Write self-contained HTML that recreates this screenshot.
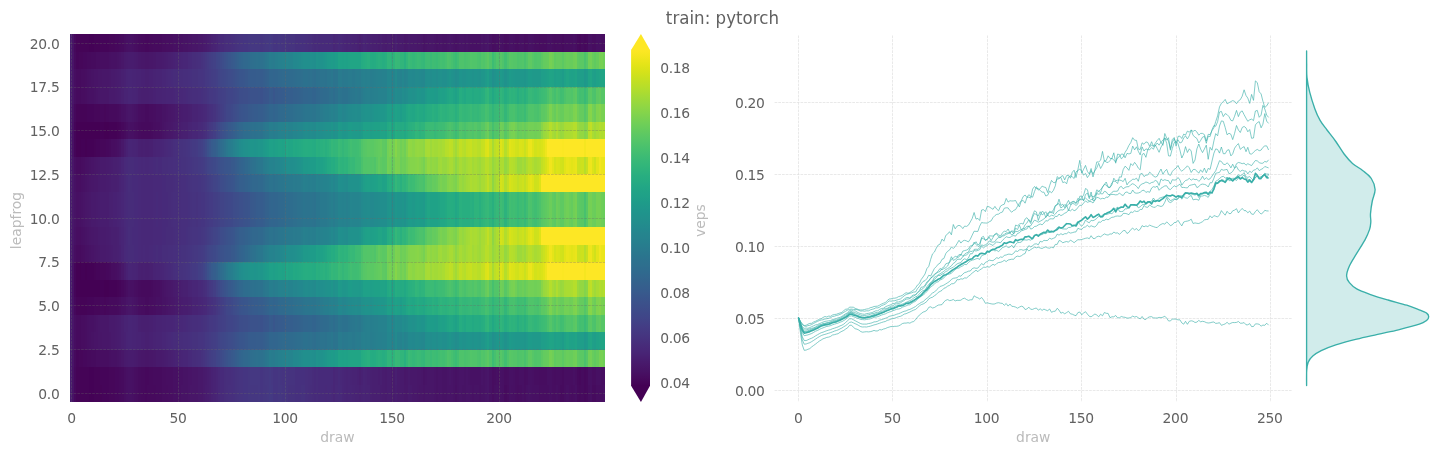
<!DOCTYPE html>
<html lang="en"><head><meta charset="utf-8"><title>train: pytorch</title>
<style>html,body{margin:0;padding:0;background:#fff;overflow:hidden}svg{display:block}</style>
</head><body>
<svg width="1444" height="455" viewBox="0 0 1444 455" font-family="'DejaVu Sans', 'Liberation Sans', sans-serif">
<rect width="1444" height="455" fill="#ffffff"/>
<g shape-rendering="crispEdges">
<g transform="translate(0,384.38)">
<rect x="70.00" width="2.44" height="17.82" fill="#481c6e"/><rect x="72.14" width="2.44" height="17.82" fill="#471365"/><rect x="74.28" width="2.44" height="17.82" fill="#46085c"/><rect x="76.42" width="13.14" height="17.82" fill="#450457"/><rect x="89.26" width="4.58" height="17.82" fill="#440256"/><rect x="93.54" width="8.86" height="17.82" fill="#450457"/><rect x="102.10" width="6.72" height="17.82" fill="#450559"/><rect x="108.52" width="6.72" height="17.82" fill="#46075a"/><rect x="114.94" width="4.58" height="17.82" fill="#46085c"/><rect x="119.22" width="2.44" height="17.82" fill="#460a5d"/><rect x="121.36" width="2.44" height="17.82" fill="#460b5e"/><rect x="123.50" width="2.44" height="17.82" fill="#470e61"/><rect x="125.64" width="2.44" height="17.82" fill="#471063"/><rect x="127.78" width="4.58" height="17.82" fill="#471164"/><rect x="132.06" width="2.44" height="17.82" fill="#471063"/><rect x="134.20" width="2.44" height="17.82" fill="#470e61"/><rect x="136.34" width="2.44" height="17.82" fill="#470d60"/><rect x="138.48" width="2.44" height="17.82" fill="#460b5e"/><rect x="140.62" width="4.58" height="17.82" fill="#460a5d"/><rect x="144.90" width="2.44" height="17.82" fill="#46085c"/><rect x="147.04" width="8.86" height="17.82" fill="#460a5d"/><rect x="155.60" width="6.72" height="17.82" fill="#460b5e"/><rect x="162.02" width="6.72" height="17.82" fill="#470d60"/><rect x="168.44" width="4.58" height="17.82" fill="#470e61"/><rect x="172.72" width="6.72" height="17.82" fill="#471063"/><rect x="179.14" width="2.44" height="17.82" fill="#471164"/><rect x="181.28" width="6.72" height="17.82" fill="#471365"/><rect x="187.70" width="2.44" height="17.82" fill="#481467"/><rect x="189.84" width="8.86" height="17.82" fill="#481668"/><rect x="198.40" width="4.58" height="17.82" fill="#48186a"/><rect x="202.68" width="2.44" height="17.82" fill="#481a6c"/><rect x="204.82" width="2.44" height="17.82" fill="#481c6e"/><rect x="206.96" width="2.44" height="17.82" fill="#481d6f"/><rect x="209.10" width="2.44" height="17.82" fill="#481f70"/><rect x="211.24" width="2.44" height="17.82" fill="#482173"/><rect x="213.38" width="2.44" height="17.82" fill="#482374"/><rect x="215.52" width="2.44" height="17.82" fill="#482576"/><rect x="217.66" width="2.44" height="17.82" fill="#482878"/><rect x="219.80" width="4.58" height="17.82" fill="#472a7a"/><rect x="224.08" width="2.44" height="17.82" fill="#472d7b"/><rect x="226.22" width="2.44" height="17.82" fill="#472e7c"/><rect x="228.36" width="4.58" height="17.82" fill="#472f7d"/><rect x="232.64" width="2.44" height="17.82" fill="#46307e"/><rect x="234.78" width="2.44" height="17.82" fill="#46327e"/><rect x="236.92" width="2.44" height="17.82" fill="#46337f"/><rect x="239.06" width="4.58" height="17.82" fill="#463480"/><rect x="243.34" width="4.58" height="17.82" fill="#453581"/><rect x="247.62" width="11.00" height="17.82" fill="#453781"/><rect x="258.32" width="2.44" height="17.82" fill="#453882"/><rect x="260.46" width="2.44" height="17.82" fill="#453581"/><rect x="262.60" width="4.58" height="17.82" fill="#453781"/><rect x="266.88" width="2.44" height="17.82" fill="#453882"/><rect x="269.02" width="2.44" height="17.82" fill="#443a83"/><rect x="271.16" width="2.44" height="17.82" fill="#443983"/><rect x="273.30" width="4.58" height="17.82" fill="#453581"/><rect x="277.58" width="4.58" height="17.82" fill="#453781"/><rect x="281.86" width="4.58" height="17.82" fill="#453581"/><rect x="286.14" width="2.44" height="17.82" fill="#463480"/><rect x="288.28" width="6.72" height="17.82" fill="#46327e"/><rect x="294.70" width="6.72" height="17.82" fill="#46307e"/><rect x="301.12" width="4.58" height="17.82" fill="#46327e"/><rect x="305.40" width="2.44" height="17.82" fill="#472f7d"/><rect x="307.54" width="2.44" height="17.82" fill="#472e7c"/><rect x="309.68" width="2.44" height="17.82" fill="#472d7b"/><rect x="311.82" width="2.44" height="17.82" fill="#472c7a"/><rect x="313.96" width="2.44" height="17.82" fill="#472a7a"/><rect x="316.10" width="2.44" height="17.82" fill="#472c7a"/><rect x="318.24" width="6.72" height="17.82" fill="#472a7a"/><rect x="324.66" width="2.44" height="17.82" fill="#482979"/><rect x="326.80" width="4.58" height="17.82" fill="#472a7a"/><rect x="331.08" width="2.44" height="17.82" fill="#482979"/><rect x="333.22" width="2.44" height="17.82" fill="#482677"/><rect x="335.36" width="2.44" height="17.82" fill="#482979"/><rect x="337.50" width="2.44" height="17.82" fill="#472a7a"/><rect x="339.64" width="2.44" height="17.82" fill="#482979"/><rect x="341.78" width="2.44" height="17.82" fill="#482677"/><rect x="343.92" width="2.44" height="17.82" fill="#482576"/><rect x="346.06" width="2.44" height="17.82" fill="#482475"/><rect x="348.20" width="4.58" height="17.82" fill="#482576"/><rect x="352.48" width="2.44" height="17.82" fill="#482475"/><rect x="354.62" width="4.58" height="17.82" fill="#482374"/><rect x="358.90" width="2.44" height="17.82" fill="#482173"/><rect x="361.04" width="2.44" height="17.82" fill="#482374"/><rect x="363.18" width="2.44" height="17.82" fill="#482475"/><rect x="365.32" width="4.58" height="17.82" fill="#482374"/><rect x="369.60" width="2.44" height="17.82" fill="#482071"/><rect x="371.74" width="8.86" height="17.82" fill="#481f70"/><rect x="380.30" width="2.44" height="17.82" fill="#481d6f"/><rect x="382.44" width="2.44" height="17.82" fill="#481c6e"/><rect x="384.58" width="2.44" height="17.82" fill="#481b6d"/><rect x="386.72" width="4.58" height="17.82" fill="#481d6f"/><rect x="391.00" width="4.58" height="17.82" fill="#481b6d"/><rect x="395.28" width="2.44" height="17.82" fill="#481d6f"/><rect x="397.42" width="2.44" height="17.82" fill="#481b6d"/><rect x="399.56" width="4.58" height="17.82" fill="#481a6c"/><rect x="403.84" width="4.58" height="17.82" fill="#48186a"/><rect x="408.12" width="2.44" height="17.82" fill="#481b6d"/><rect x="410.26" width="2.44" height="17.82" fill="#481a6c"/><rect x="412.40" width="4.58" height="17.82" fill="#48186a"/><rect x="416.68" width="2.44" height="17.82" fill="#481769"/><rect x="418.82" width="4.58" height="17.82" fill="#481668"/><rect x="423.10" width="2.44" height="17.82" fill="#481467"/><rect x="425.24" width="8.86" height="17.82" fill="#481668"/><rect x="433.80" width="2.44" height="17.82" fill="#481467"/><rect x="435.94" width="2.44" height="17.82" fill="#471365"/><rect x="438.08" width="4.58" height="17.82" fill="#481467"/><rect x="442.36" width="4.58" height="17.82" fill="#471365"/><rect x="446.64" width="6.72" height="17.82" fill="#481467"/><rect x="453.06" width="2.44" height="17.82" fill="#471365"/><rect x="455.20" width="2.44" height="17.82" fill="#471063"/><rect x="457.34" width="2.44" height="17.82" fill="#471365"/><rect x="459.48" width="2.44" height="17.82" fill="#481467"/><rect x="461.62" width="4.58" height="17.82" fill="#471365"/><rect x="465.90" width="4.58" height="17.82" fill="#481467"/><rect x="470.18" width="2.44" height="17.82" fill="#471365"/><rect x="472.32" width="2.44" height="17.82" fill="#471164"/><rect x="474.46" width="4.58" height="17.82" fill="#471365"/><rect x="478.74" width="2.44" height="17.82" fill="#471164"/><rect x="480.88" width="4.58" height="17.82" fill="#471365"/><rect x="485.16" width="2.44" height="17.82" fill="#481467"/><rect x="487.30" width="2.44" height="17.82" fill="#481668"/><rect x="489.44" width="2.44" height="17.82" fill="#471164"/><rect x="491.58" width="2.44" height="17.82" fill="#470d60"/><rect x="493.72" width="2.44" height="17.82" fill="#471063"/><rect x="495.86" width="2.44" height="17.82" fill="#471164"/><rect x="498.00" width="2.44" height="17.82" fill="#471063"/><rect x="500.14" width="2.44" height="17.82" fill="#471164"/><rect x="502.28" width="2.44" height="17.82" fill="#471063"/><rect x="504.42" width="2.44" height="17.82" fill="#460b5e"/><rect x="506.56" width="2.44" height="17.82" fill="#470d60"/><rect x="508.70" width="2.44" height="17.82" fill="#471164"/><rect x="510.84" width="4.58" height="17.82" fill="#471063"/><rect x="515.12" width="2.44" height="17.82" fill="#470e61"/><rect x="517.26" width="2.44" height="17.82" fill="#470d60"/><rect x="519.40" width="2.44" height="17.82" fill="#470e61"/><rect x="521.54" width="2.44" height="17.82" fill="#471063"/><rect x="523.68" width="2.44" height="17.82" fill="#470e61"/><rect x="525.82" width="2.44" height="17.82" fill="#471164"/><rect x="527.96" width="2.44" height="17.82" fill="#471365"/><rect x="530.10" width="2.44" height="17.82" fill="#471164"/><rect x="532.24" width="6.72" height="17.82" fill="#471063"/><rect x="538.66" width="11.00" height="17.82" fill="#470e61"/><rect x="549.36" width="2.44" height="17.82" fill="#471063"/><rect x="551.50" width="4.58" height="17.82" fill="#470e61"/><rect x="555.78" width="2.44" height="17.82" fill="#471063"/><rect x="557.92" width="2.44" height="17.82" fill="#470e61"/><rect x="560.06" width="4.58" height="17.82" fill="#460b5e"/><rect x="564.34" width="2.44" height="17.82" fill="#470e61"/><rect x="566.48" width="2.44" height="17.82" fill="#471063"/><rect x="568.62" width="2.44" height="17.82" fill="#470e61"/><rect x="570.76" width="2.44" height="17.82" fill="#470d60"/><rect x="572.90" width="2.44" height="17.82" fill="#470e61"/><rect x="575.04" width="2.44" height="17.82" fill="#471063"/><rect x="577.18" width="2.44" height="17.82" fill="#460b5e"/><rect x="579.32" width="2.44" height="17.82" fill="#460a5d"/><rect x="581.46" width="2.44" height="17.82" fill="#460b5e"/><rect x="583.60" width="2.44" height="17.82" fill="#46085c"/><rect x="585.74" width="2.44" height="17.82" fill="#460a5d"/><rect x="587.88" width="2.44" height="17.82" fill="#470e61"/><rect x="590.02" width="2.44" height="17.82" fill="#471063"/><rect x="592.16" width="4.58" height="17.82" fill="#460b5e"/><rect x="596.44" width="6.72" height="17.82" fill="#470e61"/><rect x="602.86" width="2.44" height="17.82" fill="#471063"/>
</g>
<g transform="translate(0,366.87)">
<rect x="70.00" width="2.44" height="17.82" fill="#481c6e"/><rect x="72.14" width="2.44" height="17.82" fill="#471365"/><rect x="74.28" width="2.44" height="17.82" fill="#46085c"/><rect x="76.42" width="13.14" height="17.82" fill="#450457"/><rect x="89.26" width="4.58" height="17.82" fill="#440256"/><rect x="93.54" width="6.72" height="17.82" fill="#450457"/><rect x="99.96" width="8.86" height="17.82" fill="#450559"/><rect x="108.52" width="6.72" height="17.82" fill="#46075a"/><rect x="114.94" width="4.58" height="17.82" fill="#46085c"/><rect x="119.22" width="2.44" height="17.82" fill="#460a5d"/><rect x="121.36" width="2.44" height="17.82" fill="#460b5e"/><rect x="123.50" width="2.44" height="17.82" fill="#470e61"/><rect x="125.64" width="2.44" height="17.82" fill="#471063"/><rect x="127.78" width="4.58" height="17.82" fill="#471164"/><rect x="132.06" width="2.44" height="17.82" fill="#471063"/><rect x="134.20" width="2.44" height="17.82" fill="#470e61"/><rect x="136.34" width="2.44" height="17.82" fill="#470d60"/><rect x="138.48" width="2.44" height="17.82" fill="#460b5e"/><rect x="140.62" width="4.58" height="17.82" fill="#460a5d"/><rect x="144.90" width="4.58" height="17.82" fill="#46085c"/><rect x="149.18" width="4.58" height="17.82" fill="#460a5d"/><rect x="153.46" width="8.86" height="17.82" fill="#460b5e"/><rect x="162.02" width="4.58" height="17.82" fill="#470d60"/><rect x="166.30" width="6.72" height="17.82" fill="#470e61"/><rect x="172.72" width="6.72" height="17.82" fill="#471063"/><rect x="179.14" width="4.58" height="17.82" fill="#471164"/><rect x="183.42" width="4.58" height="17.82" fill="#471365"/><rect x="187.70" width="4.58" height="17.82" fill="#481467"/><rect x="191.98" width="6.72" height="17.82" fill="#481668"/><rect x="198.40" width="4.58" height="17.82" fill="#48186a"/><rect x="202.68" width="2.44" height="17.82" fill="#481a6c"/><rect x="204.82" width="2.44" height="17.82" fill="#481b6d"/><rect x="206.96" width="2.44" height="17.82" fill="#481d6f"/><rect x="209.10" width="2.44" height="17.82" fill="#481f70"/><rect x="211.24" width="2.44" height="17.82" fill="#482173"/><rect x="213.38" width="2.44" height="17.82" fill="#482374"/><rect x="215.52" width="2.44" height="17.82" fill="#482576"/><rect x="217.66" width="2.44" height="17.82" fill="#482878"/><rect x="219.80" width="4.58" height="17.82" fill="#472a7a"/><rect x="224.08" width="2.44" height="17.82" fill="#472d7b"/><rect x="226.22" width="4.58" height="17.82" fill="#472e7c"/><rect x="230.50" width="2.44" height="17.82" fill="#472f7d"/><rect x="232.64" width="2.44" height="17.82" fill="#46307e"/><rect x="234.78" width="2.44" height="17.82" fill="#46327e"/><rect x="236.92" width="2.44" height="17.82" fill="#46337f"/><rect x="239.06" width="4.58" height="17.82" fill="#463480"/><rect x="243.34" width="4.58" height="17.82" fill="#453581"/><rect x="247.62" width="2.44" height="17.82" fill="#453781"/><rect x="249.76" width="11.00" height="17.82" fill="#453882"/><rect x="260.46" width="2.44" height="17.82" fill="#453581"/><rect x="262.60" width="2.44" height="17.82" fill="#453781"/><rect x="264.74" width="4.58" height="17.82" fill="#453882"/><rect x="269.02" width="2.44" height="17.82" fill="#443a83"/><rect x="271.16" width="2.44" height="17.82" fill="#453882"/><rect x="273.30" width="4.58" height="17.82" fill="#453581"/><rect x="277.58" width="2.44" height="17.82" fill="#453781"/><rect x="279.72" width="2.44" height="17.82" fill="#453581"/><rect x="281.86" width="2.44" height="17.82" fill="#463480"/><rect x="284.00" width="2.44" height="17.82" fill="#453581"/><rect x="286.14" width="2.44" height="17.82" fill="#463480"/><rect x="288.28" width="6.72" height="17.82" fill="#46337f"/><rect x="294.70" width="11.00" height="17.82" fill="#46307e"/><rect x="305.40" width="2.44" height="17.82" fill="#472f7d"/><rect x="307.54" width="4.58" height="17.82" fill="#472e7c"/><rect x="311.82" width="2.44" height="17.82" fill="#472c7a"/><rect x="313.96" width="2.44" height="17.82" fill="#472a7a"/><rect x="316.10" width="2.44" height="17.82" fill="#472c7a"/><rect x="318.24" width="15.28" height="17.82" fill="#472a7a"/><rect x="333.22" width="2.44" height="17.82" fill="#482677"/><rect x="335.36" width="2.44" height="17.82" fill="#482878"/><rect x="337.50" width="2.44" height="17.82" fill="#472a7a"/><rect x="339.64" width="2.44" height="17.82" fill="#482878"/><rect x="341.78" width="2.44" height="17.82" fill="#482677"/><rect x="343.92" width="2.44" height="17.82" fill="#482576"/><rect x="346.06" width="2.44" height="17.82" fill="#482475"/><rect x="348.20" width="2.44" height="17.82" fill="#482576"/><rect x="350.34" width="2.44" height="17.82" fill="#482475"/><rect x="352.48" width="4.58" height="17.82" fill="#482374"/><rect x="356.76" width="2.44" height="17.82" fill="#482173"/><rect x="358.90" width="2.44" height="17.82" fill="#481f70"/><rect x="361.04" width="2.44" height="17.82" fill="#482173"/><rect x="363.18" width="2.44" height="17.82" fill="#482475"/><rect x="365.32" width="2.44" height="17.82" fill="#482374"/><rect x="367.46" width="2.44" height="17.82" fill="#482173"/><rect x="369.60" width="2.44" height="17.82" fill="#482071"/><rect x="371.74" width="6.72" height="17.82" fill="#481f70"/><rect x="378.16" width="2.44" height="17.82" fill="#481d6f"/><rect x="380.30" width="2.44" height="17.82" fill="#481f70"/><rect x="382.44" width="2.44" height="17.82" fill="#481c6e"/><rect x="384.58" width="2.44" height="17.82" fill="#481b6d"/><rect x="386.72" width="4.58" height="17.82" fill="#481d6f"/><rect x="391.00" width="2.44" height="17.82" fill="#481a6c"/><rect x="393.14" width="2.44" height="17.82" fill="#481b6d"/><rect x="395.28" width="2.44" height="17.82" fill="#481f70"/><rect x="397.42" width="2.44" height="17.82" fill="#481b6d"/><rect x="399.56" width="4.58" height="17.82" fill="#481a6c"/><rect x="403.84" width="2.44" height="17.82" fill="#481769"/><rect x="405.98" width="2.44" height="17.82" fill="#48186a"/><rect x="408.12" width="2.44" height="17.82" fill="#481a6c"/><rect x="410.26" width="6.72" height="17.82" fill="#48186a"/><rect x="416.68" width="4.58" height="17.82" fill="#481769"/><rect x="420.96" width="2.44" height="17.82" fill="#481668"/><rect x="423.10" width="2.44" height="17.82" fill="#471365"/><rect x="425.24" width="2.44" height="17.82" fill="#481467"/><rect x="427.38" width="6.72" height="17.82" fill="#481668"/><rect x="433.80" width="2.44" height="17.82" fill="#481467"/><rect x="435.94" width="2.44" height="17.82" fill="#471365"/><rect x="438.08" width="4.58" height="17.82" fill="#481467"/><rect x="442.36" width="4.58" height="17.82" fill="#471365"/><rect x="446.64" width="2.44" height="17.82" fill="#481467"/><rect x="448.78" width="2.44" height="17.82" fill="#481668"/><rect x="450.92" width="2.44" height="17.82" fill="#481467"/><rect x="453.06" width="2.44" height="17.82" fill="#471365"/><rect x="455.20" width="2.44" height="17.82" fill="#471164"/><rect x="457.34" width="2.44" height="17.82" fill="#471365"/><rect x="459.48" width="4.58" height="17.82" fill="#481467"/><rect x="463.76" width="2.44" height="17.82" fill="#471365"/><rect x="465.90" width="2.44" height="17.82" fill="#481467"/><rect x="468.04" width="2.44" height="17.82" fill="#471365"/><rect x="470.18" width="11.00" height="17.82" fill="#471164"/><rect x="480.88" width="2.44" height="17.82" fill="#481467"/><rect x="483.02" width="2.44" height="17.82" fill="#471365"/><rect x="485.16" width="2.44" height="17.82" fill="#481467"/><rect x="487.30" width="2.44" height="17.82" fill="#481668"/><rect x="489.44" width="2.44" height="17.82" fill="#471164"/><rect x="491.58" width="2.44" height="17.82" fill="#470d60"/><rect x="493.72" width="2.44" height="17.82" fill="#470e61"/><rect x="495.86" width="2.44" height="17.82" fill="#471063"/><rect x="498.00" width="2.44" height="17.82" fill="#470e61"/><rect x="500.14" width="2.44" height="17.82" fill="#471164"/><rect x="502.28" width="2.44" height="17.82" fill="#471063"/><rect x="504.42" width="2.44" height="17.82" fill="#470d60"/><rect x="506.56" width="2.44" height="17.82" fill="#470e61"/><rect x="508.70" width="4.58" height="17.82" fill="#471164"/><rect x="512.98" width="2.44" height="17.82" fill="#471063"/><rect x="515.12" width="4.58" height="17.82" fill="#470e61"/><rect x="519.40" width="4.58" height="17.82" fill="#471063"/><rect x="523.68" width="2.44" height="17.82" fill="#470d60"/><rect x="525.82" width="2.44" height="17.82" fill="#470e61"/><rect x="527.96" width="4.58" height="17.82" fill="#471164"/><rect x="532.24" width="2.44" height="17.82" fill="#471063"/><rect x="534.38" width="4.58" height="17.82" fill="#470e61"/><rect x="538.66" width="8.86" height="17.82" fill="#470d60"/><rect x="547.22" width="4.58" height="17.82" fill="#471063"/><rect x="551.50" width="2.44" height="17.82" fill="#470e61"/><rect x="553.64" width="2.44" height="17.82" fill="#470d60"/><rect x="555.78" width="4.58" height="17.82" fill="#470e61"/><rect x="560.06" width="2.44" height="17.82" fill="#470d60"/><rect x="562.20" width="2.44" height="17.82" fill="#460b5e"/><rect x="564.34" width="8.86" height="17.82" fill="#470e61"/><rect x="572.90" width="2.44" height="17.82" fill="#471063"/><rect x="575.04" width="2.44" height="17.82" fill="#470e61"/><rect x="577.18" width="2.44" height="17.82" fill="#460a5d"/><rect x="579.32" width="2.44" height="17.82" fill="#46085c"/><rect x="581.46" width="2.44" height="17.82" fill="#460b5e"/><rect x="583.60" width="2.44" height="17.82" fill="#46085c"/><rect x="585.74" width="2.44" height="17.82" fill="#460a5d"/><rect x="587.88" width="4.58" height="17.82" fill="#471063"/><rect x="592.16" width="4.58" height="17.82" fill="#470d60"/><rect x="596.44" width="4.58" height="17.82" fill="#471063"/><rect x="600.72" width="4.58" height="17.82" fill="#470e61"/>
</g>
<g transform="translate(0,349.35)">
<rect x="70.00" width="2.44" height="17.82" fill="#481c6e"/><rect x="72.14" width="2.44" height="17.82" fill="#481467"/><rect x="74.28" width="2.44" height="17.82" fill="#460a5d"/><rect x="76.42" width="2.44" height="17.82" fill="#450559"/><rect x="78.56" width="4.58" height="17.82" fill="#46075a"/><rect x="82.84" width="4.58" height="17.82" fill="#46085c"/><rect x="87.12" width="4.58" height="17.82" fill="#460a5d"/><rect x="91.40" width="4.58" height="17.82" fill="#460b5e"/><rect x="95.68" width="4.58" height="17.82" fill="#470d60"/><rect x="99.96" width="8.86" height="17.82" fill="#470e61"/><rect x="108.52" width="2.44" height="17.82" fill="#471063"/><rect x="110.66" width="6.72" height="17.82" fill="#471164"/><rect x="117.08" width="2.44" height="17.82" fill="#471365"/><rect x="119.22" width="2.44" height="17.82" fill="#481467"/><rect x="121.36" width="2.44" height="17.82" fill="#481769"/><rect x="123.50" width="2.44" height="17.82" fill="#481a6c"/><rect x="125.64" width="2.44" height="17.82" fill="#481b6d"/><rect x="127.78" width="6.72" height="17.82" fill="#481c6e"/><rect x="134.20" width="2.44" height="17.82" fill="#481b6d"/><rect x="136.34" width="2.44" height="17.82" fill="#481a6c"/><rect x="138.48" width="2.44" height="17.82" fill="#48186a"/><rect x="140.62" width="4.58" height="17.82" fill="#481769"/><rect x="144.90" width="4.58" height="17.82" fill="#481668"/><rect x="149.18" width="4.58" height="17.82" fill="#481769"/><rect x="153.46" width="2.44" height="17.82" fill="#48186a"/><rect x="155.60" width="6.72" height="17.82" fill="#481a6c"/><rect x="162.02" width="2.44" height="17.82" fill="#481b6d"/><rect x="164.16" width="2.44" height="17.82" fill="#481c6e"/><rect x="166.30" width="2.44" height="17.82" fill="#481d6f"/><rect x="168.44" width="2.44" height="17.82" fill="#481f70"/><rect x="170.58" width="2.44" height="17.82" fill="#482071"/><rect x="172.72" width="2.44" height="17.82" fill="#482173"/><rect x="174.86" width="4.58" height="17.82" fill="#482374"/><rect x="179.14" width="2.44" height="17.82" fill="#482475"/><rect x="181.28" width="2.44" height="17.82" fill="#482576"/><rect x="183.42" width="4.58" height="17.82" fill="#482677"/><rect x="187.70" width="2.44" height="17.82" fill="#482979"/><rect x="189.84" width="2.44" height="17.82" fill="#472a7a"/><rect x="191.98" width="4.58" height="17.82" fill="#472d7b"/><rect x="196.26" width="2.44" height="17.82" fill="#472e7c"/><rect x="198.40" width="2.44" height="17.82" fill="#472f7d"/><rect x="200.54" width="2.44" height="17.82" fill="#46327e"/><rect x="202.68" width="2.44" height="17.82" fill="#463480"/><rect x="204.82" width="2.44" height="17.82" fill="#453781"/><rect x="206.96" width="2.44" height="17.82" fill="#443a83"/><rect x="209.10" width="2.44" height="17.82" fill="#433d84"/><rect x="211.24" width="2.44" height="17.82" fill="#423f85"/><rect x="213.38" width="2.44" height="17.82" fill="#424186"/><rect x="215.52" width="2.44" height="17.82" fill="#404588"/><rect x="217.66" width="2.44" height="17.82" fill="#3f4788"/><rect x="219.80" width="2.44" height="17.82" fill="#3e4a89"/><rect x="221.94" width="2.44" height="17.82" fill="#3d4d8a"/><rect x="224.08" width="2.44" height="17.82" fill="#3c508b"/><rect x="226.22" width="2.44" height="17.82" fill="#3a538b"/><rect x="228.36" width="2.44" height="17.82" fill="#39568c"/><rect x="230.50" width="2.44" height="17.82" fill="#38598c"/><rect x="232.64" width="2.44" height="17.82" fill="#375b8d"/><rect x="234.78" width="2.44" height="17.82" fill="#355e8d"/><rect x="236.92" width="2.44" height="17.82" fill="#34618d"/><rect x="239.06" width="2.44" height="17.82" fill="#32648e"/><rect x="241.20" width="2.44" height="17.82" fill="#31668e"/><rect x="243.34" width="2.44" height="17.82" fill="#31688e"/><rect x="245.48" width="2.44" height="17.82" fill="#30698e"/><rect x="247.62" width="2.44" height="17.82" fill="#2f6b8e"/><rect x="249.76" width="2.44" height="17.82" fill="#2e6e8e"/><rect x="251.90" width="2.44" height="17.82" fill="#2e6f8e"/><rect x="254.04" width="2.44" height="17.82" fill="#2d708e"/><rect x="256.18" width="2.44" height="17.82" fill="#2d718e"/><rect x="258.32" width="2.44" height="17.82" fill="#2c718e"/><rect x="260.46" width="2.44" height="17.82" fill="#2d718e"/><rect x="262.60" width="2.44" height="17.82" fill="#2c738e"/><rect x="264.74" width="2.44" height="17.82" fill="#2a768e"/><rect x="266.88" width="2.44" height="17.82" fill="#2a788e"/><rect x="269.02" width="2.44" height="17.82" fill="#287d8e"/><rect x="271.16" width="2.44" height="17.82" fill="#287c8e"/><rect x="273.30" width="2.44" height="17.82" fill="#297b8e"/><rect x="275.44" width="2.44" height="17.82" fill="#277e8e"/><rect x="277.58" width="2.44" height="17.82" fill="#27808e"/><rect x="279.72" width="2.44" height="17.82" fill="#26818e"/><rect x="281.86" width="2.44" height="17.82" fill="#26828e"/><rect x="284.00" width="2.44" height="17.82" fill="#25838e"/><rect x="286.14" width="2.44" height="17.82" fill="#25858e"/><rect x="288.28" width="4.58" height="17.82" fill="#25848e"/><rect x="292.56" width="4.58" height="17.82" fill="#23888e"/><rect x="296.84" width="2.44" height="17.82" fill="#23898e"/><rect x="298.98" width="2.44" height="17.82" fill="#228b8d"/><rect x="301.12" width="2.44" height="17.82" fill="#228d8d"/><rect x="303.26" width="6.72" height="17.82" fill="#218f8d"/><rect x="309.68" width="2.44" height="17.82" fill="#21908d"/><rect x="311.82" width="2.44" height="17.82" fill="#218f8d"/><rect x="313.96" width="2.44" height="17.82" fill="#218e8d"/><rect x="316.10" width="2.44" height="17.82" fill="#20938c"/><rect x="318.24" width="4.58" height="17.82" fill="#20928c"/><rect x="322.52" width="2.44" height="17.82" fill="#1f948c"/><rect x="324.66" width="2.44" height="17.82" fill="#1f968b"/><rect x="326.80" width="2.44" height="17.82" fill="#1f998a"/><rect x="328.94" width="2.44" height="17.82" fill="#1f9a8a"/><rect x="331.08" width="2.44" height="17.82" fill="#1e9c89"/><rect x="333.22" width="2.44" height="17.82" fill="#1f9a8a"/><rect x="335.36" width="2.44" height="17.82" fill="#1e9d89"/><rect x="337.50" width="2.44" height="17.82" fill="#20a386"/><rect x="339.64" width="2.44" height="17.82" fill="#1fa287"/><rect x="341.78" width="2.44" height="17.82" fill="#1fa187"/><rect x="343.92" width="2.44" height="17.82" fill="#1fa287"/><rect x="346.06" width="2.44" height="17.82" fill="#1fa187"/><rect x="348.20" width="2.44" height="17.82" fill="#20a386"/><rect x="350.34" width="11.00" height="17.82" fill="#21a585"/><rect x="361.04" width="2.44" height="17.82" fill="#25ab82"/><rect x="363.18" width="2.44" height="17.82" fill="#26ad81"/><rect x="365.32" width="2.44" height="17.82" fill="#28ae80"/><rect x="367.46" width="2.44" height="17.82" fill="#2ab07f"/><rect x="369.60" width="2.44" height="17.82" fill="#25ac82"/><rect x="371.74" width="2.44" height="17.82" fill="#25ab82"/><rect x="373.88" width="2.44" height="17.82" fill="#25ac82"/><rect x="376.02" width="2.44" height="17.82" fill="#28ae80"/><rect x="378.16" width="2.44" height="17.82" fill="#2ab07f"/><rect x="380.30" width="2.44" height="17.82" fill="#29af7f"/><rect x="382.44" width="2.44" height="17.82" fill="#27ad81"/><rect x="384.58" width="2.44" height="17.82" fill="#29af7f"/><rect x="386.72" width="4.58" height="17.82" fill="#31b57b"/><rect x="391.00" width="2.44" height="17.82" fill="#2cb17e"/><rect x="393.14" width="2.44" height="17.82" fill="#2fb47c"/><rect x="395.28" width="2.44" height="17.82" fill="#38b977"/><rect x="397.42" width="2.44" height="17.82" fill="#37b878"/><rect x="399.56" width="4.58" height="17.82" fill="#31b57b"/><rect x="403.84" width="2.44" height="17.82" fill="#2ab07f"/><rect x="405.98" width="2.44" height="17.82" fill="#32b67a"/><rect x="408.12" width="2.44" height="17.82" fill="#3bbb75"/><rect x="410.26" width="2.44" height="17.82" fill="#38b977"/><rect x="412.40" width="2.44" height="17.82" fill="#35b779"/><rect x="414.54" width="2.44" height="17.82" fill="#38b977"/><rect x="416.68" width="2.44" height="17.82" fill="#3bbb75"/><rect x="418.82" width="2.44" height="17.82" fill="#3aba76"/><rect x="420.96" width="2.44" height="17.82" fill="#37b878"/><rect x="423.10" width="2.44" height="17.82" fill="#35b779"/><rect x="425.24" width="2.44" height="17.82" fill="#3dbc74"/><rect x="427.38" width="2.44" height="17.82" fill="#3fbc73"/><rect x="429.52" width="2.44" height="17.82" fill="#3aba76"/><rect x="431.66" width="2.44" height="17.82" fill="#3fbc73"/><rect x="433.80" width="2.44" height="17.82" fill="#3dbc74"/><rect x="435.94" width="2.44" height="17.82" fill="#3bbb75"/><rect x="438.08" width="2.44" height="17.82" fill="#40bd72"/><rect x="440.22" width="2.44" height="17.82" fill="#44bf70"/><rect x="442.36" width="2.44" height="17.82" fill="#42be71"/><rect x="444.50" width="2.44" height="17.82" fill="#46c06f"/><rect x="446.64" width="2.44" height="17.82" fill="#4ec36b"/><rect x="448.78" width="2.44" height="17.82" fill="#4cc26c"/><rect x="450.92" width="2.44" height="17.82" fill="#46c06f"/><rect x="453.06" width="2.44" height="17.82" fill="#40bd72"/><rect x="455.20" width="2.44" height="17.82" fill="#3bbb75"/><rect x="457.34" width="2.44" height="17.82" fill="#42be71"/><rect x="459.48" width="4.58" height="17.82" fill="#4ec36b"/><rect x="463.76" width="2.44" height="17.82" fill="#4ac16d"/><rect x="465.90" width="2.44" height="17.82" fill="#4cc26c"/><rect x="468.04" width="2.44" height="17.82" fill="#4ec36b"/><rect x="470.18" width="2.44" height="17.82" fill="#52c569"/><rect x="472.32" width="4.58" height="17.82" fill="#50c46a"/><rect x="476.60" width="2.44" height="17.82" fill="#4cc26c"/><rect x="478.74" width="2.44" height="17.82" fill="#4ac16d"/><rect x="480.88" width="2.44" height="17.82" fill="#52c569"/><rect x="483.02" width="2.44" height="17.82" fill="#50c46a"/><rect x="485.16" width="2.44" height="17.82" fill="#56c667"/><rect x="487.30" width="2.44" height="17.82" fill="#5cc863"/><rect x="489.44" width="2.44" height="17.82" fill="#50c46a"/><rect x="491.58" width="2.44" height="17.82" fill="#3dbc74"/><rect x="493.72" width="2.44" height="17.82" fill="#46c06f"/><rect x="495.86" width="2.44" height="17.82" fill="#50c46a"/><rect x="498.00" width="2.44" height="17.82" fill="#4ec36b"/><rect x="500.14" width="2.44" height="17.82" fill="#56c667"/><rect x="502.28" width="2.44" height="17.82" fill="#4ec36b"/><rect x="504.42" width="2.44" height="17.82" fill="#42be71"/><rect x="506.56" width="2.44" height="17.82" fill="#4ec36b"/><rect x="508.70" width="2.44" height="17.82" fill="#58c765"/><rect x="510.84" width="2.44" height="17.82" fill="#56c667"/><rect x="512.98" width="4.58" height="17.82" fill="#54c568"/><rect x="517.26" width="2.44" height="17.82" fill="#4ec36b"/><rect x="519.40" width="2.44" height="17.82" fill="#50c46a"/><rect x="521.54" width="2.44" height="17.82" fill="#52c569"/><rect x="523.68" width="2.44" height="17.82" fill="#4ac16d"/><rect x="525.82" width="2.44" height="17.82" fill="#52c569"/><rect x="527.96" width="4.58" height="17.82" fill="#5ec962"/><rect x="532.24" width="2.44" height="17.82" fill="#56c667"/><rect x="534.38" width="2.44" height="17.82" fill="#50c46a"/><rect x="536.52" width="4.58" height="17.82" fill="#52c569"/><rect x="540.80" width="2.44" height="17.82" fill="#5cc863"/><rect x="542.94" width="2.44" height="17.82" fill="#63cb5f"/><rect x="545.08" width="2.44" height="17.82" fill="#65cb5e"/><rect x="547.22" width="2.44" height="17.82" fill="#67cc5c"/><rect x="549.36" width="2.44" height="17.82" fill="#75d054"/><rect x="551.50" width="2.44" height="17.82" fill="#6ece58"/><rect x="553.64" width="2.44" height="17.82" fill="#60ca60"/><rect x="555.78" width="4.58" height="17.82" fill="#65cb5e"/><rect x="560.06" width="2.44" height="17.82" fill="#63cb5f"/><rect x="562.20" width="2.44" height="17.82" fill="#5cc863"/><rect x="564.34" width="2.44" height="17.82" fill="#65cb5e"/><rect x="566.48" width="2.44" height="17.82" fill="#69cd5b"/><rect x="568.62" width="4.58" height="17.82" fill="#67cc5c"/><rect x="572.90" width="2.44" height="17.82" fill="#6ece58"/><rect x="575.04" width="2.44" height="17.82" fill="#70cf57"/><rect x="577.18" width="2.44" height="17.82" fill="#5ec962"/><rect x="579.32" width="4.58" height="17.82" fill="#5ac864"/><rect x="583.60" width="2.44" height="17.82" fill="#4cc26c"/><rect x="585.74" width="2.44" height="17.82" fill="#56c667"/><rect x="587.88" width="2.44" height="17.82" fill="#70cf57"/><rect x="590.02" width="2.44" height="17.82" fill="#73d056"/><rect x="592.16" width="2.44" height="17.82" fill="#67cc5c"/><rect x="594.30" width="2.44" height="17.82" fill="#60ca60"/><rect x="596.44" width="2.44" height="17.82" fill="#67cc5c"/><rect x="598.58" width="2.44" height="17.82" fill="#75d054"/><rect x="600.72" width="2.44" height="17.82" fill="#77d153"/><rect x="602.86" width="2.44" height="17.82" fill="#6ece58"/>
</g>
<g transform="translate(0,331.83)">
<rect x="70.00" width="2.44" height="17.82" fill="#481c6e"/><rect x="72.14" width="2.44" height="17.82" fill="#481668"/><rect x="74.28" width="2.44" height="17.82" fill="#470e61"/><rect x="76.42" width="4.58" height="17.82" fill="#460b5e"/><rect x="80.70" width="4.58" height="17.82" fill="#470d60"/><rect x="84.98" width="2.44" height="17.82" fill="#470e61"/><rect x="87.12" width="2.44" height="17.82" fill="#471063"/><rect x="89.26" width="2.44" height="17.82" fill="#471164"/><rect x="91.40" width="2.44" height="17.82" fill="#471365"/><rect x="93.54" width="4.58" height="17.82" fill="#481467"/><rect x="97.82" width="4.58" height="17.82" fill="#481668"/><rect x="102.10" width="6.72" height="17.82" fill="#481769"/><rect x="108.52" width="2.44" height="17.82" fill="#48186a"/><rect x="110.66" width="4.58" height="17.82" fill="#481a6c"/><rect x="114.94" width="2.44" height="17.82" fill="#481b6d"/><rect x="117.08" width="2.44" height="17.82" fill="#481c6e"/><rect x="119.22" width="2.44" height="17.82" fill="#481d6f"/><rect x="121.36" width="2.44" height="17.82" fill="#482071"/><rect x="123.50" width="2.44" height="17.82" fill="#482173"/><rect x="125.64" width="2.44" height="17.82" fill="#482475"/><rect x="127.78" width="4.58" height="17.82" fill="#482576"/><rect x="132.06" width="4.58" height="17.82" fill="#482475"/><rect x="136.34" width="4.58" height="17.82" fill="#482374"/><rect x="140.62" width="4.58" height="17.82" fill="#482173"/><rect x="144.90" width="4.58" height="17.82" fill="#482071"/><rect x="149.18" width="4.58" height="17.82" fill="#482173"/><rect x="153.46" width="2.44" height="17.82" fill="#482374"/><rect x="155.60" width="6.72" height="17.82" fill="#482475"/><rect x="162.02" width="4.58" height="17.82" fill="#482677"/><rect x="166.30" width="2.44" height="17.82" fill="#482878"/><rect x="168.44" width="2.44" height="17.82" fill="#482979"/><rect x="170.58" width="2.44" height="17.82" fill="#472a7a"/><rect x="172.72" width="6.72" height="17.82" fill="#472c7a"/><rect x="179.14" width="4.58" height="17.82" fill="#472d7b"/><rect x="183.42" width="4.58" height="17.82" fill="#472e7c"/><rect x="187.70" width="2.44" height="17.82" fill="#472f7d"/><rect x="189.84" width="2.44" height="17.82" fill="#46307e"/><rect x="191.98" width="6.72" height="17.82" fill="#46327e"/><rect x="198.40" width="4.58" height="17.82" fill="#463480"/><rect x="202.68" width="2.44" height="17.82" fill="#453581"/><rect x="204.82" width="2.44" height="17.82" fill="#453882"/><rect x="206.96" width="2.44" height="17.82" fill="#443983"/><rect x="209.10" width="2.44" height="17.82" fill="#443b84"/><rect x="211.24" width="2.44" height="17.82" fill="#433d84"/><rect x="213.38" width="2.44" height="17.82" fill="#433e85"/><rect x="215.52" width="2.44" height="17.82" fill="#424086"/><rect x="217.66" width="2.44" height="17.82" fill="#414487"/><rect x="219.80" width="2.44" height="17.82" fill="#404688"/><rect x="221.94" width="2.44" height="17.82" fill="#3f4788"/><rect x="224.08" width="2.44" height="17.82" fill="#3f4889"/><rect x="226.22" width="2.44" height="17.82" fill="#3e4a89"/><rect x="228.36" width="2.44" height="17.82" fill="#3e4c8a"/><rect x="230.50" width="2.44" height="17.82" fill="#3d4d8a"/><rect x="232.64" width="2.44" height="17.82" fill="#3c4f8a"/><rect x="234.78" width="2.44" height="17.82" fill="#3b518b"/><rect x="236.92" width="2.44" height="17.82" fill="#3a538b"/><rect x="239.06" width="4.58" height="17.82" fill="#39558c"/><rect x="243.34" width="2.44" height="17.82" fill="#39568c"/><rect x="245.48" width="2.44" height="17.82" fill="#38588c"/><rect x="247.62" width="2.44" height="17.82" fill="#375b8d"/><rect x="249.76" width="6.72" height="17.82" fill="#365c8d"/><rect x="256.18" width="4.58" height="17.82" fill="#365d8d"/><rect x="260.46" width="2.44" height="17.82" fill="#365c8d"/><rect x="262.60" width="2.44" height="17.82" fill="#355e8d"/><rect x="264.74" width="2.44" height="17.82" fill="#34608d"/><rect x="266.88" width="2.44" height="17.82" fill="#33628d"/><rect x="269.02" width="4.58" height="17.82" fill="#31668e"/><rect x="273.30" width="2.44" height="17.82" fill="#32658e"/><rect x="275.44" width="2.44" height="17.82" fill="#31668e"/><rect x="277.58" width="2.44" height="17.82" fill="#31688e"/><rect x="279.72" width="2.44" height="17.82" fill="#30698e"/><rect x="281.86" width="4.58" height="17.82" fill="#306a8e"/><rect x="286.14" width="6.72" height="17.82" fill="#2f6b8e"/><rect x="292.56" width="2.44" height="17.82" fill="#2f6c8e"/><rect x="294.70" width="2.44" height="17.82" fill="#2e6d8e"/><rect x="296.84" width="4.58" height="17.82" fill="#2e6e8e"/><rect x="301.12" width="2.44" height="17.82" fill="#2e6f8e"/><rect x="303.26" width="4.58" height="17.82" fill="#2c718e"/><rect x="307.54" width="2.44" height="17.82" fill="#2d708e"/><rect x="309.68" width="2.44" height="17.82" fill="#2d718e"/><rect x="311.82" width="2.44" height="17.82" fill="#2e6f8e"/><rect x="313.96" width="2.44" height="17.82" fill="#2e6e8e"/><rect x="316.10" width="2.44" height="17.82" fill="#2c718e"/><rect x="318.24" width="2.44" height="17.82" fill="#2d718e"/><rect x="320.38" width="4.58" height="17.82" fill="#2c738e"/><rect x="324.66" width="2.44" height="17.82" fill="#2c728e"/><rect x="326.80" width="4.58" height="17.82" fill="#2b758e"/><rect x="331.08" width="2.44" height="17.82" fill="#2a778e"/><rect x="333.22" width="2.44" height="17.82" fill="#2c738e"/><rect x="335.36" width="2.44" height="17.82" fill="#2b748e"/><rect x="337.50" width="4.58" height="17.82" fill="#297b8e"/><rect x="341.78" width="2.44" height="17.82" fill="#2a788e"/><rect x="343.92" width="4.58" height="17.82" fill="#29798e"/><rect x="348.20" width="4.58" height="17.82" fill="#297b8e"/><rect x="352.48" width="2.44" height="17.82" fill="#29798e"/><rect x="354.62" width="2.44" height="17.82" fill="#297b8e"/><rect x="356.76" width="2.44" height="17.82" fill="#287c8e"/><rect x="358.90" width="2.44" height="17.82" fill="#297b8e"/><rect x="361.04" width="2.44" height="17.82" fill="#277f8e"/><rect x="363.18" width="2.44" height="17.82" fill="#27808e"/><rect x="365.32" width="2.44" height="17.82" fill="#277f8e"/><rect x="367.46" width="2.44" height="17.82" fill="#27808e"/><rect x="369.60" width="2.44" height="17.82" fill="#287d8e"/><rect x="371.74" width="2.44" height="17.82" fill="#277e8e"/><rect x="373.88" width="2.44" height="17.82" fill="#277f8e"/><rect x="376.02" width="2.44" height="17.82" fill="#27808e"/><rect x="378.16" width="2.44" height="17.82" fill="#26818e"/><rect x="380.30" width="2.44" height="17.82" fill="#27808e"/><rect x="382.44" width="4.58" height="17.82" fill="#26818e"/><rect x="386.72" width="4.58" height="17.82" fill="#24868e"/><rect x="391.00" width="2.44" height="17.82" fill="#26828e"/><rect x="393.14" width="2.44" height="17.82" fill="#25848e"/><rect x="395.28" width="2.44" height="17.82" fill="#238a8d"/><rect x="397.42" width="2.44" height="17.82" fill="#25848e"/><rect x="399.56" width="2.44" height="17.82" fill="#26828e"/><rect x="401.70" width="2.44" height="17.82" fill="#24868e"/><rect x="403.84" width="2.44" height="17.82" fill="#26828e"/><rect x="405.98" width="2.44" height="17.82" fill="#25848e"/><rect x="408.12" width="4.58" height="17.82" fill="#23898e"/><rect x="412.40" width="2.44" height="17.82" fill="#23888e"/><rect x="414.54" width="4.58" height="17.82" fill="#238a8d"/><rect x="418.82" width="2.44" height="17.82" fill="#23898e"/><rect x="420.96" width="2.44" height="17.82" fill="#23888e"/><rect x="423.10" width="2.44" height="17.82" fill="#24878e"/><rect x="425.24" width="2.44" height="17.82" fill="#218e8d"/><rect x="427.38" width="2.44" height="17.82" fill="#218f8d"/><rect x="429.52" width="2.44" height="17.82" fill="#228d8d"/><rect x="431.66" width="4.58" height="17.82" fill="#218f8d"/><rect x="435.94" width="2.44" height="17.82" fill="#228d8d"/><rect x="438.08" width="2.44" height="17.82" fill="#21908d"/><rect x="440.22" width="2.44" height="17.82" fill="#21918c"/><rect x="442.36" width="4.58" height="17.82" fill="#218f8d"/><rect x="446.64" width="2.44" height="17.82" fill="#20928c"/><rect x="448.78" width="2.44" height="17.82" fill="#1f958b"/><rect x="450.92" width="2.44" height="17.82" fill="#20928c"/><rect x="453.06" width="2.44" height="17.82" fill="#21908d"/><rect x="455.20" width="2.44" height="17.82" fill="#228d8d"/><rect x="457.34" width="2.44" height="17.82" fill="#218f8d"/><rect x="459.48" width="2.44" height="17.82" fill="#1f948c"/><rect x="461.62" width="4.58" height="17.82" fill="#20928c"/><rect x="465.90" width="2.44" height="17.82" fill="#1f948c"/><rect x="468.04" width="2.44" height="17.82" fill="#1f958b"/><rect x="470.18" width="2.44" height="17.82" fill="#1f948c"/><rect x="472.32" width="2.44" height="17.82" fill="#20928c"/><rect x="474.46" width="2.44" height="17.82" fill="#1f948c"/><rect x="476.60" width="2.44" height="17.82" fill="#20938c"/><rect x="478.74" width="2.44" height="17.82" fill="#20928c"/><rect x="480.88" width="4.58" height="17.82" fill="#1f968b"/><rect x="485.16" width="2.44" height="17.82" fill="#1f9a8a"/><rect x="487.30" width="2.44" height="17.82" fill="#1f9e89"/><rect x="489.44" width="2.44" height="17.82" fill="#1f978b"/><rect x="491.58" width="2.44" height="17.82" fill="#21908d"/><rect x="493.72" width="2.44" height="17.82" fill="#20938c"/><rect x="495.86" width="2.44" height="17.82" fill="#1f968b"/><rect x="498.00" width="2.44" height="17.82" fill="#1f978b"/><rect x="500.14" width="2.44" height="17.82" fill="#1f9a8a"/><rect x="502.28" width="2.44" height="17.82" fill="#1f978b"/><rect x="504.42" width="2.44" height="17.82" fill="#20928c"/><rect x="506.56" width="2.44" height="17.82" fill="#1f968b"/><rect x="508.70" width="2.44" height="17.82" fill="#1e9b8a"/><rect x="510.84" width="2.44" height="17.82" fill="#1f998a"/><rect x="512.98" width="2.44" height="17.82" fill="#1f988b"/><rect x="515.12" width="8.86" height="17.82" fill="#1f978b"/><rect x="523.68" width="2.44" height="17.82" fill="#1f958b"/><rect x="525.82" width="2.44" height="17.82" fill="#1f988b"/><rect x="527.96" width="2.44" height="17.82" fill="#1e9c89"/><rect x="530.10" width="2.44" height="17.82" fill="#1e9b8a"/><rect x="532.24" width="8.86" height="17.82" fill="#1f998a"/><rect x="540.80" width="4.58" height="17.82" fill="#1f9e89"/><rect x="545.08" width="2.44" height="17.82" fill="#1f9f88"/><rect x="547.22" width="2.44" height="17.82" fill="#1fa187"/><rect x="549.36" width="2.44" height="17.82" fill="#20a486"/><rect x="551.50" width="2.44" height="17.82" fill="#20a386"/><rect x="553.64" width="2.44" height="17.82" fill="#1f9f88"/><rect x="555.78" width="2.44" height="17.82" fill="#1fa188"/><rect x="557.92" width="2.44" height="17.82" fill="#1fa187"/><rect x="560.06" width="2.44" height="17.82" fill="#1f9f88"/><rect x="562.20" width="2.44" height="17.82" fill="#1e9c89"/><rect x="564.34" width="2.44" height="17.82" fill="#1fa287"/><rect x="566.48" width="2.44" height="17.82" fill="#21a585"/><rect x="568.62" width="2.44" height="17.82" fill="#1fa287"/><rect x="570.76" width="2.44" height="17.82" fill="#1fa188"/><rect x="572.90" width="2.44" height="17.82" fill="#1fa287"/><rect x="575.04" width="2.44" height="17.82" fill="#20a486"/><rect x="577.18" width="6.72" height="17.82" fill="#1f9e89"/><rect x="583.60" width="2.44" height="17.82" fill="#1f988b"/><rect x="585.74" width="2.44" height="17.82" fill="#1e9b8a"/><rect x="587.88" width="2.44" height="17.82" fill="#20a486"/><rect x="590.02" width="2.44" height="17.82" fill="#21a685"/><rect x="592.16" width="2.44" height="17.82" fill="#1fa088"/><rect x="594.30" width="2.44" height="17.82" fill="#1f9e89"/><rect x="596.44" width="2.44" height="17.82" fill="#1fa287"/><rect x="598.58" width="2.44" height="17.82" fill="#20a486"/><rect x="600.72" width="2.44" height="17.82" fill="#21a585"/><rect x="602.86" width="2.44" height="17.82" fill="#20a486"/>
</g>
<g transform="translate(0,314.32)">
<rect x="70.00" width="2.44" height="17.82" fill="#481c6e"/><rect x="72.14" width="2.44" height="17.82" fill="#481668"/><rect x="74.28" width="2.44" height="17.82" fill="#470e61"/><rect x="76.42" width="4.58" height="17.82" fill="#460b5e"/><rect x="80.70" width="4.58" height="17.82" fill="#470d60"/><rect x="84.98" width="2.44" height="17.82" fill="#470e61"/><rect x="87.12" width="2.44" height="17.82" fill="#471063"/><rect x="89.26" width="4.58" height="17.82" fill="#471164"/><rect x="93.54" width="2.44" height="17.82" fill="#471365"/><rect x="95.68" width="2.44" height="17.82" fill="#481467"/><rect x="97.82" width="2.44" height="17.82" fill="#481668"/><rect x="99.96" width="8.86" height="17.82" fill="#481769"/><rect x="108.52" width="6.72" height="17.82" fill="#481a6c"/><rect x="114.94" width="2.44" height="17.82" fill="#481b6d"/><rect x="117.08" width="2.44" height="17.82" fill="#481c6e"/><rect x="119.22" width="2.44" height="17.82" fill="#481d6f"/><rect x="121.36" width="2.44" height="17.82" fill="#482071"/><rect x="123.50" width="4.58" height="17.82" fill="#482374"/><rect x="127.78" width="4.58" height="17.82" fill="#482576"/><rect x="132.06" width="4.58" height="17.82" fill="#482475"/><rect x="136.34" width="2.44" height="17.82" fill="#482374"/><rect x="138.48" width="2.44" height="17.82" fill="#482071"/><rect x="140.62" width="8.86" height="17.82" fill="#481f70"/><rect x="149.18" width="4.58" height="17.82" fill="#482071"/><rect x="153.46" width="2.44" height="17.82" fill="#482173"/><rect x="155.60" width="6.72" height="17.82" fill="#482374"/><rect x="162.02" width="4.58" height="17.82" fill="#482475"/><rect x="166.30" width="6.72" height="17.82" fill="#482576"/><rect x="172.72" width="2.44" height="17.82" fill="#482677"/><rect x="174.86" width="8.86" height="17.82" fill="#482878"/><rect x="183.42" width="2.44" height="17.82" fill="#482979"/><rect x="185.56" width="2.44" height="17.82" fill="#472a7a"/><rect x="187.70" width="2.44" height="17.82" fill="#472c7a"/><rect x="189.84" width="2.44" height="17.82" fill="#472d7b"/><rect x="191.98" width="6.72" height="17.82" fill="#472e7c"/><rect x="198.40" width="2.44" height="17.82" fill="#472f7d"/><rect x="200.54" width="2.44" height="17.82" fill="#46307e"/><rect x="202.68" width="2.44" height="17.82" fill="#46327e"/><rect x="204.82" width="2.44" height="17.82" fill="#46337f"/><rect x="206.96" width="2.44" height="17.82" fill="#453581"/><rect x="209.10" width="4.58" height="17.82" fill="#453882"/><rect x="213.38" width="2.44" height="17.82" fill="#443983"/><rect x="215.52" width="2.44" height="17.82" fill="#443b84"/><rect x="217.66" width="2.44" height="17.82" fill="#433e85"/><rect x="219.80" width="2.44" height="17.82" fill="#423f85"/><rect x="221.94" width="2.44" height="17.82" fill="#424086"/><rect x="224.08" width="2.44" height="17.82" fill="#424186"/><rect x="226.22" width="2.44" height="17.82" fill="#414487"/><rect x="228.36" width="4.58" height="17.82" fill="#404588"/><rect x="232.64" width="2.44" height="17.82" fill="#3f4788"/><rect x="234.78" width="2.44" height="17.82" fill="#3f4889"/><rect x="236.92" width="2.44" height="17.82" fill="#3e4a89"/><rect x="239.06" width="4.58" height="17.82" fill="#3d4d8a"/><rect x="243.34" width="4.58" height="17.82" fill="#3d4e8a"/><rect x="247.62" width="2.44" height="17.82" fill="#3c508b"/><rect x="249.76" width="8.86" height="17.82" fill="#3b528b"/><rect x="258.32" width="2.44" height="17.82" fill="#3a538b"/><rect x="260.46" width="2.44" height="17.82" fill="#3b518b"/><rect x="262.60" width="2.44" height="17.82" fill="#3a548c"/><rect x="264.74" width="2.44" height="17.82" fill="#39558c"/><rect x="266.88" width="2.44" height="17.82" fill="#39568c"/><rect x="269.02" width="2.44" height="17.82" fill="#375b8d"/><rect x="271.16" width="2.44" height="17.82" fill="#375a8c"/><rect x="273.30" width="2.44" height="17.82" fill="#39568c"/><rect x="275.44" width="2.44" height="17.82" fill="#375a8c"/><rect x="277.58" width="4.58" height="17.82" fill="#375b8d"/><rect x="281.86" width="2.44" height="17.82" fill="#365c8d"/><rect x="284.00" width="2.44" height="17.82" fill="#365d8d"/><rect x="286.14" width="4.58" height="17.82" fill="#355f8d"/><rect x="290.42" width="2.44" height="17.82" fill="#355e8d"/><rect x="292.56" width="4.58" height="17.82" fill="#34608d"/><rect x="296.84" width="2.44" height="17.82" fill="#34618d"/><rect x="298.98" width="2.44" height="17.82" fill="#33628d"/><rect x="301.12" width="2.44" height="17.82" fill="#33638d"/><rect x="303.26" width="4.58" height="17.82" fill="#32658e"/><rect x="307.54" width="4.58" height="17.82" fill="#31668e"/><rect x="311.82" width="4.58" height="17.82" fill="#32648e"/><rect x="316.10" width="2.44" height="17.82" fill="#31678e"/><rect x="318.24" width="2.44" height="17.82" fill="#31688e"/><rect x="320.38" width="2.44" height="17.82" fill="#306a8e"/><rect x="322.52" width="4.58" height="17.82" fill="#2f6b8e"/><rect x="326.80" width="2.44" height="17.82" fill="#2f6c8e"/><rect x="328.94" width="2.44" height="17.82" fill="#2e6f8e"/><rect x="331.08" width="2.44" height="17.82" fill="#2d708e"/><rect x="333.22" width="2.44" height="17.82" fill="#2e6d8e"/><rect x="335.36" width="2.44" height="17.82" fill="#2d708e"/><rect x="337.50" width="2.44" height="17.82" fill="#2b758e"/><rect x="339.64" width="2.44" height="17.82" fill="#2c738e"/><rect x="341.78" width="6.72" height="17.82" fill="#2c718e"/><rect x="348.20" width="2.44" height="17.82" fill="#2b748e"/><rect x="350.34" width="2.44" height="17.82" fill="#2a768e"/><rect x="352.48" width="2.44" height="17.82" fill="#2a778e"/><rect x="354.62" width="2.44" height="17.82" fill="#29798e"/><rect x="356.76" width="2.44" height="17.82" fill="#2a788e"/><rect x="358.90" width="2.44" height="17.82" fill="#2a778e"/><rect x="361.04" width="2.44" height="17.82" fill="#297b8e"/><rect x="363.18" width="2.44" height="17.82" fill="#277e8e"/><rect x="365.32" width="2.44" height="17.82" fill="#277f8e"/><rect x="367.46" width="2.44" height="17.82" fill="#27808e"/><rect x="369.60" width="2.44" height="17.82" fill="#277e8e"/><rect x="371.74" width="2.44" height="17.82" fill="#277f8e"/><rect x="373.88" width="4.58" height="17.82" fill="#27808e"/><rect x="378.16" width="8.86" height="17.82" fill="#26828e"/><rect x="386.72" width="2.44" height="17.82" fill="#23888e"/><rect x="388.86" width="2.44" height="17.82" fill="#23898e"/><rect x="391.00" width="2.44" height="17.82" fill="#25848e"/><rect x="393.14" width="2.44" height="17.82" fill="#24878e"/><rect x="395.28" width="2.44" height="17.82" fill="#228c8d"/><rect x="397.42" width="2.44" height="17.82" fill="#238a8d"/><rect x="399.56" width="2.44" height="17.82" fill="#23898e"/><rect x="401.70" width="2.44" height="17.82" fill="#228d8d"/><rect x="403.84" width="2.44" height="17.82" fill="#228b8d"/><rect x="405.98" width="2.44" height="17.82" fill="#228d8d"/><rect x="408.12" width="2.44" height="17.82" fill="#21918c"/><rect x="410.26" width="2.44" height="17.82" fill="#20928c"/><rect x="412.40" width="2.44" height="17.82" fill="#21918c"/><rect x="414.54" width="2.44" height="17.82" fill="#20938c"/><rect x="416.68" width="2.44" height="17.82" fill="#1f968b"/><rect x="418.82" width="2.44" height="17.82" fill="#1f958b"/><rect x="420.96" width="4.58" height="17.82" fill="#1f948c"/><rect x="425.24" width="2.44" height="17.82" fill="#1f998a"/><rect x="427.38" width="2.44" height="17.82" fill="#1e9d89"/><rect x="429.52" width="4.58" height="17.82" fill="#1e9c89"/><rect x="433.80" width="2.44" height="17.82" fill="#1e9b8a"/><rect x="435.94" width="2.44" height="17.82" fill="#1f9a8a"/><rect x="438.08" width="2.44" height="17.82" fill="#1f9f88"/><rect x="440.22" width="2.44" height="17.82" fill="#1fa187"/><rect x="442.36" width="2.44" height="17.82" fill="#1fa088"/><rect x="444.50" width="2.44" height="17.82" fill="#1fa287"/><rect x="446.64" width="2.44" height="17.82" fill="#21a585"/><rect x="448.78" width="2.44" height="17.82" fill="#22a884"/><rect x="450.92" width="2.44" height="17.82" fill="#22a785"/><rect x="453.06" width="2.44" height="17.82" fill="#20a486"/><rect x="455.20" width="2.44" height="17.82" fill="#1fa187"/><rect x="457.34" width="2.44" height="17.82" fill="#21a585"/><rect x="459.48" width="2.44" height="17.82" fill="#26ad81"/><rect x="461.62" width="2.44" height="17.82" fill="#24aa83"/><rect x="463.76" width="2.44" height="17.82" fill="#22a884"/><rect x="465.90" width="6.72" height="17.82" fill="#25ac82"/><rect x="472.32" width="2.44" height="17.82" fill="#23a983"/><rect x="474.46" width="4.58" height="17.82" fill="#25ab82"/><rect x="478.74" width="2.44" height="17.82" fill="#24aa83"/><rect x="480.88" width="2.44" height="17.82" fill="#26ad81"/><rect x="483.02" width="2.44" height="17.82" fill="#28ae80"/><rect x="485.16" width="2.44" height="17.82" fill="#2fb47c"/><rect x="487.30" width="2.44" height="17.82" fill="#32b67a"/><rect x="489.44" width="2.44" height="17.82" fill="#28ae80"/><rect x="491.58" width="2.44" height="17.82" fill="#22a884"/><rect x="493.72" width="2.44" height="17.82" fill="#26ad81"/><rect x="495.86" width="2.44" height="17.82" fill="#29af7f"/><rect x="498.00" width="2.44" height="17.82" fill="#28ae80"/><rect x="500.14" width="2.44" height="17.82" fill="#31b57b"/><rect x="502.28" width="2.44" height="17.82" fill="#2db27d"/><rect x="504.42" width="2.44" height="17.82" fill="#26ad81"/><rect x="506.56" width="2.44" height="17.82" fill="#2ab07f"/><rect x="508.70" width="2.44" height="17.82" fill="#2fb47c"/><rect x="510.84" width="2.44" height="17.82" fill="#2db27d"/><rect x="512.98" width="2.44" height="17.82" fill="#2eb37c"/><rect x="515.12" width="2.44" height="17.82" fill="#2cb17e"/><rect x="517.26" width="2.44" height="17.82" fill="#27ad81"/><rect x="519.40" width="2.44" height="17.82" fill="#2cb17e"/><rect x="521.54" width="2.44" height="17.82" fill="#2eb37c"/><rect x="523.68" width="2.44" height="17.82" fill="#29af7f"/><rect x="525.82" width="2.44" height="17.82" fill="#2eb37c"/><rect x="527.96" width="4.58" height="17.82" fill="#37b878"/><rect x="532.24" width="2.44" height="17.82" fill="#34b679"/><rect x="534.38" width="2.44" height="17.82" fill="#31b57b"/><rect x="536.52" width="2.44" height="17.82" fill="#34b679"/><rect x="538.66" width="2.44" height="17.82" fill="#38b977"/><rect x="540.80" width="2.44" height="17.82" fill="#3bbb75"/><rect x="542.94" width="2.44" height="17.82" fill="#3dbc74"/><rect x="545.08" width="2.44" height="17.82" fill="#40bd72"/><rect x="547.22" width="2.44" height="17.82" fill="#4ac16d"/><rect x="549.36" width="2.44" height="17.82" fill="#54c568"/><rect x="551.50" width="2.44" height="17.82" fill="#4ac16d"/><rect x="553.64" width="2.44" height="17.82" fill="#44bf70"/><rect x="555.78" width="2.44" height="17.82" fill="#4ec36b"/><rect x="557.92" width="2.44" height="17.82" fill="#48c16e"/><rect x="560.06" width="2.44" height="17.82" fill="#40bd72"/><rect x="562.20" width="2.44" height="17.82" fill="#42be71"/><rect x="564.34" width="2.44" height="17.82" fill="#4cc26c"/><rect x="566.48" width="4.58" height="17.82" fill="#52c569"/><rect x="570.76" width="2.44" height="17.82" fill="#50c46a"/><rect x="572.90" width="2.44" height="17.82" fill="#58c765"/><rect x="575.04" width="2.44" height="17.82" fill="#5cc863"/><rect x="577.18" width="2.44" height="17.82" fill="#48c16e"/><rect x="579.32" width="2.44" height="17.82" fill="#42be71"/><rect x="581.46" width="2.44" height="17.82" fill="#44bf70"/><rect x="583.60" width="2.44" height="17.82" fill="#3aba76"/><rect x="585.74" width="2.44" height="17.82" fill="#42be71"/><rect x="587.88" width="2.44" height="17.82" fill="#58c765"/><rect x="590.02" width="2.44" height="17.82" fill="#5ac864"/><rect x="592.16" width="2.44" height="17.82" fill="#4ec36b"/><rect x="594.30" width="2.44" height="17.82" fill="#4cc26c"/><rect x="596.44" width="2.44" height="17.82" fill="#5cc863"/><rect x="598.58" width="2.44" height="17.82" fill="#60ca60"/><rect x="600.72" width="4.58" height="17.82" fill="#56c667"/>
</g>
<g transform="translate(0,296.80)">
<rect x="70.00" width="2.44" height="17.82" fill="#481c6e"/><rect x="72.14" width="2.44" height="17.82" fill="#471365"/><rect x="74.28" width="2.44" height="17.82" fill="#46085c"/><rect x="76.42" width="11.00" height="17.82" fill="#450457"/><rect x="87.12" width="6.72" height="17.82" fill="#450559"/><rect x="93.54" width="6.72" height="17.82" fill="#46075a"/><rect x="99.96" width="4.58" height="17.82" fill="#46085c"/><rect x="104.24" width="2.44" height="17.82" fill="#46075a"/><rect x="106.38" width="2.44" height="17.82" fill="#46085c"/><rect x="108.52" width="8.86" height="17.82" fill="#460a5d"/><rect x="117.08" width="2.44" height="17.82" fill="#460b5e"/><rect x="119.22" width="2.44" height="17.82" fill="#470d60"/><rect x="121.36" width="2.44" height="17.82" fill="#471063"/><rect x="123.50" width="2.44" height="17.82" fill="#471164"/><rect x="125.64" width="2.44" height="17.82" fill="#481467"/><rect x="127.78" width="4.58" height="17.82" fill="#481668"/><rect x="132.06" width="2.44" height="17.82" fill="#481467"/><rect x="134.20" width="2.44" height="17.82" fill="#471365"/><rect x="136.34" width="2.44" height="17.82" fill="#471164"/><rect x="138.48" width="2.44" height="17.82" fill="#470e61"/><rect x="140.62" width="4.58" height="17.82" fill="#470d60"/><rect x="144.90" width="4.58" height="17.82" fill="#460b5e"/><rect x="149.18" width="4.58" height="17.82" fill="#470d60"/><rect x="153.46" width="2.44" height="17.82" fill="#470e61"/><rect x="155.60" width="6.72" height="17.82" fill="#471063"/><rect x="162.02" width="4.58" height="17.82" fill="#471365"/><rect x="166.30" width="2.44" height="17.82" fill="#481467"/><rect x="168.44" width="2.44" height="17.82" fill="#481668"/><rect x="170.58" width="2.44" height="17.82" fill="#481769"/><rect x="172.72" width="2.44" height="17.82" fill="#48186a"/><rect x="174.86" width="4.58" height="17.82" fill="#481a6c"/><rect x="179.14" width="2.44" height="17.82" fill="#481b6d"/><rect x="181.28" width="2.44" height="17.82" fill="#481c6e"/><rect x="183.42" width="4.58" height="17.82" fill="#481d6f"/><rect x="187.70" width="2.44" height="17.82" fill="#481f70"/><rect x="189.84" width="2.44" height="17.82" fill="#482071"/><rect x="191.98" width="6.72" height="17.82" fill="#482374"/><rect x="198.40" width="2.44" height="17.82" fill="#482576"/><rect x="200.54" width="2.44" height="17.82" fill="#482677"/><rect x="202.68" width="2.44" height="17.82" fill="#482878"/><rect x="204.82" width="2.44" height="17.82" fill="#482979"/><rect x="206.96" width="2.44" height="17.82" fill="#472d7b"/><rect x="209.10" width="2.44" height="17.82" fill="#472f7d"/><rect x="211.24" width="2.44" height="17.82" fill="#46307e"/><rect x="213.38" width="2.44" height="17.82" fill="#46337f"/><rect x="215.52" width="2.44" height="17.82" fill="#453781"/><rect x="217.66" width="2.44" height="17.82" fill="#443a83"/><rect x="219.80" width="2.44" height="17.82" fill="#433d84"/><rect x="221.94" width="2.44" height="17.82" fill="#423f85"/><rect x="224.08" width="2.44" height="17.82" fill="#414287"/><rect x="226.22" width="2.44" height="17.82" fill="#404688"/><rect x="228.36" width="2.44" height="17.82" fill="#3f4788"/><rect x="230.50" width="2.44" height="17.82" fill="#3e4989"/><rect x="232.64" width="2.44" height="17.82" fill="#3e4c8a"/><rect x="234.78" width="2.44" height="17.82" fill="#3d4e8a"/><rect x="236.92" width="2.44" height="17.82" fill="#3c508b"/><rect x="239.06" width="2.44" height="17.82" fill="#3a538b"/><rect x="241.20" width="2.44" height="17.82" fill="#3a548c"/><rect x="243.34" width="2.44" height="17.82" fill="#39558c"/><rect x="245.48" width="2.44" height="17.82" fill="#39568c"/><rect x="247.62" width="2.44" height="17.82" fill="#38598c"/><rect x="249.76" width="2.44" height="17.82" fill="#375a8c"/><rect x="251.90" width="2.44" height="17.82" fill="#375b8d"/><rect x="254.04" width="4.58" height="17.82" fill="#365c8d"/><rect x="258.32" width="2.44" height="17.82" fill="#355e8d"/><rect x="260.46" width="2.44" height="17.82" fill="#365d8d"/><rect x="262.60" width="2.44" height="17.82" fill="#355f8d"/><rect x="264.74" width="2.44" height="17.82" fill="#34618d"/><rect x="266.88" width="2.44" height="17.82" fill="#33638d"/><rect x="269.02" width="4.58" height="17.82" fill="#31668e"/><rect x="273.30" width="2.44" height="17.82" fill="#32648e"/><rect x="275.44" width="2.44" height="17.82" fill="#31668e"/><rect x="277.58" width="2.44" height="17.82" fill="#30698e"/><rect x="279.72" width="4.58" height="17.82" fill="#306a8e"/><rect x="284.00" width="2.44" height="17.82" fill="#2f6b8e"/><rect x="286.14" width="6.72" height="17.82" fill="#2e6d8e"/><rect x="292.56" width="2.44" height="17.82" fill="#2e6f8e"/><rect x="294.70" width="2.44" height="17.82" fill="#2d708e"/><rect x="296.84" width="4.58" height="17.82" fill="#2d718e"/><rect x="301.12" width="2.44" height="17.82" fill="#2c728e"/><rect x="303.26" width="2.44" height="17.82" fill="#2b748e"/><rect x="305.40" width="4.58" height="17.82" fill="#2b758e"/><rect x="309.68" width="2.44" height="17.82" fill="#2a768e"/><rect x="311.82" width="4.58" height="17.82" fill="#2b758e"/><rect x="316.10" width="4.58" height="17.82" fill="#2a788e"/><rect x="320.38" width="2.44" height="17.82" fill="#297b8e"/><rect x="322.52" width="2.44" height="17.82" fill="#287d8e"/><rect x="324.66" width="4.58" height="17.82" fill="#277e8e"/><rect x="328.94" width="2.44" height="17.82" fill="#27808e"/><rect x="331.08" width="2.44" height="17.82" fill="#26828e"/><rect x="333.22" width="2.44" height="17.82" fill="#27808e"/><rect x="335.36" width="2.44" height="17.82" fill="#26828e"/><rect x="337.50" width="4.58" height="17.82" fill="#23888e"/><rect x="341.78" width="2.44" height="17.82" fill="#25858e"/><rect x="343.92" width="2.44" height="17.82" fill="#24868e"/><rect x="346.06" width="2.44" height="17.82" fill="#23888e"/><rect x="348.20" width="2.44" height="17.82" fill="#238a8d"/><rect x="350.34" width="2.44" height="17.82" fill="#228b8d"/><rect x="352.48" width="2.44" height="17.82" fill="#228c8d"/><rect x="354.62" width="2.44" height="17.82" fill="#228d8d"/><rect x="356.76" width="4.58" height="17.82" fill="#228c8d"/><rect x="361.04" width="2.44" height="17.82" fill="#21918c"/><rect x="363.18" width="2.44" height="17.82" fill="#20928c"/><rect x="365.32" width="4.58" height="17.82" fill="#20938c"/><rect x="369.60" width="2.44" height="17.82" fill="#21918c"/><rect x="371.74" width="2.44" height="17.82" fill="#20938c"/><rect x="373.88" width="4.58" height="17.82" fill="#1f958b"/><rect x="378.16" width="2.44" height="17.82" fill="#1f968b"/><rect x="380.30" width="4.58" height="17.82" fill="#1f978b"/><rect x="384.58" width="2.44" height="17.82" fill="#1f998a"/><rect x="386.72" width="4.58" height="17.82" fill="#1f9f88"/><rect x="391.00" width="2.44" height="17.82" fill="#1e9b8a"/><rect x="393.14" width="2.44" height="17.82" fill="#1f9e89"/><rect x="395.28" width="2.44" height="17.82" fill="#1fa287"/><rect x="397.42" width="2.44" height="17.82" fill="#1fa088"/><rect x="399.56" width="2.44" height="17.82" fill="#1e9d89"/><rect x="401.70" width="4.58" height="17.82" fill="#1fa187"/><rect x="405.98" width="2.44" height="17.82" fill="#21a685"/><rect x="408.12" width="2.44" height="17.82" fill="#23a983"/><rect x="410.26" width="2.44" height="17.82" fill="#22a785"/><rect x="412.40" width="2.44" height="17.82" fill="#21a685"/><rect x="414.54" width="2.44" height="17.82" fill="#23a983"/><rect x="416.68" width="2.44" height="17.82" fill="#25ab82"/><rect x="418.82" width="4.58" height="17.82" fill="#23a983"/><rect x="423.10" width="2.44" height="17.82" fill="#22a785"/><rect x="425.24" width="2.44" height="17.82" fill="#25ab82"/><rect x="427.38" width="4.58" height="17.82" fill="#27ad81"/><rect x="431.66" width="2.44" height="17.82" fill="#2ab07f"/><rect x="433.80" width="2.44" height="17.82" fill="#28ae80"/><rect x="435.94" width="2.44" height="17.82" fill="#27ad81"/><rect x="438.08" width="2.44" height="17.82" fill="#2cb17e"/><rect x="440.22" width="2.44" height="17.82" fill="#2fb47c"/><rect x="442.36" width="2.44" height="17.82" fill="#2db27d"/><rect x="444.50" width="2.44" height="17.82" fill="#2cb17e"/><rect x="446.64" width="2.44" height="17.82" fill="#2eb37c"/><rect x="448.78" width="4.58" height="17.82" fill="#31b57b"/><rect x="453.06" width="2.44" height="17.82" fill="#2fb47c"/><rect x="455.20" width="2.44" height="17.82" fill="#2ab07f"/><rect x="457.34" width="2.44" height="17.82" fill="#2eb37c"/><rect x="459.48" width="2.44" height="17.82" fill="#38b977"/><rect x="461.62" width="2.44" height="17.82" fill="#35b779"/><rect x="463.76" width="2.44" height="17.82" fill="#34b679"/><rect x="465.90" width="2.44" height="17.82" fill="#35b779"/><rect x="468.04" width="2.44" height="17.82" fill="#37b878"/><rect x="470.18" width="2.44" height="17.82" fill="#3aba76"/><rect x="472.32" width="2.44" height="17.82" fill="#35b779"/><rect x="474.46" width="2.44" height="17.82" fill="#37b878"/><rect x="476.60" width="2.44" height="17.82" fill="#35b779"/><rect x="478.74" width="2.44" height="17.82" fill="#38b977"/><rect x="480.88" width="4.58" height="17.82" fill="#3dbc74"/><rect x="485.16" width="2.44" height="17.82" fill="#46c06f"/><rect x="487.30" width="2.44" height="17.82" fill="#44bf70"/><rect x="489.44" width="2.44" height="17.82" fill="#3aba76"/><rect x="491.58" width="2.44" height="17.82" fill="#31b57b"/><rect x="493.72" width="2.44" height="17.82" fill="#38b977"/><rect x="495.86" width="4.58" height="17.82" fill="#3aba76"/><rect x="500.14" width="2.44" height="17.82" fill="#44bf70"/><rect x="502.28" width="2.44" height="17.82" fill="#40bd72"/><rect x="504.42" width="2.44" height="17.82" fill="#34b679"/><rect x="506.56" width="2.44" height="17.82" fill="#3dbc74"/><rect x="508.70" width="4.58" height="17.82" fill="#48c16e"/><rect x="512.98" width="2.44" height="17.82" fill="#4ac16d"/><rect x="515.12" width="2.44" height="17.82" fill="#44bf70"/><rect x="517.26" width="2.44" height="17.82" fill="#3dbc74"/><rect x="519.40" width="2.44" height="17.82" fill="#40bd72"/><rect x="521.54" width="2.44" height="17.82" fill="#42be71"/><rect x="523.68" width="2.44" height="17.82" fill="#3bbb75"/><rect x="525.82" width="2.44" height="17.82" fill="#46c06f"/><rect x="527.96" width="6.72" height="17.82" fill="#50c46a"/><rect x="534.38" width="2.44" height="17.82" fill="#4cc26c"/><rect x="536.52" width="2.44" height="17.82" fill="#4ac16d"/><rect x="538.66" width="2.44" height="17.82" fill="#50c46a"/><rect x="540.80" width="4.58" height="17.82" fill="#5cc863"/><rect x="545.08" width="2.44" height="17.82" fill="#60ca60"/><rect x="547.22" width="2.44" height="17.82" fill="#6ccd5a"/><rect x="549.36" width="2.44" height="17.82" fill="#7cd250"/><rect x="551.50" width="2.44" height="17.82" fill="#6ece58"/><rect x="553.64" width="2.44" height="17.82" fill="#67cc5c"/><rect x="555.78" width="2.44" height="17.82" fill="#75d054"/><rect x="557.92" width="2.44" height="17.82" fill="#6ccd5a"/><rect x="560.06" width="4.58" height="17.82" fill="#67cc5c"/><rect x="564.34" width="4.58" height="17.82" fill="#73d056"/><rect x="568.62" width="2.44" height="17.82" fill="#6ece58"/><rect x="570.76" width="2.44" height="17.82" fill="#70cf57"/><rect x="572.90" width="2.44" height="17.82" fill="#7cd250"/><rect x="575.04" width="2.44" height="17.82" fill="#7fd34e"/><rect x="577.18" width="2.44" height="17.82" fill="#6ece58"/><rect x="579.32" width="4.58" height="17.82" fill="#65cb5e"/><rect x="583.60" width="2.44" height="17.82" fill="#56c667"/><rect x="585.74" width="2.44" height="17.82" fill="#60ca60"/><rect x="587.88" width="2.44" height="17.82" fill="#84d44b"/><rect x="590.02" width="2.44" height="17.82" fill="#86d549"/><rect x="592.16" width="2.44" height="17.82" fill="#73d056"/><rect x="594.30" width="2.44" height="17.82" fill="#6ccd5a"/><rect x="596.44" width="2.44" height="17.82" fill="#7fd34e"/><rect x="598.58" width="2.44" height="17.82" fill="#84d44b"/><rect x="600.72" width="2.44" height="17.82" fill="#7ad151"/><rect x="602.86" width="2.44" height="17.82" fill="#77d153"/>
</g>
<g transform="translate(0,279.28)">
<rect x="70.00" width="2.44" height="17.82" fill="#481c6e"/><rect x="72.14" width="2.44" height="17.82" fill="#471164"/><rect x="74.28" width="2.44" height="17.82" fill="#450559"/><rect x="76.42" width="23.84" height="17.82" fill="#440154"/><rect x="99.96" width="4.58" height="17.82" fill="#440256"/><rect x="104.24" width="4.58" height="17.82" fill="#440154"/><rect x="108.52" width="8.86" height="17.82" fill="#440256"/><rect x="117.08" width="2.44" height="17.82" fill="#450457"/><rect x="119.22" width="2.44" height="17.82" fill="#450559"/><rect x="121.36" width="2.44" height="17.82" fill="#46085c"/><rect x="123.50" width="2.44" height="17.82" fill="#460b5e"/><rect x="125.64" width="2.44" height="17.82" fill="#470e61"/><rect x="127.78" width="2.44" height="17.82" fill="#471164"/><rect x="129.92" width="4.58" height="17.82" fill="#471063"/><rect x="134.20" width="2.44" height="17.82" fill="#470e61"/><rect x="136.34" width="2.44" height="17.82" fill="#470d60"/><rect x="138.48" width="2.44" height="17.82" fill="#460b5e"/><rect x="140.62" width="11.00" height="17.82" fill="#460a5d"/><rect x="151.32" width="2.44" height="17.82" fill="#460b5e"/><rect x="153.46" width="2.44" height="17.82" fill="#470d60"/><rect x="155.60" width="4.58" height="17.82" fill="#470e61"/><rect x="159.88" width="2.44" height="17.82" fill="#471063"/><rect x="162.02" width="2.44" height="17.82" fill="#471365"/><rect x="164.16" width="2.44" height="17.82" fill="#481467"/><rect x="166.30" width="2.44" height="17.82" fill="#481668"/><rect x="168.44" width="2.44" height="17.82" fill="#481769"/><rect x="170.58" width="2.44" height="17.82" fill="#48186a"/><rect x="172.72" width="2.44" height="17.82" fill="#481a6c"/><rect x="174.86" width="2.44" height="17.82" fill="#481b6d"/><rect x="177.00" width="2.44" height="17.82" fill="#481c6e"/><rect x="179.14" width="2.44" height="17.82" fill="#481d6f"/><rect x="181.28" width="2.44" height="17.82" fill="#481f70"/><rect x="183.42" width="4.58" height="17.82" fill="#482071"/><rect x="187.70" width="2.44" height="17.82" fill="#482374"/><rect x="189.84" width="2.44" height="17.82" fill="#482475"/><rect x="191.98" width="6.72" height="17.82" fill="#482677"/><rect x="198.40" width="2.44" height="17.82" fill="#482979"/><rect x="200.54" width="2.44" height="17.82" fill="#472a7a"/><rect x="202.68" width="2.44" height="17.82" fill="#472d7b"/><rect x="204.82" width="2.44" height="17.82" fill="#472f7d"/><rect x="206.96" width="2.44" height="17.82" fill="#463480"/><rect x="209.10" width="2.44" height="17.82" fill="#453882"/><rect x="211.24" width="2.44" height="17.82" fill="#443a83"/><rect x="213.38" width="2.44" height="17.82" fill="#433e85"/><rect x="215.52" width="2.44" height="17.82" fill="#414487"/><rect x="217.66" width="2.44" height="17.82" fill="#3f4889"/><rect x="219.80" width="2.44" height="17.82" fill="#3d4d8a"/><rect x="221.94" width="2.44" height="17.82" fill="#3c508b"/><rect x="224.08" width="2.44" height="17.82" fill="#3a538b"/><rect x="226.22" width="2.44" height="17.82" fill="#39568c"/><rect x="228.36" width="2.44" height="17.82" fill="#375a8c"/><rect x="230.50" width="2.44" height="17.82" fill="#365c8d"/><rect x="232.64" width="2.44" height="17.82" fill="#355f8d"/><rect x="234.78" width="2.44" height="17.82" fill="#33628d"/><rect x="236.92" width="2.44" height="17.82" fill="#32658e"/><rect x="239.06" width="2.44" height="17.82" fill="#31688e"/><rect x="241.20" width="2.44" height="17.82" fill="#30698e"/><rect x="243.34" width="2.44" height="17.82" fill="#2f6c8e"/><rect x="245.48" width="2.44" height="17.82" fill="#2e6d8e"/><rect x="247.62" width="2.44" height="17.82" fill="#2e6e8e"/><rect x="249.76" width="2.44" height="17.82" fill="#2d708e"/><rect x="251.90" width="2.44" height="17.82" fill="#2d718e"/><rect x="254.04" width="2.44" height="17.82" fill="#2c718e"/><rect x="256.18" width="2.44" height="17.82" fill="#2c728e"/><rect x="258.32" width="2.44" height="17.82" fill="#2c738e"/><rect x="260.46" width="2.44" height="17.82" fill="#2c728e"/><rect x="262.60" width="2.44" height="17.82" fill="#2a768e"/><rect x="264.74" width="2.44" height="17.82" fill="#2a788e"/><rect x="266.88" width="2.44" height="17.82" fill="#29798e"/><rect x="269.02" width="4.58" height="17.82" fill="#277e8e"/><rect x="273.30" width="2.44" height="17.82" fill="#287c8e"/><rect x="275.44" width="2.44" height="17.82" fill="#277e8e"/><rect x="277.58" width="2.44" height="17.82" fill="#26818e"/><rect x="279.72" width="4.58" height="17.82" fill="#26828e"/><rect x="284.00" width="2.44" height="17.82" fill="#25838e"/><rect x="286.14" width="2.44" height="17.82" fill="#25858e"/><rect x="288.28" width="4.58" height="17.82" fill="#25838e"/><rect x="292.56" width="2.44" height="17.82" fill="#24868e"/><rect x="294.70" width="2.44" height="17.82" fill="#25858e"/><rect x="296.84" width="2.44" height="17.82" fill="#24878e"/><rect x="298.98" width="4.58" height="17.82" fill="#23888e"/><rect x="303.26" width="2.44" height="17.82" fill="#228b8d"/><rect x="305.40" width="2.44" height="17.82" fill="#228c8d"/><rect x="307.54" width="2.44" height="17.82" fill="#228b8d"/><rect x="309.68" width="2.44" height="17.82" fill="#228c8d"/><rect x="311.82" width="2.44" height="17.82" fill="#228b8d"/><rect x="313.96" width="2.44" height="17.82" fill="#238a8d"/><rect x="316.10" width="2.44" height="17.82" fill="#218f8d"/><rect x="318.24" width="2.44" height="17.82" fill="#218e8d"/><rect x="320.38" width="2.44" height="17.82" fill="#218f8d"/><rect x="322.52" width="2.44" height="17.82" fill="#21908d"/><rect x="324.66" width="2.44" height="17.82" fill="#21918c"/><rect x="326.80" width="4.58" height="17.82" fill="#20928c"/><rect x="331.08" width="2.44" height="17.82" fill="#1f958b"/><rect x="333.22" width="2.44" height="17.82" fill="#21918c"/><rect x="335.36" width="2.44" height="17.82" fill="#20938c"/><rect x="337.50" width="2.44" height="17.82" fill="#1e9b8a"/><rect x="339.64" width="2.44" height="17.82" fill="#1f998a"/><rect x="341.78" width="4.58" height="17.82" fill="#1f968b"/><rect x="346.06" width="2.44" height="17.82" fill="#1f978b"/><rect x="348.20" width="2.44" height="17.82" fill="#1e9b8a"/><rect x="350.34" width="2.44" height="17.82" fill="#1e9c89"/><rect x="352.48" width="6.72" height="17.82" fill="#1f9a8a"/><rect x="358.90" width="2.44" height="17.82" fill="#1f998a"/><rect x="361.04" width="2.44" height="17.82" fill="#1e9c89"/><rect x="363.18" width="6.72" height="17.82" fill="#1fa188"/><rect x="369.60" width="2.44" height="17.82" fill="#1f9f88"/><rect x="371.74" width="2.44" height="17.82" fill="#1fa088"/><rect x="373.88" width="6.72" height="17.82" fill="#1fa187"/><rect x="380.30" width="4.58" height="17.82" fill="#20a386"/><rect x="384.58" width="2.44" height="17.82" fill="#1fa287"/><rect x="386.72" width="2.44" height="17.82" fill="#23a983"/><rect x="388.86" width="2.44" height="17.82" fill="#25ab82"/><rect x="391.00" width="2.44" height="17.82" fill="#20a386"/><rect x="393.14" width="2.44" height="17.82" fill="#21a685"/><rect x="395.28" width="2.44" height="17.82" fill="#26ad81"/><rect x="397.42" width="2.44" height="17.82" fill="#25ab82"/><rect x="399.56" width="2.44" height="17.82" fill="#24aa83"/><rect x="401.70" width="2.44" height="17.82" fill="#25ab82"/><rect x="403.84" width="2.44" height="17.82" fill="#22a884"/><rect x="405.98" width="2.44" height="17.82" fill="#25ac82"/><rect x="408.12" width="2.44" height="17.82" fill="#29af7f"/><rect x="410.26" width="2.44" height="17.82" fill="#2ab07f"/><rect x="412.40" width="2.44" height="17.82" fill="#2cb17e"/><rect x="414.54" width="2.44" height="17.82" fill="#32b67a"/><rect x="416.68" width="2.44" height="17.82" fill="#31b57b"/><rect x="418.82" width="2.44" height="17.82" fill="#2db27d"/><rect x="420.96" width="4.58" height="17.82" fill="#2fb47c"/><rect x="425.24" width="2.44" height="17.82" fill="#3aba76"/><rect x="427.38" width="6.72" height="17.82" fill="#3bbb75"/><rect x="433.80" width="2.44" height="17.82" fill="#37b878"/><rect x="435.94" width="2.44" height="17.82" fill="#3aba76"/><rect x="438.08" width="4.58" height="17.82" fill="#3dbc74"/><rect x="442.36" width="2.44" height="17.82" fill="#3fbc73"/><rect x="444.50" width="2.44" height="17.82" fill="#44bf70"/><rect x="446.64" width="2.44" height="17.82" fill="#4ac16d"/><rect x="448.78" width="2.44" height="17.82" fill="#4ec36b"/><rect x="450.92" width="2.44" height="17.82" fill="#4ac16d"/><rect x="453.06" width="2.44" height="17.82" fill="#44bf70"/><rect x="455.20" width="2.44" height="17.82" fill="#3dbc74"/><rect x="457.34" width="2.44" height="17.82" fill="#44bf70"/><rect x="459.48" width="2.44" height="17.82" fill="#52c569"/><rect x="461.62" width="2.44" height="17.82" fill="#4ec36b"/><rect x="463.76" width="2.44" height="17.82" fill="#4ac16d"/><rect x="465.90" width="2.44" height="17.82" fill="#50c46a"/><rect x="468.04" width="4.58" height="17.82" fill="#54c568"/><rect x="472.32" width="2.44" height="17.82" fill="#50c46a"/><rect x="474.46" width="2.44" height="17.82" fill="#56c667"/><rect x="476.60" width="2.44" height="17.82" fill="#50c46a"/><rect x="478.74" width="2.44" height="17.82" fill="#4ec36b"/><rect x="480.88" width="4.58" height="17.82" fill="#58c765"/><rect x="485.16" width="2.44" height="17.82" fill="#65cb5e"/><rect x="487.30" width="2.44" height="17.82" fill="#6ccd5a"/><rect x="489.44" width="2.44" height="17.82" fill="#56c667"/><rect x="491.58" width="2.44" height="17.82" fill="#46c06f"/><rect x="493.72" width="4.58" height="17.82" fill="#52c569"/><rect x="498.00" width="2.44" height="17.82" fill="#56c667"/><rect x="500.14" width="2.44" height="17.82" fill="#70cf57"/><rect x="502.28" width="2.44" height="17.82" fill="#6ccd5a"/><rect x="504.42" width="2.44" height="17.82" fill="#58c765"/><rect x="506.56" width="2.44" height="17.82" fill="#63cb5f"/><rect x="508.70" width="2.44" height="17.82" fill="#73d056"/><rect x="510.84" width="2.44" height="17.82" fill="#77d153"/><rect x="512.98" width="2.44" height="17.82" fill="#7ad151"/><rect x="515.12" width="2.44" height="17.82" fill="#70cf57"/><rect x="517.26" width="2.44" height="17.82" fill="#65cb5e"/><rect x="519.40" width="2.44" height="17.82" fill="#69cd5b"/><rect x="521.54" width="2.44" height="17.82" fill="#6ece58"/><rect x="523.68" width="2.44" height="17.82" fill="#67cc5c"/><rect x="525.82" width="2.44" height="17.82" fill="#6ece58"/><rect x="527.96" width="2.44" height="17.82" fill="#75d054"/><rect x="530.10" width="4.58" height="17.82" fill="#73d056"/><rect x="534.38" width="2.44" height="17.82" fill="#70cf57"/><rect x="536.52" width="2.44" height="17.82" fill="#73d056"/><rect x="538.66" width="2.44" height="17.82" fill="#75d054"/><rect x="540.80" width="2.44" height="17.82" fill="#89d548"/><rect x="542.94" width="2.44" height="17.82" fill="#98d83e"/><rect x="545.08" width="2.44" height="17.82" fill="#9dd93b"/><rect x="547.22" width="2.44" height="17.82" fill="#a5db36"/><rect x="549.36" width="2.44" height="17.82" fill="#b5de2b"/><rect x="551.50" width="2.44" height="17.82" fill="#a8db34"/><rect x="553.64" width="2.44" height="17.82" fill="#a0da39"/><rect x="555.78" width="2.44" height="17.82" fill="#b0dd2f"/><rect x="557.92" width="2.44" height="17.82" fill="#a2da37"/><rect x="560.06" width="2.44" height="17.82" fill="#98d83e"/><rect x="562.20" width="2.44" height="17.82" fill="#9bd93c"/><rect x="564.34" width="2.44" height="17.82" fill="#a8db34"/><rect x="566.48" width="4.58" height="17.82" fill="#aadc32"/><rect x="570.76" width="2.44" height="17.82" fill="#addc30"/><rect x="572.90" width="4.58" height="17.82" fill="#b5de2b"/><rect x="577.18" width="2.44" height="17.82" fill="#9bd93c"/><rect x="579.32" width="4.58" height="17.82" fill="#93d741"/><rect x="583.60" width="2.44" height="17.82" fill="#84d44b"/><rect x="585.74" width="2.44" height="17.82" fill="#8bd646"/><rect x="587.88" width="2.44" height="17.82" fill="#b8de29"/><rect x="590.02" width="2.44" height="17.82" fill="#c0df25"/><rect x="592.16" width="2.44" height="17.82" fill="#aadc32"/><rect x="594.30" width="2.44" height="17.82" fill="#a0da39"/><rect x="596.44" width="2.44" height="17.82" fill="#aadc32"/><rect x="598.58" width="2.44" height="17.82" fill="#b2dd2d"/><rect x="600.72" width="2.44" height="17.82" fill="#addc30"/><rect x="602.86" width="2.44" height="17.82" fill="#b2dd2d"/>
</g>
<g transform="translate(0,261.77)">
<rect x="70.00" width="2.44" height="17.82" fill="#481c6e"/><rect x="72.14" width="2.44" height="17.82" fill="#471164"/><rect x="74.28" width="2.44" height="17.82" fill="#450559"/><rect x="76.42" width="4.58" height="17.82" fill="#440154"/><rect x="80.70" width="4.58" height="17.82" fill="#440256"/><rect x="84.98" width="2.44" height="17.82" fill="#440154"/><rect x="87.12" width="6.72" height="17.82" fill="#440256"/><rect x="93.54" width="2.44" height="17.82" fill="#450457"/><rect x="95.68" width="4.58" height="17.82" fill="#450559"/><rect x="99.96" width="6.72" height="17.82" fill="#46075a"/><rect x="106.38" width="2.44" height="17.82" fill="#46085c"/><rect x="108.52" width="2.44" height="17.82" fill="#460a5d"/><rect x="110.66" width="4.58" height="17.82" fill="#470d60"/><rect x="114.94" width="2.44" height="17.82" fill="#470e61"/><rect x="117.08" width="2.44" height="17.82" fill="#471063"/><rect x="119.22" width="2.44" height="17.82" fill="#471365"/><rect x="121.36" width="2.44" height="17.82" fill="#48186a"/><rect x="123.50" width="2.44" height="17.82" fill="#481d6f"/><rect x="125.64" width="2.44" height="17.82" fill="#482173"/><rect x="127.78" width="4.58" height="17.82" fill="#482576"/><rect x="132.06" width="4.58" height="17.82" fill="#482475"/><rect x="136.34" width="2.44" height="17.82" fill="#482374"/><rect x="138.48" width="2.44" height="17.82" fill="#482071"/><rect x="140.62" width="2.44" height="17.82" fill="#481f70"/><rect x="142.76" width="2.44" height="17.82" fill="#482071"/><rect x="144.90" width="4.58" height="17.82" fill="#481f70"/><rect x="149.18" width="4.58" height="17.82" fill="#482071"/><rect x="153.46" width="2.44" height="17.82" fill="#482374"/><rect x="155.60" width="4.58" height="17.82" fill="#482475"/><rect x="159.88" width="2.44" height="17.82" fill="#482576"/><rect x="162.02" width="2.44" height="17.82" fill="#482677"/><rect x="164.16" width="2.44" height="17.82" fill="#482878"/><rect x="166.30" width="2.44" height="17.82" fill="#482979"/><rect x="168.44" width="2.44" height="17.82" fill="#472a7a"/><rect x="170.58" width="2.44" height="17.82" fill="#472c7a"/><rect x="172.72" width="2.44" height="17.82" fill="#472e7c"/><rect x="174.86" width="4.58" height="17.82" fill="#472f7d"/><rect x="179.14" width="4.58" height="17.82" fill="#46327e"/><rect x="183.42" width="2.44" height="17.82" fill="#46337f"/><rect x="185.56" width="2.44" height="17.82" fill="#463480"/><rect x="187.70" width="2.44" height="17.82" fill="#453581"/><rect x="189.84" width="2.44" height="17.82" fill="#453882"/><rect x="191.98" width="4.58" height="17.82" fill="#443a83"/><rect x="196.26" width="2.44" height="17.82" fill="#443b84"/><rect x="198.40" width="2.44" height="17.82" fill="#423f85"/><rect x="200.54" width="2.44" height="17.82" fill="#424186"/><rect x="202.68" width="2.44" height="17.82" fill="#404588"/><rect x="204.82" width="2.44" height="17.82" fill="#3e4a89"/><rect x="206.96" width="2.44" height="17.82" fill="#3b518b"/><rect x="209.10" width="2.44" height="17.82" fill="#39568c"/><rect x="211.24" width="2.44" height="17.82" fill="#375b8d"/><rect x="213.38" width="2.44" height="17.82" fill="#355e8d"/><rect x="215.52" width="2.44" height="17.82" fill="#33628d"/><rect x="217.66" width="2.44" height="17.82" fill="#31688e"/><rect x="219.80" width="2.44" height="17.82" fill="#2f6c8e"/><rect x="221.94" width="2.44" height="17.82" fill="#2e6f8e"/><rect x="224.08" width="2.44" height="17.82" fill="#2c738e"/><rect x="226.22" width="2.44" height="17.82" fill="#2a788e"/><rect x="228.36" width="2.44" height="17.82" fill="#287c8e"/><rect x="230.50" width="2.44" height="17.82" fill="#277e8e"/><rect x="232.64" width="2.44" height="17.82" fill="#26828e"/><rect x="234.78" width="2.44" height="17.82" fill="#25858e"/><rect x="236.92" width="2.44" height="17.82" fill="#23888e"/><rect x="239.06" width="2.44" height="17.82" fill="#228c8d"/><rect x="241.20" width="2.44" height="17.82" fill="#218e8d"/><rect x="243.34" width="2.44" height="17.82" fill="#21908d"/><rect x="245.48" width="2.44" height="17.82" fill="#21918c"/><rect x="247.62" width="2.44" height="17.82" fill="#20938c"/><rect x="249.76" width="4.58" height="17.82" fill="#1f958b"/><rect x="254.04" width="2.44" height="17.82" fill="#1f948c"/><rect x="256.18" width="2.44" height="17.82" fill="#1f958b"/><rect x="258.32" width="2.44" height="17.82" fill="#1f978b"/><rect x="260.46" width="2.44" height="17.82" fill="#1f968b"/><rect x="262.60" width="2.44" height="17.82" fill="#1f998a"/><rect x="264.74" width="2.44" height="17.82" fill="#1e9b8a"/><rect x="266.88" width="2.44" height="17.82" fill="#1e9d89"/><rect x="269.02" width="4.58" height="17.82" fill="#1fa188"/><rect x="273.30" width="2.44" height="17.82" fill="#1f9f88"/><rect x="275.44" width="2.44" height="17.82" fill="#1fa187"/><rect x="277.58" width="4.58" height="17.82" fill="#20a386"/><rect x="281.86" width="2.44" height="17.82" fill="#1fa287"/><rect x="284.00" width="2.44" height="17.82" fill="#20a386"/><rect x="286.14" width="2.44" height="17.82" fill="#22a785"/><rect x="288.28" width="2.44" height="17.82" fill="#21a585"/><rect x="290.42" width="2.44" height="17.82" fill="#21a685"/><rect x="292.56" width="2.44" height="17.82" fill="#23a983"/><rect x="294.70" width="2.44" height="17.82" fill="#22a884"/><rect x="296.84" width="2.44" height="17.82" fill="#23a983"/><rect x="298.98" width="2.44" height="17.82" fill="#24aa83"/><rect x="301.12" width="2.44" height="17.82" fill="#25ab82"/><rect x="303.26" width="2.44" height="17.82" fill="#26ad81"/><rect x="305.40" width="2.44" height="17.82" fill="#27ad81"/><rect x="307.54" width="4.58" height="17.82" fill="#26ad81"/><rect x="311.82" width="2.44" height="17.82" fill="#25ac82"/><rect x="313.96" width="2.44" height="17.82" fill="#25ab82"/><rect x="316.10" width="2.44" height="17.82" fill="#29af7f"/><rect x="318.24" width="2.44" height="17.82" fill="#28ae80"/><rect x="320.38" width="2.44" height="17.82" fill="#2ab07f"/><rect x="322.52" width="2.44" height="17.82" fill="#2cb17e"/><rect x="324.66" width="2.44" height="17.82" fill="#29af7f"/><rect x="326.80" width="2.44" height="17.82" fill="#2cb17e"/><rect x="328.94" width="2.44" height="17.82" fill="#2fb47c"/><rect x="331.08" width="2.44" height="17.82" fill="#35b779"/><rect x="333.22" width="2.44" height="17.82" fill="#32b67a"/><rect x="335.36" width="2.44" height="17.82" fill="#34b679"/><rect x="337.50" width="2.44" height="17.82" fill="#3bbb75"/><rect x="339.64" width="2.44" height="17.82" fill="#38b977"/><rect x="341.78" width="2.44" height="17.82" fill="#34b679"/><rect x="343.92" width="4.58" height="17.82" fill="#38b977"/><rect x="348.20" width="2.44" height="17.82" fill="#3dbc74"/><rect x="350.34" width="2.44" height="17.82" fill="#42be71"/><rect x="352.48" width="4.58" height="17.82" fill="#3fbc73"/><rect x="356.76" width="2.44" height="17.82" fill="#40bd72"/><rect x="358.90" width="2.44" height="17.82" fill="#44bf70"/><rect x="361.04" width="2.44" height="17.82" fill="#50c46a"/><rect x="363.18" width="2.44" height="17.82" fill="#56c667"/><rect x="365.32" width="2.44" height="17.82" fill="#58c765"/><rect x="367.46" width="2.44" height="17.82" fill="#5cc863"/><rect x="369.60" width="4.58" height="17.82" fill="#5ac864"/><rect x="373.88" width="2.44" height="17.82" fill="#5ec962"/><rect x="376.02" width="2.44" height="17.82" fill="#60ca60"/><rect x="378.16" width="2.44" height="17.82" fill="#63cb5f"/><rect x="380.30" width="2.44" height="17.82" fill="#67cc5c"/><rect x="382.44" width="2.44" height="17.82" fill="#5ec962"/><rect x="384.58" width="2.44" height="17.82" fill="#5cc863"/><rect x="386.72" width="2.44" height="17.82" fill="#73d056"/><rect x="388.86" width="2.44" height="17.82" fill="#7ad151"/><rect x="391.00" width="2.44" height="17.82" fill="#70cf57"/><rect x="393.14" width="2.44" height="17.82" fill="#75d054"/><rect x="395.28" width="2.44" height="17.82" fill="#86d549"/><rect x="397.42" width="2.44" height="17.82" fill="#7ad151"/><rect x="399.56" width="2.44" height="17.82" fill="#70cf57"/><rect x="401.70" width="2.44" height="17.82" fill="#77d153"/><rect x="403.84" width="2.44" height="17.82" fill="#70cf57"/><rect x="405.98" width="2.44" height="17.82" fill="#81d34d"/><rect x="408.12" width="2.44" height="17.82" fill="#93d741"/><rect x="410.26" width="2.44" height="17.82" fill="#90d743"/><rect x="412.40" width="2.44" height="17.82" fill="#8bd646"/><rect x="414.54" width="2.44" height="17.82" fill="#93d741"/><rect x="416.68" width="2.44" height="17.82" fill="#95d840"/><rect x="418.82" width="4.58" height="17.82" fill="#93d741"/><rect x="423.10" width="2.44" height="17.82" fill="#8ed645"/><rect x="425.24" width="2.44" height="17.82" fill="#a5db36"/><rect x="427.38" width="2.44" height="17.82" fill="#a8db34"/><rect x="429.52" width="2.44" height="17.82" fill="#9dd93b"/><rect x="431.66" width="2.44" height="17.82" fill="#a5db36"/><rect x="433.80" width="4.58" height="17.82" fill="#a2da37"/><rect x="438.08" width="2.44" height="17.82" fill="#a8db34"/><rect x="440.22" width="2.44" height="17.82" fill="#a5db36"/><rect x="442.36" width="2.44" height="17.82" fill="#aadc32"/><rect x="444.50" width="2.44" height="17.82" fill="#b5de2b"/><rect x="446.64" width="2.44" height="17.82" fill="#b8de29"/><rect x="448.78" width="2.44" height="17.82" fill="#c0df25"/><rect x="450.92" width="2.44" height="17.82" fill="#bddf26"/><rect x="453.06" width="2.44" height="17.82" fill="#addc30"/><rect x="455.20" width="2.44" height="17.82" fill="#a2da37"/><rect x="457.34" width="2.44" height="17.82" fill="#b2dd2d"/><rect x="459.48" width="2.44" height="17.82" fill="#c2df23"/><rect x="461.62" width="2.44" height="17.82" fill="#bade28"/><rect x="463.76" width="2.44" height="17.82" fill="#b5de2b"/><rect x="465.90" width="2.44" height="17.82" fill="#c2df23"/><rect x="468.04" width="2.44" height="17.82" fill="#c5e021"/><rect x="470.18" width="2.44" height="17.82" fill="#c8e020"/><rect x="472.32" width="2.44" height="17.82" fill="#bddf26"/><rect x="474.46" width="2.44" height="17.82" fill="#c0df25"/><rect x="476.60" width="2.44" height="17.82" fill="#bade28"/><rect x="478.74" width="2.44" height="17.82" fill="#b8de29"/><rect x="480.88" width="2.44" height="17.82" fill="#c5e021"/><rect x="483.02" width="2.44" height="17.82" fill="#c8e020"/><rect x="485.16" width="2.44" height="17.82" fill="#dae319"/><rect x="487.30" width="2.44" height="17.82" fill="#dfe318"/><rect x="489.44" width="2.44" height="17.82" fill="#c5e021"/><rect x="491.58" width="2.44" height="17.82" fill="#a8db34"/><rect x="493.72" width="2.44" height="17.82" fill="#bddf26"/><rect x="495.86" width="4.58" height="17.82" fill="#c5e021"/><rect x="500.14" width="2.44" height="17.82" fill="#dfe318"/><rect x="502.28" width="2.44" height="17.82" fill="#d2e21b"/><rect x="504.42" width="2.44" height="17.82" fill="#b5de2b"/><rect x="506.56" width="2.44" height="17.82" fill="#c8e020"/><rect x="508.70" width="2.44" height="17.82" fill="#e2e418"/><rect x="510.84" width="2.44" height="17.82" fill="#dde318"/><rect x="512.98" width="2.44" height="17.82" fill="#dae319"/><rect x="515.12" width="2.44" height="17.82" fill="#d2e21b"/><rect x="517.26" width="2.44" height="17.82" fill="#d0e11c"/><rect x="519.40" width="2.44" height="17.82" fill="#dae319"/><rect x="521.54" width="2.44" height="17.82" fill="#d8e219"/><rect x="523.68" width="2.44" height="17.82" fill="#cae11f"/><rect x="525.82" width="2.44" height="17.82" fill="#d8e219"/><rect x="527.96" width="2.44" height="17.82" fill="#eae51a"/><rect x="530.10" width="2.44" height="17.82" fill="#ece51b"/><rect x="532.24" width="2.44" height="17.82" fill="#dfe318"/><rect x="534.38" width="2.44" height="17.82" fill="#d2e21b"/><rect x="536.52" width="2.44" height="17.82" fill="#d8e219"/><rect x="538.66" width="2.44" height="17.82" fill="#d5e21a"/><rect x="540.80" width="2.44" height="17.82" fill="#dae319"/><rect x="542.94" width="2.44" height="17.82" fill="#e2e418"/><rect x="545.08" width="2.44" height="17.82" fill="#efe51c"/><rect x="547.22" width="15.28" height="17.82" fill="#fde725"/><rect x="562.20" width="2.44" height="17.82" fill="#fbe723"/><rect x="564.34" width="19.56" height="17.82" fill="#fde725"/><rect x="583.60" width="2.44" height="17.82" fill="#f6e620"/><rect x="585.74" width="19.56" height="17.82" fill="#fde725"/>
</g>
<g transform="translate(0,244.25)">
<rect x="70.00" width="2.44" height="17.82" fill="#481c6e"/><rect x="72.14" width="2.44" height="17.82" fill="#481668"/><rect x="74.28" width="2.44" height="17.82" fill="#470e61"/><rect x="76.42" width="4.58" height="17.82" fill="#460b5e"/><rect x="80.70" width="2.44" height="17.82" fill="#470d60"/><rect x="82.84" width="2.44" height="17.82" fill="#470e61"/><rect x="84.98" width="2.44" height="17.82" fill="#471063"/><rect x="87.12" width="2.44" height="17.82" fill="#471164"/><rect x="89.26" width="2.44" height="17.82" fill="#471365"/><rect x="91.40" width="2.44" height="17.82" fill="#481467"/><rect x="93.54" width="2.44" height="17.82" fill="#481668"/><rect x="95.68" width="2.44" height="17.82" fill="#481769"/><rect x="97.82" width="2.44" height="17.82" fill="#48186a"/><rect x="99.96" width="6.72" height="17.82" fill="#481a6c"/><rect x="106.38" width="2.44" height="17.82" fill="#481b6d"/><rect x="108.52" width="2.44" height="17.82" fill="#481c6e"/><rect x="110.66" width="2.44" height="17.82" fill="#481d6f"/><rect x="112.80" width="4.58" height="17.82" fill="#481f70"/><rect x="117.08" width="2.44" height="17.82" fill="#482071"/><rect x="119.22" width="2.44" height="17.82" fill="#482173"/><rect x="121.36" width="2.44" height="17.82" fill="#482576"/><rect x="123.50" width="2.44" height="17.82" fill="#482979"/><rect x="125.64" width="2.44" height="17.82" fill="#472a7a"/><rect x="127.78" width="6.72" height="17.82" fill="#472c7a"/><rect x="134.20" width="4.58" height="17.82" fill="#472a7a"/><rect x="138.48" width="2.44" height="17.82" fill="#482979"/><rect x="140.62" width="2.44" height="17.82" fill="#482878"/><rect x="142.76" width="2.44" height="17.82" fill="#482979"/><rect x="144.90" width="4.58" height="17.82" fill="#482878"/><rect x="149.18" width="4.58" height="17.82" fill="#482979"/><rect x="153.46" width="2.44" height="17.82" fill="#472a7a"/><rect x="155.60" width="2.44" height="17.82" fill="#472c7a"/><rect x="157.74" width="4.58" height="17.82" fill="#472a7a"/><rect x="162.02" width="6.72" height="17.82" fill="#472d7b"/><rect x="168.44" width="4.58" height="17.82" fill="#472e7c"/><rect x="172.72" width="4.58" height="17.82" fill="#472f7d"/><rect x="177.00" width="4.58" height="17.82" fill="#46307e"/><rect x="181.28" width="4.58" height="17.82" fill="#46327e"/><rect x="185.56" width="2.44" height="17.82" fill="#46337f"/><rect x="187.70" width="2.44" height="17.82" fill="#463480"/><rect x="189.84" width="2.44" height="17.82" fill="#453581"/><rect x="191.98" width="2.44" height="17.82" fill="#453781"/><rect x="194.12" width="4.58" height="17.82" fill="#453882"/><rect x="198.40" width="2.44" height="17.82" fill="#443a83"/><rect x="200.54" width="2.44" height="17.82" fill="#443b84"/><rect x="202.68" width="2.44" height="17.82" fill="#433d84"/><rect x="204.82" width="2.44" height="17.82" fill="#424086"/><rect x="206.96" width="2.44" height="17.82" fill="#414487"/><rect x="209.10" width="2.44" height="17.82" fill="#404688"/><rect x="211.24" width="2.44" height="17.82" fill="#3f4788"/><rect x="213.38" width="2.44" height="17.82" fill="#3e4989"/><rect x="215.52" width="2.44" height="17.82" fill="#3e4c8a"/><rect x="217.66" width="2.44" height="17.82" fill="#3c4f8a"/><rect x="219.80" width="2.44" height="17.82" fill="#3b518b"/><rect x="221.94" width="2.44" height="17.82" fill="#3b528b"/><rect x="224.08" width="2.44" height="17.82" fill="#3a548c"/><rect x="226.22" width="2.44" height="17.82" fill="#39558c"/><rect x="228.36" width="2.44" height="17.82" fill="#39568c"/><rect x="230.50" width="2.44" height="17.82" fill="#38598c"/><rect x="232.64" width="2.44" height="17.82" fill="#375a8c"/><rect x="234.78" width="2.44" height="17.82" fill="#365d8d"/><rect x="236.92" width="2.44" height="17.82" fill="#34608d"/><rect x="239.06" width="2.44" height="17.82" fill="#33638d"/><rect x="241.20" width="2.44" height="17.82" fill="#32648e"/><rect x="243.34" width="2.44" height="17.82" fill="#31668e"/><rect x="245.48" width="2.44" height="17.82" fill="#30698e"/><rect x="247.62" width="2.44" height="17.82" fill="#2f6c8e"/><rect x="249.76" width="2.44" height="17.82" fill="#2e6f8e"/><rect x="251.90" width="2.44" height="17.82" fill="#2d718e"/><rect x="254.04" width="2.44" height="17.82" fill="#2c728e"/><rect x="256.18" width="2.44" height="17.82" fill="#2b758e"/><rect x="258.32" width="4.58" height="17.82" fill="#2a778e"/><rect x="262.60" width="2.44" height="17.82" fill="#287c8e"/><rect x="264.74" width="2.44" height="17.82" fill="#277e8e"/><rect x="266.88" width="2.44" height="17.82" fill="#27808e"/><rect x="269.02" width="4.58" height="17.82" fill="#25838e"/><rect x="273.30" width="2.44" height="17.82" fill="#26828e"/><rect x="275.44" width="2.44" height="17.82" fill="#25858e"/><rect x="277.58" width="2.44" height="17.82" fill="#24868e"/><rect x="279.72" width="2.44" height="17.82" fill="#23888e"/><rect x="281.86" width="2.44" height="17.82" fill="#23898e"/><rect x="284.00" width="2.44" height="17.82" fill="#228c8d"/><rect x="286.14" width="4.58" height="17.82" fill="#218f8d"/><rect x="290.42" width="2.44" height="17.82" fill="#218e8d"/><rect x="292.56" width="2.44" height="17.82" fill="#218f8d"/><rect x="294.70" width="2.44" height="17.82" fill="#21908d"/><rect x="296.84" width="2.44" height="17.82" fill="#20928c"/><rect x="298.98" width="2.44" height="17.82" fill="#20938c"/><rect x="301.12" width="2.44" height="17.82" fill="#1f958b"/><rect x="303.26" width="4.58" height="17.82" fill="#1f998a"/><rect x="307.54" width="2.44" height="17.82" fill="#1f9a8a"/><rect x="309.68" width="6.72" height="17.82" fill="#1e9c89"/><rect x="316.10" width="2.44" height="17.82" fill="#1fa188"/><rect x="318.24" width="2.44" height="17.82" fill="#1fa088"/><rect x="320.38" width="2.44" height="17.82" fill="#1fa187"/><rect x="322.52" width="2.44" height="17.82" fill="#20a386"/><rect x="324.66" width="2.44" height="17.82" fill="#21a585"/><rect x="326.80" width="2.44" height="17.82" fill="#23a983"/><rect x="328.94" width="2.44" height="17.82" fill="#24aa83"/><rect x="331.08" width="2.44" height="17.82" fill="#26ad81"/><rect x="333.22" width="2.44" height="17.82" fill="#25ac82"/><rect x="335.36" width="2.44" height="17.82" fill="#29af7f"/><rect x="337.50" width="2.44" height="17.82" fill="#31b57b"/><rect x="339.64" width="2.44" height="17.82" fill="#2eb37c"/><rect x="341.78" width="2.44" height="17.82" fill="#2db27d"/><rect x="343.92" width="2.44" height="17.82" fill="#2fb47c"/><rect x="346.06" width="2.44" height="17.82" fill="#2eb37c"/><rect x="348.20" width="2.44" height="17.82" fill="#35b779"/><rect x="350.34" width="2.44" height="17.82" fill="#38b977"/><rect x="352.48" width="2.44" height="17.82" fill="#37b878"/><rect x="354.62" width="2.44" height="17.82" fill="#3dbc74"/><rect x="356.76" width="4.58" height="17.82" fill="#3fbc73"/><rect x="361.04" width="2.44" height="17.82" fill="#4ac16d"/><rect x="363.18" width="4.58" height="17.82" fill="#52c569"/><rect x="367.46" width="2.44" height="17.82" fill="#54c568"/><rect x="369.60" width="2.44" height="17.82" fill="#52c569"/><rect x="371.74" width="2.44" height="17.82" fill="#54c568"/><rect x="373.88" width="2.44" height="17.82" fill="#50c46a"/><rect x="376.02" width="2.44" height="17.82" fill="#5ac864"/><rect x="378.16" width="2.44" height="17.82" fill="#63cb5f"/><rect x="380.30" width="2.44" height="17.82" fill="#5ec962"/><rect x="382.44" width="2.44" height="17.82" fill="#5ac864"/><rect x="384.58" width="2.44" height="17.82" fill="#5cc863"/><rect x="386.72" width="2.44" height="17.82" fill="#73d056"/><rect x="388.86" width="2.44" height="17.82" fill="#70cf57"/><rect x="391.00" width="2.44" height="17.82" fill="#63cb5f"/><rect x="393.14" width="2.44" height="17.82" fill="#6ccd5a"/><rect x="395.28" width="2.44" height="17.82" fill="#7cd250"/><rect x="397.42" width="2.44" height="17.82" fill="#7ad151"/><rect x="399.56" width="2.44" height="17.82" fill="#6ccd5a"/><rect x="401.70" width="2.44" height="17.82" fill="#70cf57"/><rect x="403.84" width="2.44" height="17.82" fill="#6ece58"/><rect x="405.98" width="2.44" height="17.82" fill="#77d153"/><rect x="408.12" width="2.44" height="17.82" fill="#81d34d"/><rect x="410.26" width="4.58" height="17.82" fill="#84d44b"/><rect x="414.54" width="2.44" height="17.82" fill="#86d549"/><rect x="416.68" width="2.44" height="17.82" fill="#89d548"/><rect x="418.82" width="2.44" height="17.82" fill="#84d44b"/><rect x="420.96" width="2.44" height="17.82" fill="#7fd34e"/><rect x="423.10" width="2.44" height="17.82" fill="#77d153"/><rect x="425.24" width="2.44" height="17.82" fill="#89d548"/><rect x="427.38" width="2.44" height="17.82" fill="#95d840"/><rect x="429.52" width="2.44" height="17.82" fill="#8ed645"/><rect x="431.66" width="2.44" height="17.82" fill="#93d741"/><rect x="433.80" width="2.44" height="17.82" fill="#90d743"/><rect x="435.94" width="2.44" height="17.82" fill="#8ed645"/><rect x="438.08" width="2.44" height="17.82" fill="#9dd93b"/><rect x="440.22" width="2.44" height="17.82" fill="#a0da39"/><rect x="442.36" width="4.58" height="17.82" fill="#98d83e"/><rect x="446.64" width="2.44" height="17.82" fill="#a0da39"/><rect x="448.78" width="4.58" height="17.82" fill="#a8db34"/><rect x="453.06" width="2.44" height="17.82" fill="#9dd93b"/><rect x="455.20" width="2.44" height="17.82" fill="#8ed645"/><rect x="457.34" width="2.44" height="17.82" fill="#9bd93c"/><rect x="459.48" width="2.44" height="17.82" fill="#a8db34"/><rect x="461.62" width="2.44" height="17.82" fill="#a0da39"/><rect x="463.76" width="2.44" height="17.82" fill="#9dd93b"/><rect x="465.90" width="2.44" height="17.82" fill="#a5db36"/><rect x="468.04" width="2.44" height="17.82" fill="#aadc32"/><rect x="470.18" width="2.44" height="17.82" fill="#addc30"/><rect x="472.32" width="2.44" height="17.82" fill="#a2da37"/><rect x="474.46" width="2.44" height="17.82" fill="#a8db34"/><rect x="476.60" width="2.44" height="17.82" fill="#a2da37"/><rect x="478.74" width="2.44" height="17.82" fill="#9dd93b"/><rect x="480.88" width="2.44" height="17.82" fill="#a8db34"/><rect x="483.02" width="2.44" height="17.82" fill="#aadc32"/><rect x="485.16" width="4.58" height="17.82" fill="#b8de29"/><rect x="489.44" width="2.44" height="17.82" fill="#aadc32"/><rect x="491.58" width="2.44" height="17.82" fill="#95d840"/><rect x="493.72" width="2.44" height="17.82" fill="#a0da39"/><rect x="495.86" width="2.44" height="17.82" fill="#a8db34"/><rect x="498.00" width="2.44" height="17.82" fill="#a2da37"/><rect x="500.14" width="4.58" height="17.82" fill="#addc30"/><rect x="504.42" width="2.44" height="17.82" fill="#95d840"/><rect x="506.56" width="2.44" height="17.82" fill="#a0da39"/><rect x="508.70" width="2.44" height="17.82" fill="#b8de29"/><rect x="510.84" width="2.44" height="17.82" fill="#b5de2b"/><rect x="512.98" width="2.44" height="17.82" fill="#b2dd2d"/><rect x="515.12" width="2.44" height="17.82" fill="#aadc32"/><rect x="517.26" width="2.44" height="17.82" fill="#9bd93c"/><rect x="519.40" width="2.44" height="17.82" fill="#9dd93b"/><rect x="521.54" width="2.44" height="17.82" fill="#a5db36"/><rect x="523.68" width="2.44" height="17.82" fill="#9dd93b"/><rect x="525.82" width="2.44" height="17.82" fill="#addc30"/><rect x="527.96" width="4.58" height="17.82" fill="#b8de29"/><rect x="532.24" width="2.44" height="17.82" fill="#b0dd2f"/><rect x="534.38" width="2.44" height="17.82" fill="#a8db34"/><rect x="536.52" width="2.44" height="17.82" fill="#addc30"/><rect x="538.66" width="2.44" height="17.82" fill="#b0dd2f"/><rect x="540.80" width="2.44" height="17.82" fill="#c2df23"/><rect x="542.94" width="2.44" height="17.82" fill="#cae11f"/><rect x="545.08" width="2.44" height="17.82" fill="#d5e21a"/><rect x="547.22" width="2.44" height="17.82" fill="#e2e418"/><rect x="549.36" width="2.44" height="17.82" fill="#f1e51d"/><rect x="551.50" width="2.44" height="17.82" fill="#e5e419"/><rect x="553.64" width="2.44" height="17.82" fill="#d5e21a"/><rect x="555.78" width="2.44" height="17.82" fill="#dde318"/><rect x="557.92" width="2.44" height="17.82" fill="#dae319"/><rect x="560.06" width="2.44" height="17.82" fill="#d2e21b"/><rect x="562.20" width="2.44" height="17.82" fill="#d0e11c"/><rect x="564.34" width="2.44" height="17.82" fill="#e2e418"/><rect x="566.48" width="2.44" height="17.82" fill="#eae51a"/><rect x="568.62" width="2.44" height="17.82" fill="#e7e419"/><rect x="570.76" width="2.44" height="17.82" fill="#e2e418"/><rect x="572.90" width="2.44" height="17.82" fill="#e7e419"/><rect x="575.04" width="2.44" height="17.82" fill="#eae51a"/><rect x="577.18" width="2.44" height="17.82" fill="#cde11d"/><rect x="579.32" width="2.44" height="17.82" fill="#cae11f"/><rect x="581.46" width="2.44" height="17.82" fill="#cde11d"/><rect x="583.60" width="2.44" height="17.82" fill="#b8de29"/><rect x="585.74" width="2.44" height="17.82" fill="#c8e020"/><rect x="587.88" width="2.44" height="17.82" fill="#ece51b"/><rect x="590.02" width="2.44" height="17.82" fill="#efe51c"/><rect x="592.16" width="2.44" height="17.82" fill="#dde318"/><rect x="594.30" width="2.44" height="17.82" fill="#d0e11c"/><rect x="596.44" width="2.44" height="17.82" fill="#e5e419"/><rect x="598.58" width="2.44" height="17.82" fill="#f4e61e"/><rect x="600.72" width="2.44" height="17.82" fill="#ece51b"/><rect x="602.86" width="2.44" height="17.82" fill="#eae51a"/>
</g>
<g transform="translate(0,226.73)">
<rect x="70.00" width="2.44" height="17.82" fill="#481c6e"/><rect x="72.14" width="2.44" height="17.82" fill="#481769"/><rect x="74.28" width="2.44" height="17.82" fill="#471164"/><rect x="76.42" width="4.58" height="17.82" fill="#470e61"/><rect x="80.70" width="2.44" height="17.82" fill="#471063"/><rect x="82.84" width="2.44" height="17.82" fill="#471164"/><rect x="84.98" width="2.44" height="17.82" fill="#471365"/><rect x="87.12" width="2.44" height="17.82" fill="#481467"/><rect x="89.26" width="2.44" height="17.82" fill="#481668"/><rect x="91.40" width="2.44" height="17.82" fill="#481769"/><rect x="93.54" width="4.58" height="17.82" fill="#48186a"/><rect x="97.82" width="2.44" height="17.82" fill="#481a6c"/><rect x="99.96" width="6.72" height="17.82" fill="#481b6d"/><rect x="106.38" width="2.44" height="17.82" fill="#481c6e"/><rect x="108.52" width="2.44" height="17.82" fill="#481d6f"/><rect x="110.66" width="6.72" height="17.82" fill="#481f70"/><rect x="117.08" width="2.44" height="17.82" fill="#482071"/><rect x="119.22" width="2.44" height="17.82" fill="#482374"/><rect x="121.36" width="2.44" height="17.82" fill="#482576"/><rect x="123.50" width="2.44" height="17.82" fill="#482878"/><rect x="125.64" width="2.44" height="17.82" fill="#472a7a"/><rect x="127.78" width="2.44" height="17.82" fill="#472d7b"/><rect x="129.92" width="2.44" height="17.82" fill="#472c7a"/><rect x="132.06" width="6.72" height="17.82" fill="#472a7a"/><rect x="138.48" width="2.44" height="17.82" fill="#482979"/><rect x="140.62" width="13.14" height="17.82" fill="#482878"/><rect x="153.46" width="8.86" height="17.82" fill="#482979"/><rect x="162.02" width="4.58" height="17.82" fill="#472a7a"/><rect x="166.30" width="6.72" height="17.82" fill="#472c7a"/><rect x="172.72" width="2.44" height="17.82" fill="#472d7b"/><rect x="174.86" width="6.72" height="17.82" fill="#472e7c"/><rect x="181.28" width="4.58" height="17.82" fill="#472f7d"/><rect x="185.56" width="2.44" height="17.82" fill="#46307e"/><rect x="187.70" width="2.44" height="17.82" fill="#46327e"/><rect x="189.84" width="2.44" height="17.82" fill="#46337f"/><rect x="191.98" width="6.72" height="17.82" fill="#463480"/><rect x="198.40" width="2.44" height="17.82" fill="#453581"/><rect x="200.54" width="2.44" height="17.82" fill="#453781"/><rect x="202.68" width="2.44" height="17.82" fill="#453882"/><rect x="204.82" width="2.44" height="17.82" fill="#443a83"/><rect x="206.96" width="2.44" height="17.82" fill="#433d84"/><rect x="209.10" width="2.44" height="17.82" fill="#423f85"/><rect x="211.24" width="2.44" height="17.82" fill="#424186"/><rect x="213.38" width="2.44" height="17.82" fill="#414487"/><rect x="215.52" width="2.44" height="17.82" fill="#404588"/><rect x="217.66" width="2.44" height="17.82" fill="#3f4889"/><rect x="219.80" width="2.44" height="17.82" fill="#3e4c8a"/><rect x="221.94" width="2.44" height="17.82" fill="#3d4d8a"/><rect x="224.08" width="2.44" height="17.82" fill="#3c4f8a"/><rect x="226.22" width="2.44" height="17.82" fill="#3b518b"/><rect x="228.36" width="2.44" height="17.82" fill="#3a538b"/><rect x="230.50" width="2.44" height="17.82" fill="#3a548c"/><rect x="232.64" width="2.44" height="17.82" fill="#39568c"/><rect x="234.78" width="2.44" height="17.82" fill="#375a8c"/><rect x="236.92" width="2.44" height="17.82" fill="#365c8d"/><rect x="239.06" width="4.58" height="17.82" fill="#355f8d"/><rect x="243.34" width="2.44" height="17.82" fill="#34608d"/><rect x="245.48" width="2.44" height="17.82" fill="#33628d"/><rect x="247.62" width="2.44" height="17.82" fill="#32648e"/><rect x="249.76" width="2.44" height="17.82" fill="#31668e"/><rect x="251.90" width="6.72" height="17.82" fill="#31688e"/><rect x="258.32" width="2.44" height="17.82" fill="#306a8e"/><rect x="260.46" width="2.44" height="17.82" fill="#30698e"/><rect x="262.60" width="2.44" height="17.82" fill="#2f6c8e"/><rect x="264.74" width="2.44" height="17.82" fill="#2e6f8e"/><rect x="266.88" width="2.44" height="17.82" fill="#2d708e"/><rect x="269.02" width="4.58" height="17.82" fill="#2c738e"/><rect x="273.30" width="2.44" height="17.82" fill="#2c718e"/><rect x="275.44" width="2.44" height="17.82" fill="#2c738e"/><rect x="277.58" width="2.44" height="17.82" fill="#2b758e"/><rect x="279.72" width="4.58" height="17.82" fill="#2a768e"/><rect x="284.00" width="2.44" height="17.82" fill="#2a788e"/><rect x="286.14" width="6.72" height="17.82" fill="#29798e"/><rect x="292.56" width="2.44" height="17.82" fill="#297b8e"/><rect x="294.70" width="2.44" height="17.82" fill="#297a8e"/><rect x="296.84" width="4.58" height="17.82" fill="#297b8e"/><rect x="301.12" width="2.44" height="17.82" fill="#287d8e"/><rect x="303.26" width="2.44" height="17.82" fill="#27808e"/><rect x="305.40" width="2.44" height="17.82" fill="#277f8e"/><rect x="307.54" width="2.44" height="17.82" fill="#277e8e"/><rect x="309.68" width="2.44" height="17.82" fill="#277f8e"/><rect x="311.82" width="4.58" height="17.82" fill="#277e8e"/><rect x="316.10" width="2.44" height="17.82" fill="#26828e"/><rect x="318.24" width="2.44" height="17.82" fill="#26818e"/><rect x="320.38" width="2.44" height="17.82" fill="#26828e"/><rect x="322.52" width="4.58" height="17.82" fill="#25838e"/><rect x="326.80" width="2.44" height="17.82" fill="#25848e"/><rect x="328.94" width="2.44" height="17.82" fill="#24868e"/><rect x="331.08" width="2.44" height="17.82" fill="#23898e"/><rect x="333.22" width="2.44" height="17.82" fill="#24868e"/><rect x="335.36" width="2.44" height="17.82" fill="#23898e"/><rect x="337.50" width="2.44" height="17.82" fill="#21908d"/><rect x="339.64" width="2.44" height="17.82" fill="#218f8d"/><rect x="341.78" width="2.44" height="17.82" fill="#218e8d"/><rect x="343.92" width="2.44" height="17.82" fill="#228d8d"/><rect x="346.06" width="2.44" height="17.82" fill="#228c8d"/><rect x="348.20" width="2.44" height="17.82" fill="#21918c"/><rect x="350.34" width="8.86" height="17.82" fill="#20928c"/><rect x="358.90" width="2.44" height="17.82" fill="#1f948c"/><rect x="361.04" width="2.44" height="17.82" fill="#1f998a"/><rect x="363.18" width="2.44" height="17.82" fill="#1f9e89"/><rect x="365.32" width="2.44" height="17.82" fill="#1fa088"/><rect x="367.46" width="2.44" height="17.82" fill="#1fa188"/><rect x="369.60" width="2.44" height="17.82" fill="#1f9f88"/><rect x="371.74" width="2.44" height="17.82" fill="#1fa088"/><rect x="373.88" width="2.44" height="17.82" fill="#1fa188"/><rect x="376.02" width="2.44" height="17.82" fill="#1fa287"/><rect x="378.16" width="4.58" height="17.82" fill="#21a585"/><rect x="382.44" width="2.44" height="17.82" fill="#1fa287"/><rect x="384.58" width="2.44" height="17.82" fill="#20a386"/><rect x="386.72" width="2.44" height="17.82" fill="#25ac82"/><rect x="388.86" width="2.44" height="17.82" fill="#28ae80"/><rect x="391.00" width="2.44" height="17.82" fill="#25ab82"/><rect x="393.14" width="2.44" height="17.82" fill="#2ab07f"/><rect x="395.28" width="2.44" height="17.82" fill="#35b779"/><rect x="397.42" width="2.44" height="17.82" fill="#2fb47c"/><rect x="399.56" width="2.44" height="17.82" fill="#2ab07f"/><rect x="401.70" width="2.44" height="17.82" fill="#31b57b"/><rect x="403.84" width="2.44" height="17.82" fill="#2fb47c"/><rect x="405.98" width="2.44" height="17.82" fill="#35b779"/><rect x="408.12" width="2.44" height="17.82" fill="#3fbc73"/><rect x="410.26" width="2.44" height="17.82" fill="#3bbb75"/><rect x="412.40" width="2.44" height="17.82" fill="#3dbc74"/><rect x="414.54" width="2.44" height="17.82" fill="#44bf70"/><rect x="416.68" width="2.44" height="17.82" fill="#48c16e"/><rect x="418.82" width="4.58" height="17.82" fill="#4cc26c"/><rect x="423.10" width="2.44" height="17.82" fill="#48c16e"/><rect x="425.24" width="2.44" height="17.82" fill="#58c765"/><rect x="427.38" width="2.44" height="17.82" fill="#60ca60"/><rect x="429.52" width="2.44" height="17.82" fill="#5ec962"/><rect x="431.66" width="2.44" height="17.82" fill="#65cb5e"/><rect x="433.80" width="2.44" height="17.82" fill="#63cb5f"/><rect x="435.94" width="2.44" height="17.82" fill="#67cc5c"/><rect x="438.08" width="2.44" height="17.82" fill="#73d056"/><rect x="440.22" width="2.44" height="17.82" fill="#7ad151"/><rect x="442.36" width="2.44" height="17.82" fill="#75d054"/><rect x="444.50" width="2.44" height="17.82" fill="#77d153"/><rect x="446.64" width="2.44" height="17.82" fill="#84d44b"/><rect x="448.78" width="2.44" height="17.82" fill="#89d548"/><rect x="450.92" width="2.44" height="17.82" fill="#86d549"/><rect x="453.06" width="2.44" height="17.82" fill="#81d34d"/><rect x="455.20" width="2.44" height="17.82" fill="#7cd250"/><rect x="457.34" width="2.44" height="17.82" fill="#8bd646"/><rect x="459.48" width="2.44" height="17.82" fill="#9bd93c"/><rect x="461.62" width="2.44" height="17.82" fill="#95d840"/><rect x="463.76" width="2.44" height="17.82" fill="#9bd93c"/><rect x="465.90" width="2.44" height="17.82" fill="#a2da37"/><rect x="468.04" width="2.44" height="17.82" fill="#a5db36"/><rect x="470.18" width="2.44" height="17.82" fill="#addc30"/><rect x="472.32" width="2.44" height="17.82" fill="#a8db34"/><rect x="474.46" width="2.44" height="17.82" fill="#aadc32"/><rect x="476.60" width="2.44" height="17.82" fill="#a5db36"/><rect x="478.74" width="2.44" height="17.82" fill="#9dd93b"/><rect x="480.88" width="4.58" height="17.82" fill="#a8db34"/><rect x="485.16" width="2.44" height="17.82" fill="#b2dd2d"/><rect x="487.30" width="2.44" height="17.82" fill="#c0df25"/><rect x="489.44" width="2.44" height="17.82" fill="#addc30"/><rect x="491.58" width="2.44" height="17.82" fill="#8ed645"/><rect x="493.72" width="2.44" height="17.82" fill="#a2da37"/><rect x="495.86" width="2.44" height="17.82" fill="#addc30"/><rect x="498.00" width="2.44" height="17.82" fill="#b2dd2d"/><rect x="500.14" width="2.44" height="17.82" fill="#d5e21a"/><rect x="502.28" width="2.44" height="17.82" fill="#cde11d"/><rect x="504.42" width="2.44" height="17.82" fill="#b2dd2d"/><rect x="506.56" width="2.44" height="17.82" fill="#c2df23"/><rect x="508.70" width="2.44" height="17.82" fill="#d8e219"/><rect x="510.84" width="2.44" height="17.82" fill="#d2e21b"/><rect x="512.98" width="2.44" height="17.82" fill="#cde11d"/><rect x="515.12" width="2.44" height="17.82" fill="#cae11f"/><rect x="517.26" width="2.44" height="17.82" fill="#c0df25"/><rect x="519.40" width="2.44" height="17.82" fill="#c8e020"/><rect x="521.54" width="2.44" height="17.82" fill="#cde11d"/><rect x="523.68" width="2.44" height="17.82" fill="#c2df23"/><rect x="525.82" width="2.44" height="17.82" fill="#d0e11c"/><rect x="527.96" width="2.44" height="17.82" fill="#dfe318"/><rect x="530.10" width="2.44" height="17.82" fill="#e5e419"/><rect x="532.24" width="2.44" height="17.82" fill="#dde318"/><rect x="534.38" width="2.44" height="17.82" fill="#cde11d"/><rect x="536.52" width="2.44" height="17.82" fill="#d0e11c"/><rect x="538.66" width="2.44" height="17.82" fill="#dfe318"/><rect x="540.80" width="64.50" height="17.82" fill="#fde725"/>
</g>
<g transform="translate(0,209.22)">
<rect x="70.00" width="2.44" height="17.82" fill="#481c6e"/><rect x="72.14" width="2.44" height="17.82" fill="#481769"/><rect x="74.28" width="2.44" height="17.82" fill="#471365"/><rect x="76.42" width="2.44" height="17.82" fill="#471063"/><rect x="78.56" width="2.44" height="17.82" fill="#471164"/><rect x="80.70" width="2.44" height="17.82" fill="#471365"/><rect x="82.84" width="2.44" height="17.82" fill="#481467"/><rect x="84.98" width="2.44" height="17.82" fill="#481668"/><rect x="87.12" width="2.44" height="17.82" fill="#481769"/><rect x="89.26" width="2.44" height="17.82" fill="#48186a"/><rect x="91.40" width="4.58" height="17.82" fill="#481a6c"/><rect x="95.68" width="2.44" height="17.82" fill="#481b6d"/><rect x="97.82" width="2.44" height="17.82" fill="#481c6e"/><rect x="99.96" width="8.86" height="17.82" fill="#481d6f"/><rect x="108.52" width="4.58" height="17.82" fill="#482071"/><rect x="112.80" width="4.58" height="17.82" fill="#482173"/><rect x="117.08" width="2.44" height="17.82" fill="#482374"/><rect x="119.22" width="2.44" height="17.82" fill="#482475"/><rect x="121.36" width="2.44" height="17.82" fill="#482677"/><rect x="123.50" width="2.44" height="17.82" fill="#482979"/><rect x="125.64" width="2.44" height="17.82" fill="#472a7a"/><rect x="127.78" width="6.72" height="17.82" fill="#472c7a"/><rect x="134.20" width="4.58" height="17.82" fill="#472a7a"/><rect x="138.48" width="2.44" height="17.82" fill="#482979"/><rect x="140.62" width="13.14" height="17.82" fill="#482878"/><rect x="153.46" width="2.44" height="17.82" fill="#482979"/><rect x="155.60" width="2.44" height="17.82" fill="#472a7a"/><rect x="157.74" width="4.58" height="17.82" fill="#482979"/><rect x="162.02" width="6.72" height="17.82" fill="#472a7a"/><rect x="168.44" width="2.44" height="17.82" fill="#472c7a"/><rect x="170.58" width="2.44" height="17.82" fill="#472d7b"/><rect x="172.72" width="8.86" height="17.82" fill="#472e7c"/><rect x="181.28" width="6.72" height="17.82" fill="#472f7d"/><rect x="187.70" width="2.44" height="17.82" fill="#46307e"/><rect x="189.84" width="2.44" height="17.82" fill="#46327e"/><rect x="191.98" width="4.58" height="17.82" fill="#46337f"/><rect x="196.26" width="2.44" height="17.82" fill="#46327e"/><rect x="198.40" width="2.44" height="17.82" fill="#463480"/><rect x="200.54" width="4.58" height="17.82" fill="#453581"/><rect x="204.82" width="2.44" height="17.82" fill="#453882"/><rect x="206.96" width="2.44" height="17.82" fill="#443983"/><rect x="209.10" width="4.58" height="17.82" fill="#443b84"/><rect x="213.38" width="2.44" height="17.82" fill="#433e85"/><rect x="215.52" width="2.44" height="17.82" fill="#423f85"/><rect x="217.66" width="2.44" height="17.82" fill="#424186"/><rect x="219.80" width="4.58" height="17.82" fill="#414487"/><rect x="224.08" width="2.44" height="17.82" fill="#404688"/><rect x="226.22" width="2.44" height="17.82" fill="#3f4788"/><rect x="228.36" width="2.44" height="17.82" fill="#3f4889"/><rect x="230.50" width="2.44" height="17.82" fill="#3e4989"/><rect x="232.64" width="2.44" height="17.82" fill="#3e4c8a"/><rect x="234.78" width="2.44" height="17.82" fill="#3d4d8a"/><rect x="236.92" width="2.44" height="17.82" fill="#3d4e8a"/><rect x="239.06" width="4.58" height="17.82" fill="#3c508b"/><rect x="243.34" width="2.44" height="17.82" fill="#3b528b"/><rect x="245.48" width="2.44" height="17.82" fill="#3a538b"/><rect x="247.62" width="2.44" height="17.82" fill="#3a548c"/><rect x="249.76" width="2.44" height="17.82" fill="#38588c"/><rect x="251.90" width="2.44" height="17.82" fill="#38598c"/><rect x="254.04" width="2.44" height="17.82" fill="#375a8c"/><rect x="256.18" width="2.44" height="17.82" fill="#365c8d"/><rect x="258.32" width="2.44" height="17.82" fill="#365d8d"/><rect x="260.46" width="2.44" height="17.82" fill="#365c8d"/><rect x="262.60" width="2.44" height="17.82" fill="#355e8d"/><rect x="264.74" width="2.44" height="17.82" fill="#34618d"/><rect x="266.88" width="2.44" height="17.82" fill="#33628d"/><rect x="269.02" width="2.44" height="17.82" fill="#32658e"/><rect x="271.16" width="2.44" height="17.82" fill="#31668e"/><rect x="273.30" width="2.44" height="17.82" fill="#32658e"/><rect x="275.44" width="2.44" height="17.82" fill="#31668e"/><rect x="277.58" width="2.44" height="17.82" fill="#31688e"/><rect x="279.72" width="4.58" height="17.82" fill="#30698e"/><rect x="284.00" width="2.44" height="17.82" fill="#2f6b8e"/><rect x="286.14" width="2.44" height="17.82" fill="#2e6d8e"/><rect x="288.28" width="2.44" height="17.82" fill="#2f6c8e"/><rect x="290.42" width="2.44" height="17.82" fill="#2e6d8e"/><rect x="292.56" width="4.58" height="17.82" fill="#2e6f8e"/><rect x="296.84" width="4.58" height="17.82" fill="#2d718e"/><rect x="301.12" width="2.44" height="17.82" fill="#2c728e"/><rect x="303.26" width="2.44" height="17.82" fill="#2b748e"/><rect x="305.40" width="4.58" height="17.82" fill="#2c738e"/><rect x="309.68" width="2.44" height="17.82" fill="#2b748e"/><rect x="311.82" width="2.44" height="17.82" fill="#2c738e"/><rect x="313.96" width="2.44" height="17.82" fill="#2c728e"/><rect x="316.10" width="4.58" height="17.82" fill="#2a768e"/><rect x="320.38" width="6.72" height="17.82" fill="#29798e"/><rect x="326.80" width="2.44" height="17.82" fill="#297b8e"/><rect x="328.94" width="2.44" height="17.82" fill="#287d8e"/><rect x="331.08" width="2.44" height="17.82" fill="#277f8e"/><rect x="333.22" width="2.44" height="17.82" fill="#287c8e"/><rect x="335.36" width="2.44" height="17.82" fill="#277f8e"/><rect x="337.50" width="2.44" height="17.82" fill="#25838e"/><rect x="339.64" width="2.44" height="17.82" fill="#26828e"/><rect x="341.78" width="2.44" height="17.82" fill="#26818e"/><rect x="343.92" width="2.44" height="17.82" fill="#26828e"/><rect x="346.06" width="2.44" height="17.82" fill="#27808e"/><rect x="348.20" width="2.44" height="17.82" fill="#26828e"/><rect x="350.34" width="2.44" height="17.82" fill="#25858e"/><rect x="352.48" width="6.72" height="17.82" fill="#25848e"/><rect x="358.90" width="2.44" height="17.82" fill="#25858e"/><rect x="361.04" width="2.44" height="17.82" fill="#23898e"/><rect x="363.18" width="4.58" height="17.82" fill="#228b8d"/><rect x="367.46" width="2.44" height="17.82" fill="#228c8d"/><rect x="369.60" width="4.58" height="17.82" fill="#23898e"/><rect x="373.88" width="4.58" height="17.82" fill="#228b8d"/><rect x="378.16" width="2.44" height="17.82" fill="#228c8d"/><rect x="380.30" width="6.72" height="17.82" fill="#218e8d"/><rect x="386.72" width="2.44" height="17.82" fill="#20938c"/><rect x="388.86" width="2.44" height="17.82" fill="#1f958b"/><rect x="391.00" width="2.44" height="17.82" fill="#218f8d"/><rect x="393.14" width="2.44" height="17.82" fill="#21918c"/><rect x="395.28" width="2.44" height="17.82" fill="#1f968b"/><rect x="397.42" width="2.44" height="17.82" fill="#1f948c"/><rect x="399.56" width="2.44" height="17.82" fill="#20938c"/><rect x="401.70" width="2.44" height="17.82" fill="#1f958b"/><rect x="403.84" width="2.44" height="17.82" fill="#20928c"/><rect x="405.98" width="2.44" height="17.82" fill="#1f978b"/><rect x="408.12" width="4.58" height="17.82" fill="#1e9b8a"/><rect x="412.40" width="2.44" height="17.82" fill="#1f998a"/><rect x="414.54" width="2.44" height="17.82" fill="#1e9c89"/><rect x="416.68" width="2.44" height="17.82" fill="#1e9d89"/><rect x="418.82" width="4.58" height="17.82" fill="#1e9c89"/><rect x="423.10" width="2.44" height="17.82" fill="#1f9a8a"/><rect x="425.24" width="2.44" height="17.82" fill="#1fa187"/><rect x="427.38" width="2.44" height="17.82" fill="#21a585"/><rect x="429.52" width="8.86" height="17.82" fill="#1fa287"/><rect x="438.08" width="2.44" height="17.82" fill="#20a486"/><rect x="440.22" width="4.58" height="17.82" fill="#22a785"/><rect x="444.50" width="2.44" height="17.82" fill="#23a983"/><rect x="446.64" width="2.44" height="17.82" fill="#26ad81"/><rect x="448.78" width="2.44" height="17.82" fill="#27ad81"/><rect x="450.92" width="2.44" height="17.82" fill="#26ad81"/><rect x="453.06" width="2.44" height="17.82" fill="#25ac82"/><rect x="455.20" width="2.44" height="17.82" fill="#22a785"/><rect x="457.34" width="2.44" height="17.82" fill="#24aa83"/><rect x="459.48" width="2.44" height="17.82" fill="#2ab07f"/><rect x="461.62" width="8.86" height="17.82" fill="#28ae80"/><rect x="470.18" width="2.44" height="17.82" fill="#2ab07f"/><rect x="472.32" width="2.44" height="17.82" fill="#28ae80"/><rect x="474.46" width="4.58" height="17.82" fill="#2eb37c"/><rect x="478.74" width="2.44" height="17.82" fill="#29af7f"/><rect x="480.88" width="2.44" height="17.82" fill="#2eb37c"/><rect x="483.02" width="2.44" height="17.82" fill="#31b57b"/><rect x="485.16" width="2.44" height="17.82" fill="#35b779"/><rect x="487.30" width="2.44" height="17.82" fill="#37b878"/><rect x="489.44" width="2.44" height="17.82" fill="#2fb47c"/><rect x="491.58" width="2.44" height="17.82" fill="#29af7f"/><rect x="493.72" width="2.44" height="17.82" fill="#32b67a"/><rect x="495.86" width="2.44" height="17.82" fill="#37b878"/><rect x="498.00" width="2.44" height="17.82" fill="#35b779"/><rect x="500.14" width="2.44" height="17.82" fill="#3fbc73"/><rect x="502.28" width="2.44" height="17.82" fill="#3aba76"/><rect x="504.42" width="2.44" height="17.82" fill="#2db27d"/><rect x="506.56" width="2.44" height="17.82" fill="#37b878"/><rect x="508.70" width="2.44" height="17.82" fill="#42be71"/><rect x="510.84" width="2.44" height="17.82" fill="#3fbc73"/><rect x="512.98" width="2.44" height="17.82" fill="#40bd72"/><rect x="515.12" width="2.44" height="17.82" fill="#3dbc74"/><rect x="517.26" width="2.44" height="17.82" fill="#38b977"/><rect x="519.40" width="2.44" height="17.82" fill="#3dbc74"/><rect x="521.54" width="2.44" height="17.82" fill="#40bd72"/><rect x="523.68" width="2.44" height="17.82" fill="#38b977"/><rect x="525.82" width="2.44" height="17.82" fill="#40bd72"/><rect x="527.96" width="2.44" height="17.82" fill="#4ec36b"/><rect x="530.10" width="2.44" height="17.82" fill="#4cc26c"/><rect x="532.24" width="2.44" height="17.82" fill="#44bf70"/><rect x="534.38" width="2.44" height="17.82" fill="#40bd72"/><rect x="536.52" width="2.44" height="17.82" fill="#46c06f"/><rect x="538.66" width="2.44" height="17.82" fill="#4cc26c"/><rect x="540.80" width="2.44" height="17.82" fill="#56c667"/><rect x="542.94" width="2.44" height="17.82" fill="#5ac864"/><rect x="545.08" width="2.44" height="17.82" fill="#5ec962"/><rect x="547.22" width="2.44" height="17.82" fill="#63cb5f"/><rect x="549.36" width="2.44" height="17.82" fill="#6ccd5a"/><rect x="551.50" width="2.44" height="17.82" fill="#60ca60"/><rect x="553.64" width="2.44" height="17.82" fill="#5cc863"/><rect x="555.78" width="2.44" height="17.82" fill="#6ccd5a"/><rect x="557.92" width="2.44" height="17.82" fill="#67cc5c"/><rect x="560.06" width="4.58" height="17.82" fill="#5ec962"/><rect x="564.34" width="2.44" height="17.82" fill="#6ccd5a"/><rect x="566.48" width="2.44" height="17.82" fill="#70cf57"/><rect x="568.62" width="2.44" height="17.82" fill="#69cd5b"/><rect x="570.76" width="2.44" height="17.82" fill="#65cb5e"/><rect x="572.90" width="2.44" height="17.82" fill="#70cf57"/><rect x="575.04" width="2.44" height="17.82" fill="#75d054"/><rect x="577.18" width="2.44" height="17.82" fill="#5ec962"/><rect x="579.32" width="2.44" height="17.82" fill="#5ac864"/><rect x="581.46" width="2.44" height="17.82" fill="#58c765"/><rect x="583.60" width="2.44" height="17.82" fill="#48c16e"/><rect x="585.74" width="2.44" height="17.82" fill="#58c765"/><rect x="587.88" width="4.58" height="17.82" fill="#75d054"/><rect x="592.16" width="2.44" height="17.82" fill="#6ccd5a"/><rect x="594.30" width="2.44" height="17.82" fill="#69cd5b"/><rect x="596.44" width="4.58" height="17.82" fill="#75d054"/><rect x="600.72" width="2.44" height="17.82" fill="#6ece58"/><rect x="602.86" width="2.44" height="17.82" fill="#69cd5b"/>
</g>
<g transform="translate(0,191.70)">
<rect x="70.00" width="2.44" height="17.82" fill="#481c6e"/><rect x="72.14" width="2.44" height="17.82" fill="#481769"/><rect x="74.28" width="2.44" height="17.82" fill="#471365"/><rect x="76.42" width="2.44" height="17.82" fill="#471063"/><rect x="78.56" width="2.44" height="17.82" fill="#471164"/><rect x="80.70" width="2.44" height="17.82" fill="#471365"/><rect x="82.84" width="2.44" height="17.82" fill="#481467"/><rect x="84.98" width="2.44" height="17.82" fill="#481668"/><rect x="87.12" width="2.44" height="17.82" fill="#481769"/><rect x="89.26" width="2.44" height="17.82" fill="#48186a"/><rect x="91.40" width="4.58" height="17.82" fill="#481a6c"/><rect x="95.68" width="2.44" height="17.82" fill="#481b6d"/><rect x="97.82" width="2.44" height="17.82" fill="#481c6e"/><rect x="99.96" width="8.86" height="17.82" fill="#481d6f"/><rect x="108.52" width="4.58" height="17.82" fill="#482071"/><rect x="112.80" width="4.58" height="17.82" fill="#482173"/><rect x="117.08" width="2.44" height="17.82" fill="#482374"/><rect x="119.22" width="2.44" height="17.82" fill="#482475"/><rect x="121.36" width="2.44" height="17.82" fill="#482677"/><rect x="123.50" width="2.44" height="17.82" fill="#482979"/><rect x="125.64" width="2.44" height="17.82" fill="#472a7a"/><rect x="127.78" width="6.72" height="17.82" fill="#472c7a"/><rect x="134.20" width="4.58" height="17.82" fill="#472a7a"/><rect x="138.48" width="2.44" height="17.82" fill="#482979"/><rect x="140.62" width="13.14" height="17.82" fill="#482878"/><rect x="153.46" width="2.44" height="17.82" fill="#482979"/><rect x="155.60" width="2.44" height="17.82" fill="#472a7a"/><rect x="157.74" width="4.58" height="17.82" fill="#482979"/><rect x="162.02" width="6.72" height="17.82" fill="#472a7a"/><rect x="168.44" width="2.44" height="17.82" fill="#472c7a"/><rect x="170.58" width="2.44" height="17.82" fill="#472d7b"/><rect x="172.72" width="8.86" height="17.82" fill="#472e7c"/><rect x="181.28" width="6.72" height="17.82" fill="#472f7d"/><rect x="187.70" width="2.44" height="17.82" fill="#46307e"/><rect x="189.84" width="2.44" height="17.82" fill="#46327e"/><rect x="191.98" width="4.58" height="17.82" fill="#46337f"/><rect x="196.26" width="2.44" height="17.82" fill="#46327e"/><rect x="198.40" width="2.44" height="17.82" fill="#463480"/><rect x="200.54" width="4.58" height="17.82" fill="#453581"/><rect x="204.82" width="2.44" height="17.82" fill="#453882"/><rect x="206.96" width="2.44" height="17.82" fill="#443983"/><rect x="209.10" width="4.58" height="17.82" fill="#443b84"/><rect x="213.38" width="2.44" height="17.82" fill="#433e85"/><rect x="215.52" width="2.44" height="17.82" fill="#423f85"/><rect x="217.66" width="2.44" height="17.82" fill="#424186"/><rect x="219.80" width="4.58" height="17.82" fill="#414487"/><rect x="224.08" width="2.44" height="17.82" fill="#404688"/><rect x="226.22" width="2.44" height="17.82" fill="#3f4788"/><rect x="228.36" width="2.44" height="17.82" fill="#3f4889"/><rect x="230.50" width="2.44" height="17.82" fill="#3e4989"/><rect x="232.64" width="2.44" height="17.82" fill="#3e4c8a"/><rect x="234.78" width="2.44" height="17.82" fill="#3d4d8a"/><rect x="236.92" width="2.44" height="17.82" fill="#3d4e8a"/><rect x="239.06" width="4.58" height="17.82" fill="#3c508b"/><rect x="243.34" width="2.44" height="17.82" fill="#3b528b"/><rect x="245.48" width="2.44" height="17.82" fill="#3a538b"/><rect x="247.62" width="2.44" height="17.82" fill="#3a548c"/><rect x="249.76" width="2.44" height="17.82" fill="#38588c"/><rect x="251.90" width="2.44" height="17.82" fill="#38598c"/><rect x="254.04" width="2.44" height="17.82" fill="#375a8c"/><rect x="256.18" width="2.44" height="17.82" fill="#365c8d"/><rect x="258.32" width="2.44" height="17.82" fill="#365d8d"/><rect x="260.46" width="2.44" height="17.82" fill="#365c8d"/><rect x="262.60" width="2.44" height="17.82" fill="#355e8d"/><rect x="264.74" width="2.44" height="17.82" fill="#34618d"/><rect x="266.88" width="2.44" height="17.82" fill="#33628d"/><rect x="269.02" width="2.44" height="17.82" fill="#32658e"/><rect x="271.16" width="2.44" height="17.82" fill="#31668e"/><rect x="273.30" width="2.44" height="17.82" fill="#32658e"/><rect x="275.44" width="2.44" height="17.82" fill="#31668e"/><rect x="277.58" width="2.44" height="17.82" fill="#31688e"/><rect x="279.72" width="4.58" height="17.82" fill="#30698e"/><rect x="284.00" width="2.44" height="17.82" fill="#2f6b8e"/><rect x="286.14" width="2.44" height="17.82" fill="#2e6d8e"/><rect x="288.28" width="2.44" height="17.82" fill="#2f6c8e"/><rect x="290.42" width="2.44" height="17.82" fill="#2e6d8e"/><rect x="292.56" width="4.58" height="17.82" fill="#2e6f8e"/><rect x="296.84" width="4.58" height="17.82" fill="#2d718e"/><rect x="301.12" width="2.44" height="17.82" fill="#2c728e"/><rect x="303.26" width="2.44" height="17.82" fill="#2b748e"/><rect x="305.40" width="4.58" height="17.82" fill="#2c738e"/><rect x="309.68" width="2.44" height="17.82" fill="#2b748e"/><rect x="311.82" width="2.44" height="17.82" fill="#2c738e"/><rect x="313.96" width="2.44" height="17.82" fill="#2c728e"/><rect x="316.10" width="4.58" height="17.82" fill="#2a768e"/><rect x="320.38" width="6.72" height="17.82" fill="#29798e"/><rect x="326.80" width="2.44" height="17.82" fill="#297b8e"/><rect x="328.94" width="2.44" height="17.82" fill="#287d8e"/><rect x="331.08" width="2.44" height="17.82" fill="#277f8e"/><rect x="333.22" width="2.44" height="17.82" fill="#287c8e"/><rect x="335.36" width="2.44" height="17.82" fill="#277f8e"/><rect x="337.50" width="2.44" height="17.82" fill="#25838e"/><rect x="339.64" width="2.44" height="17.82" fill="#26828e"/><rect x="341.78" width="2.44" height="17.82" fill="#26818e"/><rect x="343.92" width="2.44" height="17.82" fill="#26828e"/><rect x="346.06" width="2.44" height="17.82" fill="#27808e"/><rect x="348.20" width="2.44" height="17.82" fill="#26828e"/><rect x="350.34" width="2.44" height="17.82" fill="#25858e"/><rect x="352.48" width="6.72" height="17.82" fill="#25848e"/><rect x="358.90" width="2.44" height="17.82" fill="#25858e"/><rect x="361.04" width="2.44" height="17.82" fill="#23898e"/><rect x="363.18" width="4.58" height="17.82" fill="#228b8d"/><rect x="367.46" width="2.44" height="17.82" fill="#228c8d"/><rect x="369.60" width="4.58" height="17.82" fill="#23898e"/><rect x="373.88" width="4.58" height="17.82" fill="#228b8d"/><rect x="378.16" width="2.44" height="17.82" fill="#228c8d"/><rect x="380.30" width="6.72" height="17.82" fill="#218e8d"/><rect x="386.72" width="2.44" height="17.82" fill="#20938c"/><rect x="388.86" width="2.44" height="17.82" fill="#1f958b"/><rect x="391.00" width="2.44" height="17.82" fill="#218f8d"/><rect x="393.14" width="2.44" height="17.82" fill="#21918c"/><rect x="395.28" width="2.44" height="17.82" fill="#1f968b"/><rect x="397.42" width="2.44" height="17.82" fill="#1f948c"/><rect x="399.56" width="2.44" height="17.82" fill="#20938c"/><rect x="401.70" width="2.44" height="17.82" fill="#1f958b"/><rect x="403.84" width="2.44" height="17.82" fill="#20928c"/><rect x="405.98" width="2.44" height="17.82" fill="#1f978b"/><rect x="408.12" width="4.58" height="17.82" fill="#1e9b8a"/><rect x="412.40" width="2.44" height="17.82" fill="#1f998a"/><rect x="414.54" width="2.44" height="17.82" fill="#1e9c89"/><rect x="416.68" width="2.44" height="17.82" fill="#1e9d89"/><rect x="418.82" width="4.58" height="17.82" fill="#1e9c89"/><rect x="423.10" width="2.44" height="17.82" fill="#1f9a8a"/><rect x="425.24" width="2.44" height="17.82" fill="#1fa187"/><rect x="427.38" width="2.44" height="17.82" fill="#21a585"/><rect x="429.52" width="8.86" height="17.82" fill="#1fa287"/><rect x="438.08" width="2.44" height="17.82" fill="#20a486"/><rect x="440.22" width="4.58" height="17.82" fill="#22a785"/><rect x="444.50" width="2.44" height="17.82" fill="#23a983"/><rect x="446.64" width="2.44" height="17.82" fill="#26ad81"/><rect x="448.78" width="2.44" height="17.82" fill="#27ad81"/><rect x="450.92" width="2.44" height="17.82" fill="#26ad81"/><rect x="453.06" width="2.44" height="17.82" fill="#25ac82"/><rect x="455.20" width="2.44" height="17.82" fill="#22a785"/><rect x="457.34" width="2.44" height="17.82" fill="#24aa83"/><rect x="459.48" width="2.44" height="17.82" fill="#2ab07f"/><rect x="461.62" width="8.86" height="17.82" fill="#28ae80"/><rect x="470.18" width="2.44" height="17.82" fill="#2ab07f"/><rect x="472.32" width="2.44" height="17.82" fill="#28ae80"/><rect x="474.46" width="4.58" height="17.82" fill="#2eb37c"/><rect x="478.74" width="2.44" height="17.82" fill="#29af7f"/><rect x="480.88" width="2.44" height="17.82" fill="#2eb37c"/><rect x="483.02" width="2.44" height="17.82" fill="#31b57b"/><rect x="485.16" width="2.44" height="17.82" fill="#35b779"/><rect x="487.30" width="2.44" height="17.82" fill="#37b878"/><rect x="489.44" width="2.44" height="17.82" fill="#2fb47c"/><rect x="491.58" width="2.44" height="17.82" fill="#29af7f"/><rect x="493.72" width="2.44" height="17.82" fill="#32b67a"/><rect x="495.86" width="2.44" height="17.82" fill="#37b878"/><rect x="498.00" width="2.44" height="17.82" fill="#35b779"/><rect x="500.14" width="2.44" height="17.82" fill="#3fbc73"/><rect x="502.28" width="2.44" height="17.82" fill="#3aba76"/><rect x="504.42" width="2.44" height="17.82" fill="#2db27d"/><rect x="506.56" width="2.44" height="17.82" fill="#37b878"/><rect x="508.70" width="2.44" height="17.82" fill="#42be71"/><rect x="510.84" width="2.44" height="17.82" fill="#3fbc73"/><rect x="512.98" width="2.44" height="17.82" fill="#40bd72"/><rect x="515.12" width="2.44" height="17.82" fill="#3dbc74"/><rect x="517.26" width="2.44" height="17.82" fill="#38b977"/><rect x="519.40" width="2.44" height="17.82" fill="#3dbc74"/><rect x="521.54" width="2.44" height="17.82" fill="#40bd72"/><rect x="523.68" width="2.44" height="17.82" fill="#38b977"/><rect x="525.82" width="2.44" height="17.82" fill="#40bd72"/><rect x="527.96" width="2.44" height="17.82" fill="#4ec36b"/><rect x="530.10" width="2.44" height="17.82" fill="#4cc26c"/><rect x="532.24" width="2.44" height="17.82" fill="#44bf70"/><rect x="534.38" width="2.44" height="17.82" fill="#40bd72"/><rect x="536.52" width="2.44" height="17.82" fill="#46c06f"/><rect x="538.66" width="2.44" height="17.82" fill="#4cc26c"/><rect x="540.80" width="2.44" height="17.82" fill="#56c667"/><rect x="542.94" width="2.44" height="17.82" fill="#5ac864"/><rect x="545.08" width="2.44" height="17.82" fill="#5ec962"/><rect x="547.22" width="2.44" height="17.82" fill="#63cb5f"/><rect x="549.36" width="2.44" height="17.82" fill="#6ccd5a"/><rect x="551.50" width="2.44" height="17.82" fill="#60ca60"/><rect x="553.64" width="2.44" height="17.82" fill="#5cc863"/><rect x="555.78" width="2.44" height="17.82" fill="#6ccd5a"/><rect x="557.92" width="2.44" height="17.82" fill="#67cc5c"/><rect x="560.06" width="4.58" height="17.82" fill="#5ec962"/><rect x="564.34" width="2.44" height="17.82" fill="#6ccd5a"/><rect x="566.48" width="2.44" height="17.82" fill="#70cf57"/><rect x="568.62" width="2.44" height="17.82" fill="#69cd5b"/><rect x="570.76" width="2.44" height="17.82" fill="#65cb5e"/><rect x="572.90" width="2.44" height="17.82" fill="#70cf57"/><rect x="575.04" width="2.44" height="17.82" fill="#75d054"/><rect x="577.18" width="2.44" height="17.82" fill="#5ec962"/><rect x="579.32" width="2.44" height="17.82" fill="#5ac864"/><rect x="581.46" width="2.44" height="17.82" fill="#58c765"/><rect x="583.60" width="2.44" height="17.82" fill="#48c16e"/><rect x="585.74" width="2.44" height="17.82" fill="#58c765"/><rect x="587.88" width="4.58" height="17.82" fill="#75d054"/><rect x="592.16" width="2.44" height="17.82" fill="#6ccd5a"/><rect x="594.30" width="2.44" height="17.82" fill="#69cd5b"/><rect x="596.44" width="4.58" height="17.82" fill="#75d054"/><rect x="600.72" width="2.44" height="17.82" fill="#6ece58"/><rect x="602.86" width="2.44" height="17.82" fill="#69cd5b"/>
</g>
<g transform="translate(0,174.18)">
<rect x="70.00" width="2.44" height="17.82" fill="#481c6e"/><rect x="72.14" width="2.44" height="17.82" fill="#481769"/><rect x="74.28" width="2.44" height="17.82" fill="#471164"/><rect x="76.42" width="4.58" height="17.82" fill="#470e61"/><rect x="80.70" width="2.44" height="17.82" fill="#471063"/><rect x="82.84" width="2.44" height="17.82" fill="#471164"/><rect x="84.98" width="2.44" height="17.82" fill="#471365"/><rect x="87.12" width="2.44" height="17.82" fill="#481467"/><rect x="89.26" width="2.44" height="17.82" fill="#481668"/><rect x="91.40" width="2.44" height="17.82" fill="#481769"/><rect x="93.54" width="4.58" height="17.82" fill="#48186a"/><rect x="97.82" width="2.44" height="17.82" fill="#481a6c"/><rect x="99.96" width="6.72" height="17.82" fill="#481b6d"/><rect x="106.38" width="2.44" height="17.82" fill="#481c6e"/><rect x="108.52" width="2.44" height="17.82" fill="#481d6f"/><rect x="110.66" width="6.72" height="17.82" fill="#481f70"/><rect x="117.08" width="2.44" height="17.82" fill="#482071"/><rect x="119.22" width="2.44" height="17.82" fill="#482374"/><rect x="121.36" width="2.44" height="17.82" fill="#482576"/><rect x="123.50" width="2.44" height="17.82" fill="#482878"/><rect x="125.64" width="2.44" height="17.82" fill="#472a7a"/><rect x="127.78" width="2.44" height="17.82" fill="#472d7b"/><rect x="129.92" width="2.44" height="17.82" fill="#472c7a"/><rect x="132.06" width="6.72" height="17.82" fill="#472a7a"/><rect x="138.48" width="2.44" height="17.82" fill="#482979"/><rect x="140.62" width="13.14" height="17.82" fill="#482878"/><rect x="153.46" width="8.86" height="17.82" fill="#482979"/><rect x="162.02" width="4.58" height="17.82" fill="#472a7a"/><rect x="166.30" width="6.72" height="17.82" fill="#472c7a"/><rect x="172.72" width="2.44" height="17.82" fill="#472d7b"/><rect x="174.86" width="6.72" height="17.82" fill="#472e7c"/><rect x="181.28" width="4.58" height="17.82" fill="#472f7d"/><rect x="185.56" width="2.44" height="17.82" fill="#46307e"/><rect x="187.70" width="2.44" height="17.82" fill="#46327e"/><rect x="189.84" width="2.44" height="17.82" fill="#46337f"/><rect x="191.98" width="6.72" height="17.82" fill="#463480"/><rect x="198.40" width="2.44" height="17.82" fill="#453581"/><rect x="200.54" width="2.44" height="17.82" fill="#453781"/><rect x="202.68" width="2.44" height="17.82" fill="#453882"/><rect x="204.82" width="2.44" height="17.82" fill="#443a83"/><rect x="206.96" width="2.44" height="17.82" fill="#433d84"/><rect x="209.10" width="2.44" height="17.82" fill="#423f85"/><rect x="211.24" width="2.44" height="17.82" fill="#424186"/><rect x="213.38" width="2.44" height="17.82" fill="#414487"/><rect x="215.52" width="2.44" height="17.82" fill="#404588"/><rect x="217.66" width="2.44" height="17.82" fill="#3f4889"/><rect x="219.80" width="2.44" height="17.82" fill="#3e4c8a"/><rect x="221.94" width="2.44" height="17.82" fill="#3d4d8a"/><rect x="224.08" width="2.44" height="17.82" fill="#3c4f8a"/><rect x="226.22" width="2.44" height="17.82" fill="#3b518b"/><rect x="228.36" width="2.44" height="17.82" fill="#3a538b"/><rect x="230.50" width="2.44" height="17.82" fill="#3a548c"/><rect x="232.64" width="2.44" height="17.82" fill="#39568c"/><rect x="234.78" width="2.44" height="17.82" fill="#375a8c"/><rect x="236.92" width="2.44" height="17.82" fill="#365c8d"/><rect x="239.06" width="4.58" height="17.82" fill="#355f8d"/><rect x="243.34" width="2.44" height="17.82" fill="#34608d"/><rect x="245.48" width="2.44" height="17.82" fill="#33628d"/><rect x="247.62" width="2.44" height="17.82" fill="#32648e"/><rect x="249.76" width="2.44" height="17.82" fill="#31668e"/><rect x="251.90" width="6.72" height="17.82" fill="#31688e"/><rect x="258.32" width="2.44" height="17.82" fill="#306a8e"/><rect x="260.46" width="2.44" height="17.82" fill="#30698e"/><rect x="262.60" width="2.44" height="17.82" fill="#2f6c8e"/><rect x="264.74" width="2.44" height="17.82" fill="#2e6f8e"/><rect x="266.88" width="2.44" height="17.82" fill="#2d708e"/><rect x="269.02" width="4.58" height="17.82" fill="#2c738e"/><rect x="273.30" width="2.44" height="17.82" fill="#2c718e"/><rect x="275.44" width="2.44" height="17.82" fill="#2c738e"/><rect x="277.58" width="2.44" height="17.82" fill="#2b758e"/><rect x="279.72" width="4.58" height="17.82" fill="#2a768e"/><rect x="284.00" width="2.44" height="17.82" fill="#2a788e"/><rect x="286.14" width="6.72" height="17.82" fill="#29798e"/><rect x="292.56" width="2.44" height="17.82" fill="#297b8e"/><rect x="294.70" width="2.44" height="17.82" fill="#297a8e"/><rect x="296.84" width="4.58" height="17.82" fill="#297b8e"/><rect x="301.12" width="2.44" height="17.82" fill="#287d8e"/><rect x="303.26" width="2.44" height="17.82" fill="#27808e"/><rect x="305.40" width="2.44" height="17.82" fill="#277f8e"/><rect x="307.54" width="2.44" height="17.82" fill="#277e8e"/><rect x="309.68" width="2.44" height="17.82" fill="#277f8e"/><rect x="311.82" width="4.58" height="17.82" fill="#277e8e"/><rect x="316.10" width="2.44" height="17.82" fill="#26828e"/><rect x="318.24" width="2.44" height="17.82" fill="#26818e"/><rect x="320.38" width="2.44" height="17.82" fill="#26828e"/><rect x="322.52" width="4.58" height="17.82" fill="#25838e"/><rect x="326.80" width="2.44" height="17.82" fill="#25848e"/><rect x="328.94" width="2.44" height="17.82" fill="#24868e"/><rect x="331.08" width="2.44" height="17.82" fill="#23898e"/><rect x="333.22" width="2.44" height="17.82" fill="#24868e"/><rect x="335.36" width="2.44" height="17.82" fill="#23898e"/><rect x="337.50" width="2.44" height="17.82" fill="#21908d"/><rect x="339.64" width="2.44" height="17.82" fill="#218f8d"/><rect x="341.78" width="2.44" height="17.82" fill="#218e8d"/><rect x="343.92" width="2.44" height="17.82" fill="#228d8d"/><rect x="346.06" width="2.44" height="17.82" fill="#228c8d"/><rect x="348.20" width="2.44" height="17.82" fill="#21918c"/><rect x="350.34" width="8.86" height="17.82" fill="#20928c"/><rect x="358.90" width="2.44" height="17.82" fill="#1f948c"/><rect x="361.04" width="2.44" height="17.82" fill="#1f998a"/><rect x="363.18" width="2.44" height="17.82" fill="#1f9e89"/><rect x="365.32" width="2.44" height="17.82" fill="#1fa088"/><rect x="367.46" width="2.44" height="17.82" fill="#1fa188"/><rect x="369.60" width="2.44" height="17.82" fill="#1f9f88"/><rect x="371.74" width="2.44" height="17.82" fill="#1fa088"/><rect x="373.88" width="2.44" height="17.82" fill="#1fa188"/><rect x="376.02" width="2.44" height="17.82" fill="#1fa287"/><rect x="378.16" width="4.58" height="17.82" fill="#21a585"/><rect x="382.44" width="2.44" height="17.82" fill="#1fa287"/><rect x="384.58" width="2.44" height="17.82" fill="#20a386"/><rect x="386.72" width="2.44" height="17.82" fill="#25ac82"/><rect x="388.86" width="2.44" height="17.82" fill="#28ae80"/><rect x="391.00" width="2.44" height="17.82" fill="#25ab82"/><rect x="393.14" width="2.44" height="17.82" fill="#2ab07f"/><rect x="395.28" width="2.44" height="17.82" fill="#35b779"/><rect x="397.42" width="2.44" height="17.82" fill="#2fb47c"/><rect x="399.56" width="2.44" height="17.82" fill="#2ab07f"/><rect x="401.70" width="2.44" height="17.82" fill="#31b57b"/><rect x="403.84" width="2.44" height="17.82" fill="#2fb47c"/><rect x="405.98" width="2.44" height="17.82" fill="#35b779"/><rect x="408.12" width="2.44" height="17.82" fill="#3fbc73"/><rect x="410.26" width="2.44" height="17.82" fill="#3bbb75"/><rect x="412.40" width="2.44" height="17.82" fill="#3dbc74"/><rect x="414.54" width="2.44" height="17.82" fill="#44bf70"/><rect x="416.68" width="2.44" height="17.82" fill="#48c16e"/><rect x="418.82" width="4.58" height="17.82" fill="#4cc26c"/><rect x="423.10" width="2.44" height="17.82" fill="#48c16e"/><rect x="425.24" width="2.44" height="17.82" fill="#58c765"/><rect x="427.38" width="2.44" height="17.82" fill="#60ca60"/><rect x="429.52" width="2.44" height="17.82" fill="#5ec962"/><rect x="431.66" width="2.44" height="17.82" fill="#65cb5e"/><rect x="433.80" width="2.44" height="17.82" fill="#63cb5f"/><rect x="435.94" width="2.44" height="17.82" fill="#67cc5c"/><rect x="438.08" width="2.44" height="17.82" fill="#73d056"/><rect x="440.22" width="2.44" height="17.82" fill="#7ad151"/><rect x="442.36" width="2.44" height="17.82" fill="#75d054"/><rect x="444.50" width="2.44" height="17.82" fill="#77d153"/><rect x="446.64" width="2.44" height="17.82" fill="#84d44b"/><rect x="448.78" width="2.44" height="17.82" fill="#89d548"/><rect x="450.92" width="2.44" height="17.82" fill="#86d549"/><rect x="453.06" width="2.44" height="17.82" fill="#81d34d"/><rect x="455.20" width="2.44" height="17.82" fill="#7cd250"/><rect x="457.34" width="2.44" height="17.82" fill="#8bd646"/><rect x="459.48" width="2.44" height="17.82" fill="#9bd93c"/><rect x="461.62" width="2.44" height="17.82" fill="#95d840"/><rect x="463.76" width="2.44" height="17.82" fill="#9bd93c"/><rect x="465.90" width="2.44" height="17.82" fill="#a2da37"/><rect x="468.04" width="2.44" height="17.82" fill="#a5db36"/><rect x="470.18" width="2.44" height="17.82" fill="#addc30"/><rect x="472.32" width="2.44" height="17.82" fill="#a8db34"/><rect x="474.46" width="2.44" height="17.82" fill="#aadc32"/><rect x="476.60" width="2.44" height="17.82" fill="#a5db36"/><rect x="478.74" width="2.44" height="17.82" fill="#9dd93b"/><rect x="480.88" width="4.58" height="17.82" fill="#a8db34"/><rect x="485.16" width="2.44" height="17.82" fill="#b2dd2d"/><rect x="487.30" width="2.44" height="17.82" fill="#c0df25"/><rect x="489.44" width="2.44" height="17.82" fill="#addc30"/><rect x="491.58" width="2.44" height="17.82" fill="#8ed645"/><rect x="493.72" width="2.44" height="17.82" fill="#a2da37"/><rect x="495.86" width="2.44" height="17.82" fill="#addc30"/><rect x="498.00" width="2.44" height="17.82" fill="#b2dd2d"/><rect x="500.14" width="2.44" height="17.82" fill="#d5e21a"/><rect x="502.28" width="2.44" height="17.82" fill="#cde11d"/><rect x="504.42" width="2.44" height="17.82" fill="#b2dd2d"/><rect x="506.56" width="2.44" height="17.82" fill="#c2df23"/><rect x="508.70" width="2.44" height="17.82" fill="#d8e219"/><rect x="510.84" width="2.44" height="17.82" fill="#d2e21b"/><rect x="512.98" width="2.44" height="17.82" fill="#cde11d"/><rect x="515.12" width="2.44" height="17.82" fill="#cae11f"/><rect x="517.26" width="2.44" height="17.82" fill="#c0df25"/><rect x="519.40" width="2.44" height="17.82" fill="#c8e020"/><rect x="521.54" width="2.44" height="17.82" fill="#cde11d"/><rect x="523.68" width="2.44" height="17.82" fill="#c2df23"/><rect x="525.82" width="2.44" height="17.82" fill="#d0e11c"/><rect x="527.96" width="2.44" height="17.82" fill="#dfe318"/><rect x="530.10" width="2.44" height="17.82" fill="#e5e419"/><rect x="532.24" width="2.44" height="17.82" fill="#dde318"/><rect x="534.38" width="2.44" height="17.82" fill="#cde11d"/><rect x="536.52" width="2.44" height="17.82" fill="#d0e11c"/><rect x="538.66" width="2.44" height="17.82" fill="#dfe318"/><rect x="540.80" width="64.50" height="17.82" fill="#fde725"/>
</g>
<g transform="translate(0,156.67)">
<rect x="70.00" width="2.44" height="17.82" fill="#481c6e"/><rect x="72.14" width="2.44" height="17.82" fill="#481668"/><rect x="74.28" width="2.44" height="17.82" fill="#470e61"/><rect x="76.42" width="4.58" height="17.82" fill="#460b5e"/><rect x="80.70" width="2.44" height="17.82" fill="#470d60"/><rect x="82.84" width="2.44" height="17.82" fill="#470e61"/><rect x="84.98" width="2.44" height="17.82" fill="#471063"/><rect x="87.12" width="2.44" height="17.82" fill="#471164"/><rect x="89.26" width="2.44" height="17.82" fill="#471365"/><rect x="91.40" width="2.44" height="17.82" fill="#481467"/><rect x="93.54" width="2.44" height="17.82" fill="#481668"/><rect x="95.68" width="2.44" height="17.82" fill="#481769"/><rect x="97.82" width="2.44" height="17.82" fill="#48186a"/><rect x="99.96" width="6.72" height="17.82" fill="#481a6c"/><rect x="106.38" width="2.44" height="17.82" fill="#481b6d"/><rect x="108.52" width="2.44" height="17.82" fill="#481c6e"/><rect x="110.66" width="2.44" height="17.82" fill="#481d6f"/><rect x="112.80" width="4.58" height="17.82" fill="#481f70"/><rect x="117.08" width="2.44" height="17.82" fill="#482071"/><rect x="119.22" width="2.44" height="17.82" fill="#482173"/><rect x="121.36" width="2.44" height="17.82" fill="#482576"/><rect x="123.50" width="2.44" height="17.82" fill="#482979"/><rect x="125.64" width="2.44" height="17.82" fill="#472a7a"/><rect x="127.78" width="6.72" height="17.82" fill="#472c7a"/><rect x="134.20" width="4.58" height="17.82" fill="#472a7a"/><rect x="138.48" width="2.44" height="17.82" fill="#482979"/><rect x="140.62" width="2.44" height="17.82" fill="#482878"/><rect x="142.76" width="2.44" height="17.82" fill="#482979"/><rect x="144.90" width="4.58" height="17.82" fill="#482878"/><rect x="149.18" width="4.58" height="17.82" fill="#482979"/><rect x="153.46" width="2.44" height="17.82" fill="#472a7a"/><rect x="155.60" width="2.44" height="17.82" fill="#472c7a"/><rect x="157.74" width="4.58" height="17.82" fill="#472a7a"/><rect x="162.02" width="6.72" height="17.82" fill="#472d7b"/><rect x="168.44" width="4.58" height="17.82" fill="#472e7c"/><rect x="172.72" width="4.58" height="17.82" fill="#472f7d"/><rect x="177.00" width="4.58" height="17.82" fill="#46307e"/><rect x="181.28" width="4.58" height="17.82" fill="#46327e"/><rect x="185.56" width="2.44" height="17.82" fill="#46337f"/><rect x="187.70" width="2.44" height="17.82" fill="#463480"/><rect x="189.84" width="2.44" height="17.82" fill="#453581"/><rect x="191.98" width="2.44" height="17.82" fill="#453781"/><rect x="194.12" width="4.58" height="17.82" fill="#453882"/><rect x="198.40" width="2.44" height="17.82" fill="#443a83"/><rect x="200.54" width="2.44" height="17.82" fill="#443b84"/><rect x="202.68" width="2.44" height="17.82" fill="#433d84"/><rect x="204.82" width="2.44" height="17.82" fill="#424086"/><rect x="206.96" width="2.44" height="17.82" fill="#414487"/><rect x="209.10" width="2.44" height="17.82" fill="#404688"/><rect x="211.24" width="2.44" height="17.82" fill="#3f4788"/><rect x="213.38" width="2.44" height="17.82" fill="#3e4989"/><rect x="215.52" width="2.44" height="17.82" fill="#3e4c8a"/><rect x="217.66" width="2.44" height="17.82" fill="#3c4f8a"/><rect x="219.80" width="2.44" height="17.82" fill="#3b518b"/><rect x="221.94" width="2.44" height="17.82" fill="#3b528b"/><rect x="224.08" width="2.44" height="17.82" fill="#3a548c"/><rect x="226.22" width="2.44" height="17.82" fill="#39558c"/><rect x="228.36" width="2.44" height="17.82" fill="#39568c"/><rect x="230.50" width="2.44" height="17.82" fill="#38598c"/><rect x="232.64" width="2.44" height="17.82" fill="#375a8c"/><rect x="234.78" width="2.44" height="17.82" fill="#365d8d"/><rect x="236.92" width="2.44" height="17.82" fill="#34608d"/><rect x="239.06" width="2.44" height="17.82" fill="#33638d"/><rect x="241.20" width="2.44" height="17.82" fill="#32648e"/><rect x="243.34" width="2.44" height="17.82" fill="#31668e"/><rect x="245.48" width="2.44" height="17.82" fill="#30698e"/><rect x="247.62" width="2.44" height="17.82" fill="#2f6c8e"/><rect x="249.76" width="2.44" height="17.82" fill="#2e6f8e"/><rect x="251.90" width="2.44" height="17.82" fill="#2d718e"/><rect x="254.04" width="2.44" height="17.82" fill="#2c728e"/><rect x="256.18" width="2.44" height="17.82" fill="#2b758e"/><rect x="258.32" width="4.58" height="17.82" fill="#2a778e"/><rect x="262.60" width="2.44" height="17.82" fill="#287c8e"/><rect x="264.74" width="2.44" height="17.82" fill="#277e8e"/><rect x="266.88" width="2.44" height="17.82" fill="#27808e"/><rect x="269.02" width="4.58" height="17.82" fill="#25838e"/><rect x="273.30" width="2.44" height="17.82" fill="#26828e"/><rect x="275.44" width="2.44" height="17.82" fill="#25858e"/><rect x="277.58" width="2.44" height="17.82" fill="#24868e"/><rect x="279.72" width="2.44" height="17.82" fill="#23888e"/><rect x="281.86" width="2.44" height="17.82" fill="#23898e"/><rect x="284.00" width="2.44" height="17.82" fill="#228c8d"/><rect x="286.14" width="4.58" height="17.82" fill="#218f8d"/><rect x="290.42" width="2.44" height="17.82" fill="#218e8d"/><rect x="292.56" width="2.44" height="17.82" fill="#218f8d"/><rect x="294.70" width="2.44" height="17.82" fill="#21908d"/><rect x="296.84" width="2.44" height="17.82" fill="#20928c"/><rect x="298.98" width="2.44" height="17.82" fill="#20938c"/><rect x="301.12" width="2.44" height="17.82" fill="#1f958b"/><rect x="303.26" width="4.58" height="17.82" fill="#1f998a"/><rect x="307.54" width="2.44" height="17.82" fill="#1f9a8a"/><rect x="309.68" width="6.72" height="17.82" fill="#1e9c89"/><rect x="316.10" width="2.44" height="17.82" fill="#1fa188"/><rect x="318.24" width="2.44" height="17.82" fill="#1fa088"/><rect x="320.38" width="2.44" height="17.82" fill="#1fa187"/><rect x="322.52" width="2.44" height="17.82" fill="#20a386"/><rect x="324.66" width="2.44" height="17.82" fill="#21a585"/><rect x="326.80" width="2.44" height="17.82" fill="#23a983"/><rect x="328.94" width="2.44" height="17.82" fill="#24aa83"/><rect x="331.08" width="2.44" height="17.82" fill="#26ad81"/><rect x="333.22" width="2.44" height="17.82" fill="#25ac82"/><rect x="335.36" width="2.44" height="17.82" fill="#29af7f"/><rect x="337.50" width="2.44" height="17.82" fill="#31b57b"/><rect x="339.64" width="2.44" height="17.82" fill="#2eb37c"/><rect x="341.78" width="2.44" height="17.82" fill="#2db27d"/><rect x="343.92" width="2.44" height="17.82" fill="#2fb47c"/><rect x="346.06" width="2.44" height="17.82" fill="#2eb37c"/><rect x="348.20" width="2.44" height="17.82" fill="#35b779"/><rect x="350.34" width="2.44" height="17.82" fill="#38b977"/><rect x="352.48" width="2.44" height="17.82" fill="#37b878"/><rect x="354.62" width="2.44" height="17.82" fill="#3dbc74"/><rect x="356.76" width="4.58" height="17.82" fill="#3fbc73"/><rect x="361.04" width="2.44" height="17.82" fill="#4ac16d"/><rect x="363.18" width="4.58" height="17.82" fill="#52c569"/><rect x="367.46" width="2.44" height="17.82" fill="#54c568"/><rect x="369.60" width="2.44" height="17.82" fill="#52c569"/><rect x="371.74" width="2.44" height="17.82" fill="#54c568"/><rect x="373.88" width="2.44" height="17.82" fill="#50c46a"/><rect x="376.02" width="2.44" height="17.82" fill="#5ac864"/><rect x="378.16" width="2.44" height="17.82" fill="#63cb5f"/><rect x="380.30" width="2.44" height="17.82" fill="#5ec962"/><rect x="382.44" width="2.44" height="17.82" fill="#5ac864"/><rect x="384.58" width="2.44" height="17.82" fill="#5cc863"/><rect x="386.72" width="2.44" height="17.82" fill="#73d056"/><rect x="388.86" width="2.44" height="17.82" fill="#70cf57"/><rect x="391.00" width="2.44" height="17.82" fill="#63cb5f"/><rect x="393.14" width="2.44" height="17.82" fill="#6ccd5a"/><rect x="395.28" width="2.44" height="17.82" fill="#7cd250"/><rect x="397.42" width="2.44" height="17.82" fill="#7ad151"/><rect x="399.56" width="2.44" height="17.82" fill="#6ccd5a"/><rect x="401.70" width="2.44" height="17.82" fill="#70cf57"/><rect x="403.84" width="2.44" height="17.82" fill="#6ece58"/><rect x="405.98" width="2.44" height="17.82" fill="#77d153"/><rect x="408.12" width="2.44" height="17.82" fill="#81d34d"/><rect x="410.26" width="4.58" height="17.82" fill="#84d44b"/><rect x="414.54" width="2.44" height="17.82" fill="#86d549"/><rect x="416.68" width="2.44" height="17.82" fill="#89d548"/><rect x="418.82" width="2.44" height="17.82" fill="#84d44b"/><rect x="420.96" width="2.44" height="17.82" fill="#7fd34e"/><rect x="423.10" width="2.44" height="17.82" fill="#77d153"/><rect x="425.24" width="2.44" height="17.82" fill="#89d548"/><rect x="427.38" width="2.44" height="17.82" fill="#95d840"/><rect x="429.52" width="2.44" height="17.82" fill="#8ed645"/><rect x="431.66" width="2.44" height="17.82" fill="#93d741"/><rect x="433.80" width="2.44" height="17.82" fill="#90d743"/><rect x="435.94" width="2.44" height="17.82" fill="#8ed645"/><rect x="438.08" width="2.44" height="17.82" fill="#9dd93b"/><rect x="440.22" width="2.44" height="17.82" fill="#a0da39"/><rect x="442.36" width="4.58" height="17.82" fill="#98d83e"/><rect x="446.64" width="2.44" height="17.82" fill="#a0da39"/><rect x="448.78" width="4.58" height="17.82" fill="#a8db34"/><rect x="453.06" width="2.44" height="17.82" fill="#9dd93b"/><rect x="455.20" width="2.44" height="17.82" fill="#8ed645"/><rect x="457.34" width="2.44" height="17.82" fill="#9bd93c"/><rect x="459.48" width="2.44" height="17.82" fill="#a8db34"/><rect x="461.62" width="2.44" height="17.82" fill="#a0da39"/><rect x="463.76" width="2.44" height="17.82" fill="#9dd93b"/><rect x="465.90" width="2.44" height="17.82" fill="#a5db36"/><rect x="468.04" width="2.44" height="17.82" fill="#aadc32"/><rect x="470.18" width="2.44" height="17.82" fill="#addc30"/><rect x="472.32" width="2.44" height="17.82" fill="#a2da37"/><rect x="474.46" width="2.44" height="17.82" fill="#a8db34"/><rect x="476.60" width="2.44" height="17.82" fill="#a2da37"/><rect x="478.74" width="2.44" height="17.82" fill="#9dd93b"/><rect x="480.88" width="2.44" height="17.82" fill="#a8db34"/><rect x="483.02" width="2.44" height="17.82" fill="#aadc32"/><rect x="485.16" width="4.58" height="17.82" fill="#b8de29"/><rect x="489.44" width="2.44" height="17.82" fill="#aadc32"/><rect x="491.58" width="2.44" height="17.82" fill="#95d840"/><rect x="493.72" width="2.44" height="17.82" fill="#a0da39"/><rect x="495.86" width="2.44" height="17.82" fill="#a8db34"/><rect x="498.00" width="2.44" height="17.82" fill="#a2da37"/><rect x="500.14" width="4.58" height="17.82" fill="#addc30"/><rect x="504.42" width="2.44" height="17.82" fill="#95d840"/><rect x="506.56" width="2.44" height="17.82" fill="#a0da39"/><rect x="508.70" width="2.44" height="17.82" fill="#b8de29"/><rect x="510.84" width="2.44" height="17.82" fill="#b5de2b"/><rect x="512.98" width="2.44" height="17.82" fill="#b2dd2d"/><rect x="515.12" width="2.44" height="17.82" fill="#aadc32"/><rect x="517.26" width="2.44" height="17.82" fill="#9bd93c"/><rect x="519.40" width="2.44" height="17.82" fill="#9dd93b"/><rect x="521.54" width="2.44" height="17.82" fill="#a5db36"/><rect x="523.68" width="2.44" height="17.82" fill="#9dd93b"/><rect x="525.82" width="2.44" height="17.82" fill="#addc30"/><rect x="527.96" width="4.58" height="17.82" fill="#b8de29"/><rect x="532.24" width="2.44" height="17.82" fill="#b0dd2f"/><rect x="534.38" width="2.44" height="17.82" fill="#a8db34"/><rect x="536.52" width="2.44" height="17.82" fill="#addc30"/><rect x="538.66" width="2.44" height="17.82" fill="#b0dd2f"/><rect x="540.80" width="2.44" height="17.82" fill="#c2df23"/><rect x="542.94" width="2.44" height="17.82" fill="#cae11f"/><rect x="545.08" width="2.44" height="17.82" fill="#d5e21a"/><rect x="547.22" width="2.44" height="17.82" fill="#e2e418"/><rect x="549.36" width="2.44" height="17.82" fill="#f1e51d"/><rect x="551.50" width="2.44" height="17.82" fill="#e5e419"/><rect x="553.64" width="2.44" height="17.82" fill="#d5e21a"/><rect x="555.78" width="2.44" height="17.82" fill="#dde318"/><rect x="557.92" width="2.44" height="17.82" fill="#dae319"/><rect x="560.06" width="2.44" height="17.82" fill="#d2e21b"/><rect x="562.20" width="2.44" height="17.82" fill="#d0e11c"/><rect x="564.34" width="2.44" height="17.82" fill="#e2e418"/><rect x="566.48" width="2.44" height="17.82" fill="#eae51a"/><rect x="568.62" width="2.44" height="17.82" fill="#e7e419"/><rect x="570.76" width="2.44" height="17.82" fill="#e2e418"/><rect x="572.90" width="2.44" height="17.82" fill="#e7e419"/><rect x="575.04" width="2.44" height="17.82" fill="#eae51a"/><rect x="577.18" width="2.44" height="17.82" fill="#cde11d"/><rect x="579.32" width="2.44" height="17.82" fill="#cae11f"/><rect x="581.46" width="2.44" height="17.82" fill="#cde11d"/><rect x="583.60" width="2.44" height="17.82" fill="#b8de29"/><rect x="585.74" width="2.44" height="17.82" fill="#c8e020"/><rect x="587.88" width="2.44" height="17.82" fill="#ece51b"/><rect x="590.02" width="2.44" height="17.82" fill="#efe51c"/><rect x="592.16" width="2.44" height="17.82" fill="#dde318"/><rect x="594.30" width="2.44" height="17.82" fill="#d0e11c"/><rect x="596.44" width="2.44" height="17.82" fill="#e5e419"/><rect x="598.58" width="2.44" height="17.82" fill="#f4e61e"/><rect x="600.72" width="2.44" height="17.82" fill="#ece51b"/><rect x="602.86" width="2.44" height="17.82" fill="#eae51a"/>
</g>
<g transform="translate(0,139.15)">
<rect x="70.00" width="2.44" height="17.82" fill="#481c6e"/><rect x="72.14" width="2.44" height="17.82" fill="#471164"/><rect x="74.28" width="2.44" height="17.82" fill="#450559"/><rect x="76.42" width="4.58" height="17.82" fill="#440154"/><rect x="80.70" width="4.58" height="17.82" fill="#440256"/><rect x="84.98" width="2.44" height="17.82" fill="#440154"/><rect x="87.12" width="6.72" height="17.82" fill="#440256"/><rect x="93.54" width="2.44" height="17.82" fill="#450457"/><rect x="95.68" width="4.58" height="17.82" fill="#450559"/><rect x="99.96" width="6.72" height="17.82" fill="#46075a"/><rect x="106.38" width="2.44" height="17.82" fill="#46085c"/><rect x="108.52" width="2.44" height="17.82" fill="#460a5d"/><rect x="110.66" width="4.58" height="17.82" fill="#470d60"/><rect x="114.94" width="2.44" height="17.82" fill="#470e61"/><rect x="117.08" width="2.44" height="17.82" fill="#471063"/><rect x="119.22" width="2.44" height="17.82" fill="#471365"/><rect x="121.36" width="2.44" height="17.82" fill="#48186a"/><rect x="123.50" width="2.44" height="17.82" fill="#481d6f"/><rect x="125.64" width="2.44" height="17.82" fill="#482173"/><rect x="127.78" width="4.58" height="17.82" fill="#482576"/><rect x="132.06" width="4.58" height="17.82" fill="#482475"/><rect x="136.34" width="2.44" height="17.82" fill="#482374"/><rect x="138.48" width="2.44" height="17.82" fill="#482071"/><rect x="140.62" width="2.44" height="17.82" fill="#481f70"/><rect x="142.76" width="2.44" height="17.82" fill="#482071"/><rect x="144.90" width="4.58" height="17.82" fill="#481f70"/><rect x="149.18" width="4.58" height="17.82" fill="#482071"/><rect x="153.46" width="2.44" height="17.82" fill="#482374"/><rect x="155.60" width="4.58" height="17.82" fill="#482475"/><rect x="159.88" width="2.44" height="17.82" fill="#482576"/><rect x="162.02" width="2.44" height="17.82" fill="#482677"/><rect x="164.16" width="2.44" height="17.82" fill="#482878"/><rect x="166.30" width="2.44" height="17.82" fill="#482979"/><rect x="168.44" width="2.44" height="17.82" fill="#472a7a"/><rect x="170.58" width="2.44" height="17.82" fill="#472c7a"/><rect x="172.72" width="2.44" height="17.82" fill="#472e7c"/><rect x="174.86" width="4.58" height="17.82" fill="#472f7d"/><rect x="179.14" width="4.58" height="17.82" fill="#46327e"/><rect x="183.42" width="2.44" height="17.82" fill="#46337f"/><rect x="185.56" width="2.44" height="17.82" fill="#463480"/><rect x="187.70" width="2.44" height="17.82" fill="#453581"/><rect x="189.84" width="2.44" height="17.82" fill="#453882"/><rect x="191.98" width="4.58" height="17.82" fill="#443a83"/><rect x="196.26" width="2.44" height="17.82" fill="#443b84"/><rect x="198.40" width="2.44" height="17.82" fill="#423f85"/><rect x="200.54" width="2.44" height="17.82" fill="#424186"/><rect x="202.68" width="2.44" height="17.82" fill="#404588"/><rect x="204.82" width="2.44" height="17.82" fill="#3e4a89"/><rect x="206.96" width="2.44" height="17.82" fill="#3b518b"/><rect x="209.10" width="2.44" height="17.82" fill="#39568c"/><rect x="211.24" width="2.44" height="17.82" fill="#375b8d"/><rect x="213.38" width="2.44" height="17.82" fill="#355e8d"/><rect x="215.52" width="2.44" height="17.82" fill="#33628d"/><rect x="217.66" width="2.44" height="17.82" fill="#31688e"/><rect x="219.80" width="2.44" height="17.82" fill="#2f6c8e"/><rect x="221.94" width="2.44" height="17.82" fill="#2e6f8e"/><rect x="224.08" width="2.44" height="17.82" fill="#2c738e"/><rect x="226.22" width="2.44" height="17.82" fill="#2a788e"/><rect x="228.36" width="2.44" height="17.82" fill="#287c8e"/><rect x="230.50" width="2.44" height="17.82" fill="#277e8e"/><rect x="232.64" width="2.44" height="17.82" fill="#26828e"/><rect x="234.78" width="2.44" height="17.82" fill="#25858e"/><rect x="236.92" width="2.44" height="17.82" fill="#23888e"/><rect x="239.06" width="2.44" height="17.82" fill="#228c8d"/><rect x="241.20" width="2.44" height="17.82" fill="#218e8d"/><rect x="243.34" width="2.44" height="17.82" fill="#21908d"/><rect x="245.48" width="2.44" height="17.82" fill="#21918c"/><rect x="247.62" width="2.44" height="17.82" fill="#20938c"/><rect x="249.76" width="4.58" height="17.82" fill="#1f958b"/><rect x="254.04" width="2.44" height="17.82" fill="#1f948c"/><rect x="256.18" width="2.44" height="17.82" fill="#1f958b"/><rect x="258.32" width="2.44" height="17.82" fill="#1f978b"/><rect x="260.46" width="2.44" height="17.82" fill="#1f968b"/><rect x="262.60" width="2.44" height="17.82" fill="#1f998a"/><rect x="264.74" width="2.44" height="17.82" fill="#1e9b8a"/><rect x="266.88" width="2.44" height="17.82" fill="#1e9d89"/><rect x="269.02" width="4.58" height="17.82" fill="#1fa188"/><rect x="273.30" width="2.44" height="17.82" fill="#1f9f88"/><rect x="275.44" width="2.44" height="17.82" fill="#1fa187"/><rect x="277.58" width="4.58" height="17.82" fill="#20a386"/><rect x="281.86" width="2.44" height="17.82" fill="#1fa287"/><rect x="284.00" width="2.44" height="17.82" fill="#20a386"/><rect x="286.14" width="2.44" height="17.82" fill="#22a785"/><rect x="288.28" width="2.44" height="17.82" fill="#21a585"/><rect x="290.42" width="2.44" height="17.82" fill="#21a685"/><rect x="292.56" width="2.44" height="17.82" fill="#23a983"/><rect x="294.70" width="2.44" height="17.82" fill="#22a884"/><rect x="296.84" width="2.44" height="17.82" fill="#23a983"/><rect x="298.98" width="2.44" height="17.82" fill="#24aa83"/><rect x="301.12" width="2.44" height="17.82" fill="#25ab82"/><rect x="303.26" width="2.44" height="17.82" fill="#26ad81"/><rect x="305.40" width="2.44" height="17.82" fill="#27ad81"/><rect x="307.54" width="4.58" height="17.82" fill="#26ad81"/><rect x="311.82" width="2.44" height="17.82" fill="#25ac82"/><rect x="313.96" width="2.44" height="17.82" fill="#25ab82"/><rect x="316.10" width="2.44" height="17.82" fill="#29af7f"/><rect x="318.24" width="2.44" height="17.82" fill="#28ae80"/><rect x="320.38" width="2.44" height="17.82" fill="#2ab07f"/><rect x="322.52" width="2.44" height="17.82" fill="#2cb17e"/><rect x="324.66" width="2.44" height="17.82" fill="#29af7f"/><rect x="326.80" width="2.44" height="17.82" fill="#2cb17e"/><rect x="328.94" width="2.44" height="17.82" fill="#2fb47c"/><rect x="331.08" width="2.44" height="17.82" fill="#35b779"/><rect x="333.22" width="2.44" height="17.82" fill="#32b67a"/><rect x="335.36" width="2.44" height="17.82" fill="#34b679"/><rect x="337.50" width="2.44" height="17.82" fill="#3bbb75"/><rect x="339.64" width="2.44" height="17.82" fill="#38b977"/><rect x="341.78" width="2.44" height="17.82" fill="#34b679"/><rect x="343.92" width="4.58" height="17.82" fill="#38b977"/><rect x="348.20" width="2.44" height="17.82" fill="#3dbc74"/><rect x="350.34" width="2.44" height="17.82" fill="#42be71"/><rect x="352.48" width="4.58" height="17.82" fill="#3fbc73"/><rect x="356.76" width="2.44" height="17.82" fill="#40bd72"/><rect x="358.90" width="2.44" height="17.82" fill="#44bf70"/><rect x="361.04" width="2.44" height="17.82" fill="#50c46a"/><rect x="363.18" width="2.44" height="17.82" fill="#56c667"/><rect x="365.32" width="2.44" height="17.82" fill="#58c765"/><rect x="367.46" width="2.44" height="17.82" fill="#5cc863"/><rect x="369.60" width="4.58" height="17.82" fill="#5ac864"/><rect x="373.88" width="2.44" height="17.82" fill="#5ec962"/><rect x="376.02" width="2.44" height="17.82" fill="#60ca60"/><rect x="378.16" width="2.44" height="17.82" fill="#63cb5f"/><rect x="380.30" width="2.44" height="17.82" fill="#67cc5c"/><rect x="382.44" width="2.44" height="17.82" fill="#5ec962"/><rect x="384.58" width="2.44" height="17.82" fill="#5cc863"/><rect x="386.72" width="2.44" height="17.82" fill="#73d056"/><rect x="388.86" width="2.44" height="17.82" fill="#7ad151"/><rect x="391.00" width="2.44" height="17.82" fill="#70cf57"/><rect x="393.14" width="2.44" height="17.82" fill="#75d054"/><rect x="395.28" width="2.44" height="17.82" fill="#86d549"/><rect x="397.42" width="2.44" height="17.82" fill="#7ad151"/><rect x="399.56" width="2.44" height="17.82" fill="#70cf57"/><rect x="401.70" width="2.44" height="17.82" fill="#77d153"/><rect x="403.84" width="2.44" height="17.82" fill="#70cf57"/><rect x="405.98" width="2.44" height="17.82" fill="#81d34d"/><rect x="408.12" width="2.44" height="17.82" fill="#93d741"/><rect x="410.26" width="2.44" height="17.82" fill="#90d743"/><rect x="412.40" width="2.44" height="17.82" fill="#8bd646"/><rect x="414.54" width="2.44" height="17.82" fill="#93d741"/><rect x="416.68" width="2.44" height="17.82" fill="#95d840"/><rect x="418.82" width="4.58" height="17.82" fill="#93d741"/><rect x="423.10" width="2.44" height="17.82" fill="#8ed645"/><rect x="425.24" width="2.44" height="17.82" fill="#a5db36"/><rect x="427.38" width="2.44" height="17.82" fill="#a8db34"/><rect x="429.52" width="2.44" height="17.82" fill="#9dd93b"/><rect x="431.66" width="2.44" height="17.82" fill="#a5db36"/><rect x="433.80" width="4.58" height="17.82" fill="#a2da37"/><rect x="438.08" width="2.44" height="17.82" fill="#a8db34"/><rect x="440.22" width="2.44" height="17.82" fill="#a5db36"/><rect x="442.36" width="2.44" height="17.82" fill="#aadc32"/><rect x="444.50" width="2.44" height="17.82" fill="#b5de2b"/><rect x="446.64" width="2.44" height="17.82" fill="#b8de29"/><rect x="448.78" width="2.44" height="17.82" fill="#c0df25"/><rect x="450.92" width="2.44" height="17.82" fill="#bddf26"/><rect x="453.06" width="2.44" height="17.82" fill="#addc30"/><rect x="455.20" width="2.44" height="17.82" fill="#a2da37"/><rect x="457.34" width="2.44" height="17.82" fill="#b2dd2d"/><rect x="459.48" width="2.44" height="17.82" fill="#c2df23"/><rect x="461.62" width="2.44" height="17.82" fill="#bade28"/><rect x="463.76" width="2.44" height="17.82" fill="#b5de2b"/><rect x="465.90" width="2.44" height="17.82" fill="#c2df23"/><rect x="468.04" width="2.44" height="17.82" fill="#c5e021"/><rect x="470.18" width="2.44" height="17.82" fill="#c8e020"/><rect x="472.32" width="2.44" height="17.82" fill="#bddf26"/><rect x="474.46" width="2.44" height="17.82" fill="#c0df25"/><rect x="476.60" width="2.44" height="17.82" fill="#bade28"/><rect x="478.74" width="2.44" height="17.82" fill="#b8de29"/><rect x="480.88" width="2.44" height="17.82" fill="#c5e021"/><rect x="483.02" width="2.44" height="17.82" fill="#c8e020"/><rect x="485.16" width="2.44" height="17.82" fill="#dae319"/><rect x="487.30" width="2.44" height="17.82" fill="#dfe318"/><rect x="489.44" width="2.44" height="17.82" fill="#c5e021"/><rect x="491.58" width="2.44" height="17.82" fill="#a8db34"/><rect x="493.72" width="2.44" height="17.82" fill="#bddf26"/><rect x="495.86" width="4.58" height="17.82" fill="#c5e021"/><rect x="500.14" width="2.44" height="17.82" fill="#dfe318"/><rect x="502.28" width="2.44" height="17.82" fill="#d2e21b"/><rect x="504.42" width="2.44" height="17.82" fill="#b5de2b"/><rect x="506.56" width="2.44" height="17.82" fill="#c8e020"/><rect x="508.70" width="2.44" height="17.82" fill="#e2e418"/><rect x="510.84" width="2.44" height="17.82" fill="#dde318"/><rect x="512.98" width="2.44" height="17.82" fill="#dae319"/><rect x="515.12" width="2.44" height="17.82" fill="#d2e21b"/><rect x="517.26" width="2.44" height="17.82" fill="#d0e11c"/><rect x="519.40" width="2.44" height="17.82" fill="#dae319"/><rect x="521.54" width="2.44" height="17.82" fill="#d8e219"/><rect x="523.68" width="2.44" height="17.82" fill="#cae11f"/><rect x="525.82" width="2.44" height="17.82" fill="#d8e219"/><rect x="527.96" width="2.44" height="17.82" fill="#eae51a"/><rect x="530.10" width="2.44" height="17.82" fill="#ece51b"/><rect x="532.24" width="2.44" height="17.82" fill="#dfe318"/><rect x="534.38" width="2.44" height="17.82" fill="#d2e21b"/><rect x="536.52" width="2.44" height="17.82" fill="#d8e219"/><rect x="538.66" width="2.44" height="17.82" fill="#d5e21a"/><rect x="540.80" width="2.44" height="17.82" fill="#dae319"/><rect x="542.94" width="2.44" height="17.82" fill="#e2e418"/><rect x="545.08" width="2.44" height="17.82" fill="#efe51c"/><rect x="547.22" width="15.28" height="17.82" fill="#fde725"/><rect x="562.20" width="2.44" height="17.82" fill="#fbe723"/><rect x="564.34" width="19.56" height="17.82" fill="#fde725"/><rect x="583.60" width="2.44" height="17.82" fill="#f6e620"/><rect x="585.74" width="19.56" height="17.82" fill="#fde725"/>
</g>
<g transform="translate(0,121.63)">
<rect x="70.00" width="2.44" height="17.82" fill="#481c6e"/><rect x="72.14" width="2.44" height="17.82" fill="#471164"/><rect x="74.28" width="2.44" height="17.82" fill="#450559"/><rect x="76.42" width="23.84" height="17.82" fill="#440154"/><rect x="99.96" width="4.58" height="17.82" fill="#440256"/><rect x="104.24" width="4.58" height="17.82" fill="#440154"/><rect x="108.52" width="8.86" height="17.82" fill="#440256"/><rect x="117.08" width="2.44" height="17.82" fill="#450457"/><rect x="119.22" width="2.44" height="17.82" fill="#450559"/><rect x="121.36" width="2.44" height="17.82" fill="#46085c"/><rect x="123.50" width="2.44" height="17.82" fill="#460b5e"/><rect x="125.64" width="2.44" height="17.82" fill="#470e61"/><rect x="127.78" width="2.44" height="17.82" fill="#471164"/><rect x="129.92" width="4.58" height="17.82" fill="#471063"/><rect x="134.20" width="2.44" height="17.82" fill="#470e61"/><rect x="136.34" width="2.44" height="17.82" fill="#470d60"/><rect x="138.48" width="2.44" height="17.82" fill="#460b5e"/><rect x="140.62" width="11.00" height="17.82" fill="#460a5d"/><rect x="151.32" width="2.44" height="17.82" fill="#460b5e"/><rect x="153.46" width="2.44" height="17.82" fill="#470d60"/><rect x="155.60" width="4.58" height="17.82" fill="#470e61"/><rect x="159.88" width="2.44" height="17.82" fill="#471063"/><rect x="162.02" width="2.44" height="17.82" fill="#471365"/><rect x="164.16" width="2.44" height="17.82" fill="#481467"/><rect x="166.30" width="2.44" height="17.82" fill="#481668"/><rect x="168.44" width="2.44" height="17.82" fill="#481769"/><rect x="170.58" width="2.44" height="17.82" fill="#48186a"/><rect x="172.72" width="2.44" height="17.82" fill="#481a6c"/><rect x="174.86" width="2.44" height="17.82" fill="#481b6d"/><rect x="177.00" width="2.44" height="17.82" fill="#481c6e"/><rect x="179.14" width="2.44" height="17.82" fill="#481d6f"/><rect x="181.28" width="2.44" height="17.82" fill="#481f70"/><rect x="183.42" width="4.58" height="17.82" fill="#482071"/><rect x="187.70" width="2.44" height="17.82" fill="#482374"/><rect x="189.84" width="2.44" height="17.82" fill="#482475"/><rect x="191.98" width="6.72" height="17.82" fill="#482677"/><rect x="198.40" width="2.44" height="17.82" fill="#482979"/><rect x="200.54" width="2.44" height="17.82" fill="#472a7a"/><rect x="202.68" width="2.44" height="17.82" fill="#472d7b"/><rect x="204.82" width="2.44" height="17.82" fill="#472f7d"/><rect x="206.96" width="2.44" height="17.82" fill="#463480"/><rect x="209.10" width="2.44" height="17.82" fill="#453882"/><rect x="211.24" width="2.44" height="17.82" fill="#443a83"/><rect x="213.38" width="2.44" height="17.82" fill="#433e85"/><rect x="215.52" width="2.44" height="17.82" fill="#414487"/><rect x="217.66" width="2.44" height="17.82" fill="#3f4889"/><rect x="219.80" width="2.44" height="17.82" fill="#3d4d8a"/><rect x="221.94" width="2.44" height="17.82" fill="#3c508b"/><rect x="224.08" width="2.44" height="17.82" fill="#3a538b"/><rect x="226.22" width="2.44" height="17.82" fill="#39568c"/><rect x="228.36" width="2.44" height="17.82" fill="#375a8c"/><rect x="230.50" width="2.44" height="17.82" fill="#365c8d"/><rect x="232.64" width="2.44" height="17.82" fill="#355f8d"/><rect x="234.78" width="2.44" height="17.82" fill="#33628d"/><rect x="236.92" width="2.44" height="17.82" fill="#32658e"/><rect x="239.06" width="2.44" height="17.82" fill="#31688e"/><rect x="241.20" width="2.44" height="17.82" fill="#30698e"/><rect x="243.34" width="2.44" height="17.82" fill="#2f6c8e"/><rect x="245.48" width="2.44" height="17.82" fill="#2e6d8e"/><rect x="247.62" width="2.44" height="17.82" fill="#2e6e8e"/><rect x="249.76" width="2.44" height="17.82" fill="#2d708e"/><rect x="251.90" width="2.44" height="17.82" fill="#2d718e"/><rect x="254.04" width="2.44" height="17.82" fill="#2c718e"/><rect x="256.18" width="2.44" height="17.82" fill="#2c728e"/><rect x="258.32" width="2.44" height="17.82" fill="#2c738e"/><rect x="260.46" width="2.44" height="17.82" fill="#2c728e"/><rect x="262.60" width="2.44" height="17.82" fill="#2a768e"/><rect x="264.74" width="2.44" height="17.82" fill="#2a788e"/><rect x="266.88" width="2.44" height="17.82" fill="#29798e"/><rect x="269.02" width="4.58" height="17.82" fill="#277e8e"/><rect x="273.30" width="2.44" height="17.82" fill="#287c8e"/><rect x="275.44" width="2.44" height="17.82" fill="#277e8e"/><rect x="277.58" width="2.44" height="17.82" fill="#26818e"/><rect x="279.72" width="4.58" height="17.82" fill="#26828e"/><rect x="284.00" width="2.44" height="17.82" fill="#25838e"/><rect x="286.14" width="2.44" height="17.82" fill="#25858e"/><rect x="288.28" width="4.58" height="17.82" fill="#25838e"/><rect x="292.56" width="2.44" height="17.82" fill="#24868e"/><rect x="294.70" width="2.44" height="17.82" fill="#25858e"/><rect x="296.84" width="2.44" height="17.82" fill="#24878e"/><rect x="298.98" width="4.58" height="17.82" fill="#23888e"/><rect x="303.26" width="2.44" height="17.82" fill="#228b8d"/><rect x="305.40" width="2.44" height="17.82" fill="#228c8d"/><rect x="307.54" width="2.44" height="17.82" fill="#228b8d"/><rect x="309.68" width="2.44" height="17.82" fill="#228c8d"/><rect x="311.82" width="2.44" height="17.82" fill="#228b8d"/><rect x="313.96" width="2.44" height="17.82" fill="#238a8d"/><rect x="316.10" width="2.44" height="17.82" fill="#218f8d"/><rect x="318.24" width="2.44" height="17.82" fill="#218e8d"/><rect x="320.38" width="2.44" height="17.82" fill="#218f8d"/><rect x="322.52" width="2.44" height="17.82" fill="#21908d"/><rect x="324.66" width="2.44" height="17.82" fill="#21918c"/><rect x="326.80" width="4.58" height="17.82" fill="#20928c"/><rect x="331.08" width="2.44" height="17.82" fill="#1f958b"/><rect x="333.22" width="2.44" height="17.82" fill="#21918c"/><rect x="335.36" width="2.44" height="17.82" fill="#20938c"/><rect x="337.50" width="2.44" height="17.82" fill="#1e9b8a"/><rect x="339.64" width="2.44" height="17.82" fill="#1f998a"/><rect x="341.78" width="4.58" height="17.82" fill="#1f968b"/><rect x="346.06" width="2.44" height="17.82" fill="#1f978b"/><rect x="348.20" width="2.44" height="17.82" fill="#1e9b8a"/><rect x="350.34" width="2.44" height="17.82" fill="#1e9c89"/><rect x="352.48" width="6.72" height="17.82" fill="#1f9a8a"/><rect x="358.90" width="2.44" height="17.82" fill="#1f998a"/><rect x="361.04" width="2.44" height="17.82" fill="#1e9c89"/><rect x="363.18" width="6.72" height="17.82" fill="#1fa188"/><rect x="369.60" width="2.44" height="17.82" fill="#1f9f88"/><rect x="371.74" width="2.44" height="17.82" fill="#1fa088"/><rect x="373.88" width="6.72" height="17.82" fill="#1fa187"/><rect x="380.30" width="4.58" height="17.82" fill="#20a386"/><rect x="384.58" width="2.44" height="17.82" fill="#1fa287"/><rect x="386.72" width="2.44" height="17.82" fill="#23a983"/><rect x="388.86" width="2.44" height="17.82" fill="#25ab82"/><rect x="391.00" width="2.44" height="17.82" fill="#20a386"/><rect x="393.14" width="2.44" height="17.82" fill="#21a685"/><rect x="395.28" width="2.44" height="17.82" fill="#26ad81"/><rect x="397.42" width="2.44" height="17.82" fill="#25ab82"/><rect x="399.56" width="2.44" height="17.82" fill="#24aa83"/><rect x="401.70" width="2.44" height="17.82" fill="#25ab82"/><rect x="403.84" width="2.44" height="17.82" fill="#22a884"/><rect x="405.98" width="2.44" height="17.82" fill="#25ac82"/><rect x="408.12" width="2.44" height="17.82" fill="#29af7f"/><rect x="410.26" width="2.44" height="17.82" fill="#2ab07f"/><rect x="412.40" width="2.44" height="17.82" fill="#2cb17e"/><rect x="414.54" width="2.44" height="17.82" fill="#32b67a"/><rect x="416.68" width="2.44" height="17.82" fill="#31b57b"/><rect x="418.82" width="2.44" height="17.82" fill="#2db27d"/><rect x="420.96" width="4.58" height="17.82" fill="#2fb47c"/><rect x="425.24" width="2.44" height="17.82" fill="#3aba76"/><rect x="427.38" width="6.72" height="17.82" fill="#3bbb75"/><rect x="433.80" width="2.44" height="17.82" fill="#37b878"/><rect x="435.94" width="2.44" height="17.82" fill="#3aba76"/><rect x="438.08" width="4.58" height="17.82" fill="#3dbc74"/><rect x="442.36" width="2.44" height="17.82" fill="#3fbc73"/><rect x="444.50" width="2.44" height="17.82" fill="#44bf70"/><rect x="446.64" width="2.44" height="17.82" fill="#4ac16d"/><rect x="448.78" width="2.44" height="17.82" fill="#4ec36b"/><rect x="450.92" width="2.44" height="17.82" fill="#4ac16d"/><rect x="453.06" width="2.44" height="17.82" fill="#44bf70"/><rect x="455.20" width="2.44" height="17.82" fill="#3dbc74"/><rect x="457.34" width="2.44" height="17.82" fill="#44bf70"/><rect x="459.48" width="2.44" height="17.82" fill="#52c569"/><rect x="461.62" width="2.44" height="17.82" fill="#4ec36b"/><rect x="463.76" width="2.44" height="17.82" fill="#4ac16d"/><rect x="465.90" width="2.44" height="17.82" fill="#50c46a"/><rect x="468.04" width="4.58" height="17.82" fill="#54c568"/><rect x="472.32" width="2.44" height="17.82" fill="#50c46a"/><rect x="474.46" width="2.44" height="17.82" fill="#56c667"/><rect x="476.60" width="2.44" height="17.82" fill="#50c46a"/><rect x="478.74" width="2.44" height="17.82" fill="#4ec36b"/><rect x="480.88" width="4.58" height="17.82" fill="#58c765"/><rect x="485.16" width="2.44" height="17.82" fill="#65cb5e"/><rect x="487.30" width="2.44" height="17.82" fill="#6ccd5a"/><rect x="489.44" width="2.44" height="17.82" fill="#56c667"/><rect x="491.58" width="2.44" height="17.82" fill="#46c06f"/><rect x="493.72" width="4.58" height="17.82" fill="#52c569"/><rect x="498.00" width="2.44" height="17.82" fill="#56c667"/><rect x="500.14" width="2.44" height="17.82" fill="#70cf57"/><rect x="502.28" width="2.44" height="17.82" fill="#6ccd5a"/><rect x="504.42" width="2.44" height="17.82" fill="#58c765"/><rect x="506.56" width="2.44" height="17.82" fill="#63cb5f"/><rect x="508.70" width="2.44" height="17.82" fill="#73d056"/><rect x="510.84" width="2.44" height="17.82" fill="#77d153"/><rect x="512.98" width="2.44" height="17.82" fill="#7ad151"/><rect x="515.12" width="2.44" height="17.82" fill="#70cf57"/><rect x="517.26" width="2.44" height="17.82" fill="#65cb5e"/><rect x="519.40" width="2.44" height="17.82" fill="#69cd5b"/><rect x="521.54" width="2.44" height="17.82" fill="#6ece58"/><rect x="523.68" width="2.44" height="17.82" fill="#67cc5c"/><rect x="525.82" width="2.44" height="17.82" fill="#6ece58"/><rect x="527.96" width="2.44" height="17.82" fill="#75d054"/><rect x="530.10" width="4.58" height="17.82" fill="#73d056"/><rect x="534.38" width="2.44" height="17.82" fill="#70cf57"/><rect x="536.52" width="2.44" height="17.82" fill="#73d056"/><rect x="538.66" width="2.44" height="17.82" fill="#75d054"/><rect x="540.80" width="2.44" height="17.82" fill="#89d548"/><rect x="542.94" width="2.44" height="17.82" fill="#98d83e"/><rect x="545.08" width="2.44" height="17.82" fill="#9dd93b"/><rect x="547.22" width="2.44" height="17.82" fill="#a5db36"/><rect x="549.36" width="2.44" height="17.82" fill="#b5de2b"/><rect x="551.50" width="2.44" height="17.82" fill="#a8db34"/><rect x="553.64" width="2.44" height="17.82" fill="#a0da39"/><rect x="555.78" width="2.44" height="17.82" fill="#b0dd2f"/><rect x="557.92" width="2.44" height="17.82" fill="#a2da37"/><rect x="560.06" width="2.44" height="17.82" fill="#98d83e"/><rect x="562.20" width="2.44" height="17.82" fill="#9bd93c"/><rect x="564.34" width="2.44" height="17.82" fill="#a8db34"/><rect x="566.48" width="4.58" height="17.82" fill="#aadc32"/><rect x="570.76" width="2.44" height="17.82" fill="#addc30"/><rect x="572.90" width="4.58" height="17.82" fill="#b5de2b"/><rect x="577.18" width="2.44" height="17.82" fill="#9bd93c"/><rect x="579.32" width="4.58" height="17.82" fill="#93d741"/><rect x="583.60" width="2.44" height="17.82" fill="#84d44b"/><rect x="585.74" width="2.44" height="17.82" fill="#8bd646"/><rect x="587.88" width="2.44" height="17.82" fill="#b8de29"/><rect x="590.02" width="2.44" height="17.82" fill="#c0df25"/><rect x="592.16" width="2.44" height="17.82" fill="#aadc32"/><rect x="594.30" width="2.44" height="17.82" fill="#a0da39"/><rect x="596.44" width="2.44" height="17.82" fill="#aadc32"/><rect x="598.58" width="2.44" height="17.82" fill="#b2dd2d"/><rect x="600.72" width="2.44" height="17.82" fill="#addc30"/><rect x="602.86" width="2.44" height="17.82" fill="#b2dd2d"/>
</g>
<g transform="translate(0,104.12)">
<rect x="70.00" width="2.44" height="17.82" fill="#481c6e"/><rect x="72.14" width="2.44" height="17.82" fill="#471365"/><rect x="74.28" width="2.44" height="17.82" fill="#46085c"/><rect x="76.42" width="11.00" height="17.82" fill="#450457"/><rect x="87.12" width="6.72" height="17.82" fill="#450559"/><rect x="93.54" width="6.72" height="17.82" fill="#46075a"/><rect x="99.96" width="4.58" height="17.82" fill="#46085c"/><rect x="104.24" width="2.44" height="17.82" fill="#46075a"/><rect x="106.38" width="2.44" height="17.82" fill="#46085c"/><rect x="108.52" width="8.86" height="17.82" fill="#460a5d"/><rect x="117.08" width="2.44" height="17.82" fill="#460b5e"/><rect x="119.22" width="2.44" height="17.82" fill="#470d60"/><rect x="121.36" width="2.44" height="17.82" fill="#471063"/><rect x="123.50" width="2.44" height="17.82" fill="#471164"/><rect x="125.64" width="2.44" height="17.82" fill="#481467"/><rect x="127.78" width="4.58" height="17.82" fill="#481668"/><rect x="132.06" width="2.44" height="17.82" fill="#481467"/><rect x="134.20" width="2.44" height="17.82" fill="#471365"/><rect x="136.34" width="2.44" height="17.82" fill="#471164"/><rect x="138.48" width="2.44" height="17.82" fill="#470e61"/><rect x="140.62" width="4.58" height="17.82" fill="#470d60"/><rect x="144.90" width="4.58" height="17.82" fill="#460b5e"/><rect x="149.18" width="4.58" height="17.82" fill="#470d60"/><rect x="153.46" width="2.44" height="17.82" fill="#470e61"/><rect x="155.60" width="6.72" height="17.82" fill="#471063"/><rect x="162.02" width="4.58" height="17.82" fill="#471365"/><rect x="166.30" width="2.44" height="17.82" fill="#481467"/><rect x="168.44" width="2.44" height="17.82" fill="#481668"/><rect x="170.58" width="2.44" height="17.82" fill="#481769"/><rect x="172.72" width="2.44" height="17.82" fill="#48186a"/><rect x="174.86" width="4.58" height="17.82" fill="#481a6c"/><rect x="179.14" width="2.44" height="17.82" fill="#481b6d"/><rect x="181.28" width="2.44" height="17.82" fill="#481c6e"/><rect x="183.42" width="4.58" height="17.82" fill="#481d6f"/><rect x="187.70" width="2.44" height="17.82" fill="#481f70"/><rect x="189.84" width="2.44" height="17.82" fill="#482071"/><rect x="191.98" width="6.72" height="17.82" fill="#482374"/><rect x="198.40" width="2.44" height="17.82" fill="#482576"/><rect x="200.54" width="2.44" height="17.82" fill="#482677"/><rect x="202.68" width="2.44" height="17.82" fill="#482878"/><rect x="204.82" width="2.44" height="17.82" fill="#482979"/><rect x="206.96" width="2.44" height="17.82" fill="#472d7b"/><rect x="209.10" width="2.44" height="17.82" fill="#472f7d"/><rect x="211.24" width="2.44" height="17.82" fill="#46307e"/><rect x="213.38" width="2.44" height="17.82" fill="#46337f"/><rect x="215.52" width="2.44" height="17.82" fill="#453781"/><rect x="217.66" width="2.44" height="17.82" fill="#443a83"/><rect x="219.80" width="2.44" height="17.82" fill="#433d84"/><rect x="221.94" width="2.44" height="17.82" fill="#423f85"/><rect x="224.08" width="2.44" height="17.82" fill="#414287"/><rect x="226.22" width="2.44" height="17.82" fill="#404688"/><rect x="228.36" width="2.44" height="17.82" fill="#3f4788"/><rect x="230.50" width="2.44" height="17.82" fill="#3e4989"/><rect x="232.64" width="2.44" height="17.82" fill="#3e4c8a"/><rect x="234.78" width="2.44" height="17.82" fill="#3d4e8a"/><rect x="236.92" width="2.44" height="17.82" fill="#3c508b"/><rect x="239.06" width="2.44" height="17.82" fill="#3a538b"/><rect x="241.20" width="2.44" height="17.82" fill="#3a548c"/><rect x="243.34" width="2.44" height="17.82" fill="#39558c"/><rect x="245.48" width="2.44" height="17.82" fill="#39568c"/><rect x="247.62" width="2.44" height="17.82" fill="#38598c"/><rect x="249.76" width="2.44" height="17.82" fill="#375a8c"/><rect x="251.90" width="2.44" height="17.82" fill="#375b8d"/><rect x="254.04" width="4.58" height="17.82" fill="#365c8d"/><rect x="258.32" width="2.44" height="17.82" fill="#355e8d"/><rect x="260.46" width="2.44" height="17.82" fill="#365d8d"/><rect x="262.60" width="2.44" height="17.82" fill="#355f8d"/><rect x="264.74" width="2.44" height="17.82" fill="#34618d"/><rect x="266.88" width="2.44" height="17.82" fill="#33638d"/><rect x="269.02" width="4.58" height="17.82" fill="#31668e"/><rect x="273.30" width="2.44" height="17.82" fill="#32648e"/><rect x="275.44" width="2.44" height="17.82" fill="#31668e"/><rect x="277.58" width="2.44" height="17.82" fill="#30698e"/><rect x="279.72" width="4.58" height="17.82" fill="#306a8e"/><rect x="284.00" width="2.44" height="17.82" fill="#2f6b8e"/><rect x="286.14" width="6.72" height="17.82" fill="#2e6d8e"/><rect x="292.56" width="2.44" height="17.82" fill="#2e6f8e"/><rect x="294.70" width="2.44" height="17.82" fill="#2d708e"/><rect x="296.84" width="4.58" height="17.82" fill="#2d718e"/><rect x="301.12" width="2.44" height="17.82" fill="#2c728e"/><rect x="303.26" width="2.44" height="17.82" fill="#2b748e"/><rect x="305.40" width="4.58" height="17.82" fill="#2b758e"/><rect x="309.68" width="2.44" height="17.82" fill="#2a768e"/><rect x="311.82" width="4.58" height="17.82" fill="#2b758e"/><rect x="316.10" width="4.58" height="17.82" fill="#2a788e"/><rect x="320.38" width="2.44" height="17.82" fill="#297b8e"/><rect x="322.52" width="2.44" height="17.82" fill="#287d8e"/><rect x="324.66" width="4.58" height="17.82" fill="#277e8e"/><rect x="328.94" width="2.44" height="17.82" fill="#27808e"/><rect x="331.08" width="2.44" height="17.82" fill="#26828e"/><rect x="333.22" width="2.44" height="17.82" fill="#27808e"/><rect x="335.36" width="2.44" height="17.82" fill="#26828e"/><rect x="337.50" width="4.58" height="17.82" fill="#23888e"/><rect x="341.78" width="2.44" height="17.82" fill="#25858e"/><rect x="343.92" width="2.44" height="17.82" fill="#24868e"/><rect x="346.06" width="2.44" height="17.82" fill="#23888e"/><rect x="348.20" width="2.44" height="17.82" fill="#238a8d"/><rect x="350.34" width="2.44" height="17.82" fill="#228b8d"/><rect x="352.48" width="2.44" height="17.82" fill="#228c8d"/><rect x="354.62" width="2.44" height="17.82" fill="#228d8d"/><rect x="356.76" width="4.58" height="17.82" fill="#228c8d"/><rect x="361.04" width="2.44" height="17.82" fill="#21918c"/><rect x="363.18" width="2.44" height="17.82" fill="#20928c"/><rect x="365.32" width="4.58" height="17.82" fill="#20938c"/><rect x="369.60" width="2.44" height="17.82" fill="#21918c"/><rect x="371.74" width="2.44" height="17.82" fill="#20938c"/><rect x="373.88" width="4.58" height="17.82" fill="#1f958b"/><rect x="378.16" width="2.44" height="17.82" fill="#1f968b"/><rect x="380.30" width="4.58" height="17.82" fill="#1f978b"/><rect x="384.58" width="2.44" height="17.82" fill="#1f998a"/><rect x="386.72" width="4.58" height="17.82" fill="#1f9f88"/><rect x="391.00" width="2.44" height="17.82" fill="#1e9b8a"/><rect x="393.14" width="2.44" height="17.82" fill="#1f9e89"/><rect x="395.28" width="2.44" height="17.82" fill="#1fa287"/><rect x="397.42" width="2.44" height="17.82" fill="#1fa088"/><rect x="399.56" width="2.44" height="17.82" fill="#1e9d89"/><rect x="401.70" width="4.58" height="17.82" fill="#1fa187"/><rect x="405.98" width="2.44" height="17.82" fill="#21a685"/><rect x="408.12" width="2.44" height="17.82" fill="#23a983"/><rect x="410.26" width="2.44" height="17.82" fill="#22a785"/><rect x="412.40" width="2.44" height="17.82" fill="#21a685"/><rect x="414.54" width="2.44" height="17.82" fill="#23a983"/><rect x="416.68" width="2.44" height="17.82" fill="#25ab82"/><rect x="418.82" width="4.58" height="17.82" fill="#23a983"/><rect x="423.10" width="2.44" height="17.82" fill="#22a785"/><rect x="425.24" width="2.44" height="17.82" fill="#25ab82"/><rect x="427.38" width="4.58" height="17.82" fill="#27ad81"/><rect x="431.66" width="2.44" height="17.82" fill="#2ab07f"/><rect x="433.80" width="2.44" height="17.82" fill="#28ae80"/><rect x="435.94" width="2.44" height="17.82" fill="#27ad81"/><rect x="438.08" width="2.44" height="17.82" fill="#2cb17e"/><rect x="440.22" width="2.44" height="17.82" fill="#2fb47c"/><rect x="442.36" width="2.44" height="17.82" fill="#2db27d"/><rect x="444.50" width="2.44" height="17.82" fill="#2cb17e"/><rect x="446.64" width="2.44" height="17.82" fill="#2eb37c"/><rect x="448.78" width="4.58" height="17.82" fill="#31b57b"/><rect x="453.06" width="2.44" height="17.82" fill="#2fb47c"/><rect x="455.20" width="2.44" height="17.82" fill="#2ab07f"/><rect x="457.34" width="2.44" height="17.82" fill="#2eb37c"/><rect x="459.48" width="2.44" height="17.82" fill="#38b977"/><rect x="461.62" width="2.44" height="17.82" fill="#35b779"/><rect x="463.76" width="2.44" height="17.82" fill="#34b679"/><rect x="465.90" width="2.44" height="17.82" fill="#35b779"/><rect x="468.04" width="2.44" height="17.82" fill="#37b878"/><rect x="470.18" width="2.44" height="17.82" fill="#3aba76"/><rect x="472.32" width="2.44" height="17.82" fill="#35b779"/><rect x="474.46" width="2.44" height="17.82" fill="#37b878"/><rect x="476.60" width="2.44" height="17.82" fill="#35b779"/><rect x="478.74" width="2.44" height="17.82" fill="#38b977"/><rect x="480.88" width="4.58" height="17.82" fill="#3dbc74"/><rect x="485.16" width="2.44" height="17.82" fill="#46c06f"/><rect x="487.30" width="2.44" height="17.82" fill="#44bf70"/><rect x="489.44" width="2.44" height="17.82" fill="#3aba76"/><rect x="491.58" width="2.44" height="17.82" fill="#31b57b"/><rect x="493.72" width="2.44" height="17.82" fill="#38b977"/><rect x="495.86" width="4.58" height="17.82" fill="#3aba76"/><rect x="500.14" width="2.44" height="17.82" fill="#44bf70"/><rect x="502.28" width="2.44" height="17.82" fill="#40bd72"/><rect x="504.42" width="2.44" height="17.82" fill="#34b679"/><rect x="506.56" width="2.44" height="17.82" fill="#3dbc74"/><rect x="508.70" width="4.58" height="17.82" fill="#48c16e"/><rect x="512.98" width="2.44" height="17.82" fill="#4ac16d"/><rect x="515.12" width="2.44" height="17.82" fill="#44bf70"/><rect x="517.26" width="2.44" height="17.82" fill="#3dbc74"/><rect x="519.40" width="2.44" height="17.82" fill="#40bd72"/><rect x="521.54" width="2.44" height="17.82" fill="#42be71"/><rect x="523.68" width="2.44" height="17.82" fill="#3bbb75"/><rect x="525.82" width="2.44" height="17.82" fill="#46c06f"/><rect x="527.96" width="6.72" height="17.82" fill="#50c46a"/><rect x="534.38" width="2.44" height="17.82" fill="#4cc26c"/><rect x="536.52" width="2.44" height="17.82" fill="#4ac16d"/><rect x="538.66" width="2.44" height="17.82" fill="#50c46a"/><rect x="540.80" width="4.58" height="17.82" fill="#5cc863"/><rect x="545.08" width="2.44" height="17.82" fill="#60ca60"/><rect x="547.22" width="2.44" height="17.82" fill="#6ccd5a"/><rect x="549.36" width="2.44" height="17.82" fill="#7cd250"/><rect x="551.50" width="2.44" height="17.82" fill="#6ece58"/><rect x="553.64" width="2.44" height="17.82" fill="#67cc5c"/><rect x="555.78" width="2.44" height="17.82" fill="#75d054"/><rect x="557.92" width="2.44" height="17.82" fill="#6ccd5a"/><rect x="560.06" width="4.58" height="17.82" fill="#67cc5c"/><rect x="564.34" width="4.58" height="17.82" fill="#73d056"/><rect x="568.62" width="2.44" height="17.82" fill="#6ece58"/><rect x="570.76" width="2.44" height="17.82" fill="#70cf57"/><rect x="572.90" width="2.44" height="17.82" fill="#7cd250"/><rect x="575.04" width="2.44" height="17.82" fill="#7fd34e"/><rect x="577.18" width="2.44" height="17.82" fill="#6ece58"/><rect x="579.32" width="4.58" height="17.82" fill="#65cb5e"/><rect x="583.60" width="2.44" height="17.82" fill="#56c667"/><rect x="585.74" width="2.44" height="17.82" fill="#60ca60"/><rect x="587.88" width="2.44" height="17.82" fill="#84d44b"/><rect x="590.02" width="2.44" height="17.82" fill="#86d549"/><rect x="592.16" width="2.44" height="17.82" fill="#73d056"/><rect x="594.30" width="2.44" height="17.82" fill="#6ccd5a"/><rect x="596.44" width="2.44" height="17.82" fill="#7fd34e"/><rect x="598.58" width="2.44" height="17.82" fill="#84d44b"/><rect x="600.72" width="2.44" height="17.82" fill="#7ad151"/><rect x="602.86" width="2.44" height="17.82" fill="#77d153"/>
</g>
<g transform="translate(0,86.60)">
<rect x="70.00" width="2.44" height="17.82" fill="#481c6e"/><rect x="72.14" width="2.44" height="17.82" fill="#481668"/><rect x="74.28" width="2.44" height="17.82" fill="#470e61"/><rect x="76.42" width="4.58" height="17.82" fill="#460b5e"/><rect x="80.70" width="4.58" height="17.82" fill="#470d60"/><rect x="84.98" width="2.44" height="17.82" fill="#470e61"/><rect x="87.12" width="2.44" height="17.82" fill="#471063"/><rect x="89.26" width="4.58" height="17.82" fill="#471164"/><rect x="93.54" width="2.44" height="17.82" fill="#471365"/><rect x="95.68" width="2.44" height="17.82" fill="#481467"/><rect x="97.82" width="2.44" height="17.82" fill="#481668"/><rect x="99.96" width="8.86" height="17.82" fill="#481769"/><rect x="108.52" width="6.72" height="17.82" fill="#481a6c"/><rect x="114.94" width="2.44" height="17.82" fill="#481b6d"/><rect x="117.08" width="2.44" height="17.82" fill="#481c6e"/><rect x="119.22" width="2.44" height="17.82" fill="#481d6f"/><rect x="121.36" width="2.44" height="17.82" fill="#482071"/><rect x="123.50" width="4.58" height="17.82" fill="#482374"/><rect x="127.78" width="4.58" height="17.82" fill="#482576"/><rect x="132.06" width="4.58" height="17.82" fill="#482475"/><rect x="136.34" width="2.44" height="17.82" fill="#482374"/><rect x="138.48" width="2.44" height="17.82" fill="#482071"/><rect x="140.62" width="8.86" height="17.82" fill="#481f70"/><rect x="149.18" width="4.58" height="17.82" fill="#482071"/><rect x="153.46" width="2.44" height="17.82" fill="#482173"/><rect x="155.60" width="6.72" height="17.82" fill="#482374"/><rect x="162.02" width="4.58" height="17.82" fill="#482475"/><rect x="166.30" width="6.72" height="17.82" fill="#482576"/><rect x="172.72" width="2.44" height="17.82" fill="#482677"/><rect x="174.86" width="8.86" height="17.82" fill="#482878"/><rect x="183.42" width="2.44" height="17.82" fill="#482979"/><rect x="185.56" width="2.44" height="17.82" fill="#472a7a"/><rect x="187.70" width="2.44" height="17.82" fill="#472c7a"/><rect x="189.84" width="2.44" height="17.82" fill="#472d7b"/><rect x="191.98" width="6.72" height="17.82" fill="#472e7c"/><rect x="198.40" width="2.44" height="17.82" fill="#472f7d"/><rect x="200.54" width="2.44" height="17.82" fill="#46307e"/><rect x="202.68" width="2.44" height="17.82" fill="#46327e"/><rect x="204.82" width="2.44" height="17.82" fill="#46337f"/><rect x="206.96" width="2.44" height="17.82" fill="#453581"/><rect x="209.10" width="4.58" height="17.82" fill="#453882"/><rect x="213.38" width="2.44" height="17.82" fill="#443983"/><rect x="215.52" width="2.44" height="17.82" fill="#443b84"/><rect x="217.66" width="2.44" height="17.82" fill="#433e85"/><rect x="219.80" width="2.44" height="17.82" fill="#423f85"/><rect x="221.94" width="2.44" height="17.82" fill="#424086"/><rect x="224.08" width="2.44" height="17.82" fill="#424186"/><rect x="226.22" width="2.44" height="17.82" fill="#414487"/><rect x="228.36" width="4.58" height="17.82" fill="#404588"/><rect x="232.64" width="2.44" height="17.82" fill="#3f4788"/><rect x="234.78" width="2.44" height="17.82" fill="#3f4889"/><rect x="236.92" width="2.44" height="17.82" fill="#3e4a89"/><rect x="239.06" width="4.58" height="17.82" fill="#3d4d8a"/><rect x="243.34" width="4.58" height="17.82" fill="#3d4e8a"/><rect x="247.62" width="2.44" height="17.82" fill="#3c508b"/><rect x="249.76" width="8.86" height="17.82" fill="#3b528b"/><rect x="258.32" width="2.44" height="17.82" fill="#3a538b"/><rect x="260.46" width="2.44" height="17.82" fill="#3b518b"/><rect x="262.60" width="2.44" height="17.82" fill="#3a548c"/><rect x="264.74" width="2.44" height="17.82" fill="#39558c"/><rect x="266.88" width="2.44" height="17.82" fill="#39568c"/><rect x="269.02" width="2.44" height="17.82" fill="#375b8d"/><rect x="271.16" width="2.44" height="17.82" fill="#375a8c"/><rect x="273.30" width="2.44" height="17.82" fill="#39568c"/><rect x="275.44" width="2.44" height="17.82" fill="#375a8c"/><rect x="277.58" width="4.58" height="17.82" fill="#375b8d"/><rect x="281.86" width="2.44" height="17.82" fill="#365c8d"/><rect x="284.00" width="2.44" height="17.82" fill="#365d8d"/><rect x="286.14" width="4.58" height="17.82" fill="#355f8d"/><rect x="290.42" width="2.44" height="17.82" fill="#355e8d"/><rect x="292.56" width="4.58" height="17.82" fill="#34608d"/><rect x="296.84" width="2.44" height="17.82" fill="#34618d"/><rect x="298.98" width="2.44" height="17.82" fill="#33628d"/><rect x="301.12" width="2.44" height="17.82" fill="#33638d"/><rect x="303.26" width="4.58" height="17.82" fill="#32658e"/><rect x="307.54" width="4.58" height="17.82" fill="#31668e"/><rect x="311.82" width="4.58" height="17.82" fill="#32648e"/><rect x="316.10" width="2.44" height="17.82" fill="#31678e"/><rect x="318.24" width="2.44" height="17.82" fill="#31688e"/><rect x="320.38" width="2.44" height="17.82" fill="#306a8e"/><rect x="322.52" width="4.58" height="17.82" fill="#2f6b8e"/><rect x="326.80" width="2.44" height="17.82" fill="#2f6c8e"/><rect x="328.94" width="2.44" height="17.82" fill="#2e6f8e"/><rect x="331.08" width="2.44" height="17.82" fill="#2d708e"/><rect x="333.22" width="2.44" height="17.82" fill="#2e6d8e"/><rect x="335.36" width="2.44" height="17.82" fill="#2d708e"/><rect x="337.50" width="2.44" height="17.82" fill="#2b758e"/><rect x="339.64" width="2.44" height="17.82" fill="#2c738e"/><rect x="341.78" width="6.72" height="17.82" fill="#2c718e"/><rect x="348.20" width="2.44" height="17.82" fill="#2b748e"/><rect x="350.34" width="2.44" height="17.82" fill="#2a768e"/><rect x="352.48" width="2.44" height="17.82" fill="#2a778e"/><rect x="354.62" width="2.44" height="17.82" fill="#29798e"/><rect x="356.76" width="2.44" height="17.82" fill="#2a788e"/><rect x="358.90" width="2.44" height="17.82" fill="#2a778e"/><rect x="361.04" width="2.44" height="17.82" fill="#297b8e"/><rect x="363.18" width="2.44" height="17.82" fill="#277e8e"/><rect x="365.32" width="2.44" height="17.82" fill="#277f8e"/><rect x="367.46" width="2.44" height="17.82" fill="#27808e"/><rect x="369.60" width="2.44" height="17.82" fill="#277e8e"/><rect x="371.74" width="2.44" height="17.82" fill="#277f8e"/><rect x="373.88" width="4.58" height="17.82" fill="#27808e"/><rect x="378.16" width="8.86" height="17.82" fill="#26828e"/><rect x="386.72" width="2.44" height="17.82" fill="#23888e"/><rect x="388.86" width="2.44" height="17.82" fill="#23898e"/><rect x="391.00" width="2.44" height="17.82" fill="#25848e"/><rect x="393.14" width="2.44" height="17.82" fill="#24878e"/><rect x="395.28" width="2.44" height="17.82" fill="#228c8d"/><rect x="397.42" width="2.44" height="17.82" fill="#238a8d"/><rect x="399.56" width="2.44" height="17.82" fill="#23898e"/><rect x="401.70" width="2.44" height="17.82" fill="#228d8d"/><rect x="403.84" width="2.44" height="17.82" fill="#228b8d"/><rect x="405.98" width="2.44" height="17.82" fill="#228d8d"/><rect x="408.12" width="2.44" height="17.82" fill="#21918c"/><rect x="410.26" width="2.44" height="17.82" fill="#20928c"/><rect x="412.40" width="2.44" height="17.82" fill="#21918c"/><rect x="414.54" width="2.44" height="17.82" fill="#20938c"/><rect x="416.68" width="2.44" height="17.82" fill="#1f968b"/><rect x="418.82" width="2.44" height="17.82" fill="#1f958b"/><rect x="420.96" width="4.58" height="17.82" fill="#1f948c"/><rect x="425.24" width="2.44" height="17.82" fill="#1f998a"/><rect x="427.38" width="2.44" height="17.82" fill="#1e9d89"/><rect x="429.52" width="4.58" height="17.82" fill="#1e9c89"/><rect x="433.80" width="2.44" height="17.82" fill="#1e9b8a"/><rect x="435.94" width="2.44" height="17.82" fill="#1f9a8a"/><rect x="438.08" width="2.44" height="17.82" fill="#1f9f88"/><rect x="440.22" width="2.44" height="17.82" fill="#1fa187"/><rect x="442.36" width="2.44" height="17.82" fill="#1fa088"/><rect x="444.50" width="2.44" height="17.82" fill="#1fa287"/><rect x="446.64" width="2.44" height="17.82" fill="#21a585"/><rect x="448.78" width="2.44" height="17.82" fill="#22a884"/><rect x="450.92" width="2.44" height="17.82" fill="#22a785"/><rect x="453.06" width="2.44" height="17.82" fill="#20a486"/><rect x="455.20" width="2.44" height="17.82" fill="#1fa187"/><rect x="457.34" width="2.44" height="17.82" fill="#21a585"/><rect x="459.48" width="2.44" height="17.82" fill="#26ad81"/><rect x="461.62" width="2.44" height="17.82" fill="#24aa83"/><rect x="463.76" width="2.44" height="17.82" fill="#22a884"/><rect x="465.90" width="6.72" height="17.82" fill="#25ac82"/><rect x="472.32" width="2.44" height="17.82" fill="#23a983"/><rect x="474.46" width="4.58" height="17.82" fill="#25ab82"/><rect x="478.74" width="2.44" height="17.82" fill="#24aa83"/><rect x="480.88" width="2.44" height="17.82" fill="#26ad81"/><rect x="483.02" width="2.44" height="17.82" fill="#28ae80"/><rect x="485.16" width="2.44" height="17.82" fill="#2fb47c"/><rect x="487.30" width="2.44" height="17.82" fill="#32b67a"/><rect x="489.44" width="2.44" height="17.82" fill="#28ae80"/><rect x="491.58" width="2.44" height="17.82" fill="#22a884"/><rect x="493.72" width="2.44" height="17.82" fill="#26ad81"/><rect x="495.86" width="2.44" height="17.82" fill="#29af7f"/><rect x="498.00" width="2.44" height="17.82" fill="#28ae80"/><rect x="500.14" width="2.44" height="17.82" fill="#31b57b"/><rect x="502.28" width="2.44" height="17.82" fill="#2db27d"/><rect x="504.42" width="2.44" height="17.82" fill="#26ad81"/><rect x="506.56" width="2.44" height="17.82" fill="#2ab07f"/><rect x="508.70" width="2.44" height="17.82" fill="#2fb47c"/><rect x="510.84" width="2.44" height="17.82" fill="#2db27d"/><rect x="512.98" width="2.44" height="17.82" fill="#2eb37c"/><rect x="515.12" width="2.44" height="17.82" fill="#2cb17e"/><rect x="517.26" width="2.44" height="17.82" fill="#27ad81"/><rect x="519.40" width="2.44" height="17.82" fill="#2cb17e"/><rect x="521.54" width="2.44" height="17.82" fill="#2eb37c"/><rect x="523.68" width="2.44" height="17.82" fill="#29af7f"/><rect x="525.82" width="2.44" height="17.82" fill="#2eb37c"/><rect x="527.96" width="4.58" height="17.82" fill="#37b878"/><rect x="532.24" width="2.44" height="17.82" fill="#34b679"/><rect x="534.38" width="2.44" height="17.82" fill="#31b57b"/><rect x="536.52" width="2.44" height="17.82" fill="#34b679"/><rect x="538.66" width="2.44" height="17.82" fill="#38b977"/><rect x="540.80" width="2.44" height="17.82" fill="#3bbb75"/><rect x="542.94" width="2.44" height="17.82" fill="#3dbc74"/><rect x="545.08" width="2.44" height="17.82" fill="#40bd72"/><rect x="547.22" width="2.44" height="17.82" fill="#4ac16d"/><rect x="549.36" width="2.44" height="17.82" fill="#54c568"/><rect x="551.50" width="2.44" height="17.82" fill="#4ac16d"/><rect x="553.64" width="2.44" height="17.82" fill="#44bf70"/><rect x="555.78" width="2.44" height="17.82" fill="#4ec36b"/><rect x="557.92" width="2.44" height="17.82" fill="#48c16e"/><rect x="560.06" width="2.44" height="17.82" fill="#40bd72"/><rect x="562.20" width="2.44" height="17.82" fill="#42be71"/><rect x="564.34" width="2.44" height="17.82" fill="#4cc26c"/><rect x="566.48" width="4.58" height="17.82" fill="#52c569"/><rect x="570.76" width="2.44" height="17.82" fill="#50c46a"/><rect x="572.90" width="2.44" height="17.82" fill="#58c765"/><rect x="575.04" width="2.44" height="17.82" fill="#5cc863"/><rect x="577.18" width="2.44" height="17.82" fill="#48c16e"/><rect x="579.32" width="2.44" height="17.82" fill="#42be71"/><rect x="581.46" width="2.44" height="17.82" fill="#44bf70"/><rect x="583.60" width="2.44" height="17.82" fill="#3aba76"/><rect x="585.74" width="2.44" height="17.82" fill="#42be71"/><rect x="587.88" width="2.44" height="17.82" fill="#58c765"/><rect x="590.02" width="2.44" height="17.82" fill="#5ac864"/><rect x="592.16" width="2.44" height="17.82" fill="#4ec36b"/><rect x="594.30" width="2.44" height="17.82" fill="#4cc26c"/><rect x="596.44" width="2.44" height="17.82" fill="#5cc863"/><rect x="598.58" width="2.44" height="17.82" fill="#60ca60"/><rect x="600.72" width="4.58" height="17.82" fill="#56c667"/>
</g>
<g transform="translate(0,69.08)">
<rect x="70.00" width="2.44" height="17.82" fill="#481c6e"/><rect x="72.14" width="2.44" height="17.82" fill="#481668"/><rect x="74.28" width="2.44" height="17.82" fill="#470e61"/><rect x="76.42" width="4.58" height="17.82" fill="#460b5e"/><rect x="80.70" width="4.58" height="17.82" fill="#470d60"/><rect x="84.98" width="2.44" height="17.82" fill="#470e61"/><rect x="87.12" width="2.44" height="17.82" fill="#471063"/><rect x="89.26" width="2.44" height="17.82" fill="#471164"/><rect x="91.40" width="2.44" height="17.82" fill="#471365"/><rect x="93.54" width="4.58" height="17.82" fill="#481467"/><rect x="97.82" width="4.58" height="17.82" fill="#481668"/><rect x="102.10" width="6.72" height="17.82" fill="#481769"/><rect x="108.52" width="2.44" height="17.82" fill="#48186a"/><rect x="110.66" width="4.58" height="17.82" fill="#481a6c"/><rect x="114.94" width="2.44" height="17.82" fill="#481b6d"/><rect x="117.08" width="2.44" height="17.82" fill="#481c6e"/><rect x="119.22" width="2.44" height="17.82" fill="#481d6f"/><rect x="121.36" width="2.44" height="17.82" fill="#482071"/><rect x="123.50" width="2.44" height="17.82" fill="#482173"/><rect x="125.64" width="2.44" height="17.82" fill="#482475"/><rect x="127.78" width="4.58" height="17.82" fill="#482576"/><rect x="132.06" width="4.58" height="17.82" fill="#482475"/><rect x="136.34" width="4.58" height="17.82" fill="#482374"/><rect x="140.62" width="4.58" height="17.82" fill="#482173"/><rect x="144.90" width="4.58" height="17.82" fill="#482071"/><rect x="149.18" width="4.58" height="17.82" fill="#482173"/><rect x="153.46" width="2.44" height="17.82" fill="#482374"/><rect x="155.60" width="6.72" height="17.82" fill="#482475"/><rect x="162.02" width="4.58" height="17.82" fill="#482677"/><rect x="166.30" width="2.44" height="17.82" fill="#482878"/><rect x="168.44" width="2.44" height="17.82" fill="#482979"/><rect x="170.58" width="2.44" height="17.82" fill="#472a7a"/><rect x="172.72" width="6.72" height="17.82" fill="#472c7a"/><rect x="179.14" width="4.58" height="17.82" fill="#472d7b"/><rect x="183.42" width="4.58" height="17.82" fill="#472e7c"/><rect x="187.70" width="2.44" height="17.82" fill="#472f7d"/><rect x="189.84" width="2.44" height="17.82" fill="#46307e"/><rect x="191.98" width="6.72" height="17.82" fill="#46327e"/><rect x="198.40" width="4.58" height="17.82" fill="#463480"/><rect x="202.68" width="2.44" height="17.82" fill="#453581"/><rect x="204.82" width="2.44" height="17.82" fill="#453882"/><rect x="206.96" width="2.44" height="17.82" fill="#443983"/><rect x="209.10" width="2.44" height="17.82" fill="#443b84"/><rect x="211.24" width="2.44" height="17.82" fill="#433d84"/><rect x="213.38" width="2.44" height="17.82" fill="#433e85"/><rect x="215.52" width="2.44" height="17.82" fill="#424086"/><rect x="217.66" width="2.44" height="17.82" fill="#414487"/><rect x="219.80" width="2.44" height="17.82" fill="#404688"/><rect x="221.94" width="2.44" height="17.82" fill="#3f4788"/><rect x="224.08" width="2.44" height="17.82" fill="#3f4889"/><rect x="226.22" width="2.44" height="17.82" fill="#3e4a89"/><rect x="228.36" width="2.44" height="17.82" fill="#3e4c8a"/><rect x="230.50" width="2.44" height="17.82" fill="#3d4d8a"/><rect x="232.64" width="2.44" height="17.82" fill="#3c4f8a"/><rect x="234.78" width="2.44" height="17.82" fill="#3b518b"/><rect x="236.92" width="2.44" height="17.82" fill="#3a538b"/><rect x="239.06" width="4.58" height="17.82" fill="#39558c"/><rect x="243.34" width="2.44" height="17.82" fill="#39568c"/><rect x="245.48" width="2.44" height="17.82" fill="#38588c"/><rect x="247.62" width="2.44" height="17.82" fill="#375b8d"/><rect x="249.76" width="6.72" height="17.82" fill="#365c8d"/><rect x="256.18" width="4.58" height="17.82" fill="#365d8d"/><rect x="260.46" width="2.44" height="17.82" fill="#365c8d"/><rect x="262.60" width="2.44" height="17.82" fill="#355e8d"/><rect x="264.74" width="2.44" height="17.82" fill="#34608d"/><rect x="266.88" width="2.44" height="17.82" fill="#33628d"/><rect x="269.02" width="4.58" height="17.82" fill="#31668e"/><rect x="273.30" width="2.44" height="17.82" fill="#32658e"/><rect x="275.44" width="2.44" height="17.82" fill="#31668e"/><rect x="277.58" width="2.44" height="17.82" fill="#31688e"/><rect x="279.72" width="2.44" height="17.82" fill="#30698e"/><rect x="281.86" width="4.58" height="17.82" fill="#306a8e"/><rect x="286.14" width="6.72" height="17.82" fill="#2f6b8e"/><rect x="292.56" width="2.44" height="17.82" fill="#2f6c8e"/><rect x="294.70" width="2.44" height="17.82" fill="#2e6d8e"/><rect x="296.84" width="4.58" height="17.82" fill="#2e6e8e"/><rect x="301.12" width="2.44" height="17.82" fill="#2e6f8e"/><rect x="303.26" width="4.58" height="17.82" fill="#2c718e"/><rect x="307.54" width="2.44" height="17.82" fill="#2d708e"/><rect x="309.68" width="2.44" height="17.82" fill="#2d718e"/><rect x="311.82" width="2.44" height="17.82" fill="#2e6f8e"/><rect x="313.96" width="2.44" height="17.82" fill="#2e6e8e"/><rect x="316.10" width="2.44" height="17.82" fill="#2c718e"/><rect x="318.24" width="2.44" height="17.82" fill="#2d718e"/><rect x="320.38" width="4.58" height="17.82" fill="#2c738e"/><rect x="324.66" width="2.44" height="17.82" fill="#2c728e"/><rect x="326.80" width="4.58" height="17.82" fill="#2b758e"/><rect x="331.08" width="2.44" height="17.82" fill="#2a778e"/><rect x="333.22" width="2.44" height="17.82" fill="#2c738e"/><rect x="335.36" width="2.44" height="17.82" fill="#2b748e"/><rect x="337.50" width="4.58" height="17.82" fill="#297b8e"/><rect x="341.78" width="2.44" height="17.82" fill="#2a788e"/><rect x="343.92" width="4.58" height="17.82" fill="#29798e"/><rect x="348.20" width="4.58" height="17.82" fill="#297b8e"/><rect x="352.48" width="2.44" height="17.82" fill="#29798e"/><rect x="354.62" width="2.44" height="17.82" fill="#297b8e"/><rect x="356.76" width="2.44" height="17.82" fill="#287c8e"/><rect x="358.90" width="2.44" height="17.82" fill="#297b8e"/><rect x="361.04" width="2.44" height="17.82" fill="#277f8e"/><rect x="363.18" width="2.44" height="17.82" fill="#27808e"/><rect x="365.32" width="2.44" height="17.82" fill="#277f8e"/><rect x="367.46" width="2.44" height="17.82" fill="#27808e"/><rect x="369.60" width="2.44" height="17.82" fill="#287d8e"/><rect x="371.74" width="2.44" height="17.82" fill="#277e8e"/><rect x="373.88" width="2.44" height="17.82" fill="#277f8e"/><rect x="376.02" width="2.44" height="17.82" fill="#27808e"/><rect x="378.16" width="2.44" height="17.82" fill="#26818e"/><rect x="380.30" width="2.44" height="17.82" fill="#27808e"/><rect x="382.44" width="4.58" height="17.82" fill="#26818e"/><rect x="386.72" width="4.58" height="17.82" fill="#24868e"/><rect x="391.00" width="2.44" height="17.82" fill="#26828e"/><rect x="393.14" width="2.44" height="17.82" fill="#25848e"/><rect x="395.28" width="2.44" height="17.82" fill="#238a8d"/><rect x="397.42" width="2.44" height="17.82" fill="#25848e"/><rect x="399.56" width="2.44" height="17.82" fill="#26828e"/><rect x="401.70" width="2.44" height="17.82" fill="#24868e"/><rect x="403.84" width="2.44" height="17.82" fill="#26828e"/><rect x="405.98" width="2.44" height="17.82" fill="#25848e"/><rect x="408.12" width="4.58" height="17.82" fill="#23898e"/><rect x="412.40" width="2.44" height="17.82" fill="#23888e"/><rect x="414.54" width="4.58" height="17.82" fill="#238a8d"/><rect x="418.82" width="2.44" height="17.82" fill="#23898e"/><rect x="420.96" width="2.44" height="17.82" fill="#23888e"/><rect x="423.10" width="2.44" height="17.82" fill="#24878e"/><rect x="425.24" width="2.44" height="17.82" fill="#218e8d"/><rect x="427.38" width="2.44" height="17.82" fill="#218f8d"/><rect x="429.52" width="2.44" height="17.82" fill="#228d8d"/><rect x="431.66" width="4.58" height="17.82" fill="#218f8d"/><rect x="435.94" width="2.44" height="17.82" fill="#228d8d"/><rect x="438.08" width="2.44" height="17.82" fill="#21908d"/><rect x="440.22" width="2.44" height="17.82" fill="#21918c"/><rect x="442.36" width="4.58" height="17.82" fill="#218f8d"/><rect x="446.64" width="2.44" height="17.82" fill="#20928c"/><rect x="448.78" width="2.44" height="17.82" fill="#1f958b"/><rect x="450.92" width="2.44" height="17.82" fill="#20928c"/><rect x="453.06" width="2.44" height="17.82" fill="#21908d"/><rect x="455.20" width="2.44" height="17.82" fill="#228d8d"/><rect x="457.34" width="2.44" height="17.82" fill="#218f8d"/><rect x="459.48" width="2.44" height="17.82" fill="#1f948c"/><rect x="461.62" width="4.58" height="17.82" fill="#20928c"/><rect x="465.90" width="2.44" height="17.82" fill="#1f948c"/><rect x="468.04" width="2.44" height="17.82" fill="#1f958b"/><rect x="470.18" width="2.44" height="17.82" fill="#1f948c"/><rect x="472.32" width="2.44" height="17.82" fill="#20928c"/><rect x="474.46" width="2.44" height="17.82" fill="#1f948c"/><rect x="476.60" width="2.44" height="17.82" fill="#20938c"/><rect x="478.74" width="2.44" height="17.82" fill="#20928c"/><rect x="480.88" width="4.58" height="17.82" fill="#1f968b"/><rect x="485.16" width="2.44" height="17.82" fill="#1f9a8a"/><rect x="487.30" width="2.44" height="17.82" fill="#1f9e89"/><rect x="489.44" width="2.44" height="17.82" fill="#1f978b"/><rect x="491.58" width="2.44" height="17.82" fill="#21908d"/><rect x="493.72" width="2.44" height="17.82" fill="#20938c"/><rect x="495.86" width="2.44" height="17.82" fill="#1f968b"/><rect x="498.00" width="2.44" height="17.82" fill="#1f978b"/><rect x="500.14" width="2.44" height="17.82" fill="#1f9a8a"/><rect x="502.28" width="2.44" height="17.82" fill="#1f978b"/><rect x="504.42" width="2.44" height="17.82" fill="#20928c"/><rect x="506.56" width="2.44" height="17.82" fill="#1f968b"/><rect x="508.70" width="2.44" height="17.82" fill="#1e9b8a"/><rect x="510.84" width="2.44" height="17.82" fill="#1f998a"/><rect x="512.98" width="2.44" height="17.82" fill="#1f988b"/><rect x="515.12" width="8.86" height="17.82" fill="#1f978b"/><rect x="523.68" width="2.44" height="17.82" fill="#1f958b"/><rect x="525.82" width="2.44" height="17.82" fill="#1f988b"/><rect x="527.96" width="2.44" height="17.82" fill="#1e9c89"/><rect x="530.10" width="2.44" height="17.82" fill="#1e9b8a"/><rect x="532.24" width="8.86" height="17.82" fill="#1f998a"/><rect x="540.80" width="4.58" height="17.82" fill="#1f9e89"/><rect x="545.08" width="2.44" height="17.82" fill="#1f9f88"/><rect x="547.22" width="2.44" height="17.82" fill="#1fa187"/><rect x="549.36" width="2.44" height="17.82" fill="#20a486"/><rect x="551.50" width="2.44" height="17.82" fill="#20a386"/><rect x="553.64" width="2.44" height="17.82" fill="#1f9f88"/><rect x="555.78" width="2.44" height="17.82" fill="#1fa188"/><rect x="557.92" width="2.44" height="17.82" fill="#1fa187"/><rect x="560.06" width="2.44" height="17.82" fill="#1f9f88"/><rect x="562.20" width="2.44" height="17.82" fill="#1e9c89"/><rect x="564.34" width="2.44" height="17.82" fill="#1fa287"/><rect x="566.48" width="2.44" height="17.82" fill="#21a585"/><rect x="568.62" width="2.44" height="17.82" fill="#1fa287"/><rect x="570.76" width="2.44" height="17.82" fill="#1fa188"/><rect x="572.90" width="2.44" height="17.82" fill="#1fa287"/><rect x="575.04" width="2.44" height="17.82" fill="#20a486"/><rect x="577.18" width="6.72" height="17.82" fill="#1f9e89"/><rect x="583.60" width="2.44" height="17.82" fill="#1f988b"/><rect x="585.74" width="2.44" height="17.82" fill="#1e9b8a"/><rect x="587.88" width="2.44" height="17.82" fill="#20a486"/><rect x="590.02" width="2.44" height="17.82" fill="#21a685"/><rect x="592.16" width="2.44" height="17.82" fill="#1fa088"/><rect x="594.30" width="2.44" height="17.82" fill="#1f9e89"/><rect x="596.44" width="2.44" height="17.82" fill="#1fa287"/><rect x="598.58" width="2.44" height="17.82" fill="#20a486"/><rect x="600.72" width="2.44" height="17.82" fill="#21a585"/><rect x="602.86" width="2.44" height="17.82" fill="#20a486"/>
</g>
<g transform="translate(0,51.57)">
<rect x="70.00" width="2.44" height="17.82" fill="#481c6e"/><rect x="72.14" width="2.44" height="17.82" fill="#481467"/><rect x="74.28" width="2.44" height="17.82" fill="#460a5d"/><rect x="76.42" width="2.44" height="17.82" fill="#450559"/><rect x="78.56" width="4.58" height="17.82" fill="#46075a"/><rect x="82.84" width="4.58" height="17.82" fill="#46085c"/><rect x="87.12" width="4.58" height="17.82" fill="#460a5d"/><rect x="91.40" width="4.58" height="17.82" fill="#460b5e"/><rect x="95.68" width="4.58" height="17.82" fill="#470d60"/><rect x="99.96" width="8.86" height="17.82" fill="#470e61"/><rect x="108.52" width="2.44" height="17.82" fill="#471063"/><rect x="110.66" width="6.72" height="17.82" fill="#471164"/><rect x="117.08" width="2.44" height="17.82" fill="#471365"/><rect x="119.22" width="2.44" height="17.82" fill="#481467"/><rect x="121.36" width="2.44" height="17.82" fill="#481769"/><rect x="123.50" width="2.44" height="17.82" fill="#481a6c"/><rect x="125.64" width="2.44" height="17.82" fill="#481b6d"/><rect x="127.78" width="6.72" height="17.82" fill="#481c6e"/><rect x="134.20" width="2.44" height="17.82" fill="#481b6d"/><rect x="136.34" width="2.44" height="17.82" fill="#481a6c"/><rect x="138.48" width="2.44" height="17.82" fill="#48186a"/><rect x="140.62" width="4.58" height="17.82" fill="#481769"/><rect x="144.90" width="4.58" height="17.82" fill="#481668"/><rect x="149.18" width="4.58" height="17.82" fill="#481769"/><rect x="153.46" width="2.44" height="17.82" fill="#48186a"/><rect x="155.60" width="6.72" height="17.82" fill="#481a6c"/><rect x="162.02" width="2.44" height="17.82" fill="#481b6d"/><rect x="164.16" width="2.44" height="17.82" fill="#481c6e"/><rect x="166.30" width="2.44" height="17.82" fill="#481d6f"/><rect x="168.44" width="2.44" height="17.82" fill="#481f70"/><rect x="170.58" width="2.44" height="17.82" fill="#482071"/><rect x="172.72" width="2.44" height="17.82" fill="#482173"/><rect x="174.86" width="4.58" height="17.82" fill="#482374"/><rect x="179.14" width="2.44" height="17.82" fill="#482475"/><rect x="181.28" width="2.44" height="17.82" fill="#482576"/><rect x="183.42" width="4.58" height="17.82" fill="#482677"/><rect x="187.70" width="2.44" height="17.82" fill="#482979"/><rect x="189.84" width="2.44" height="17.82" fill="#472a7a"/><rect x="191.98" width="4.58" height="17.82" fill="#472d7b"/><rect x="196.26" width="2.44" height="17.82" fill="#472e7c"/><rect x="198.40" width="2.44" height="17.82" fill="#472f7d"/><rect x="200.54" width="2.44" height="17.82" fill="#46327e"/><rect x="202.68" width="2.44" height="17.82" fill="#463480"/><rect x="204.82" width="2.44" height="17.82" fill="#453781"/><rect x="206.96" width="2.44" height="17.82" fill="#443a83"/><rect x="209.10" width="2.44" height="17.82" fill="#433d84"/><rect x="211.24" width="2.44" height="17.82" fill="#423f85"/><rect x="213.38" width="2.44" height="17.82" fill="#424186"/><rect x="215.52" width="2.44" height="17.82" fill="#404588"/><rect x="217.66" width="2.44" height="17.82" fill="#3f4788"/><rect x="219.80" width="2.44" height="17.82" fill="#3e4a89"/><rect x="221.94" width="2.44" height="17.82" fill="#3d4d8a"/><rect x="224.08" width="2.44" height="17.82" fill="#3c508b"/><rect x="226.22" width="2.44" height="17.82" fill="#3a538b"/><rect x="228.36" width="2.44" height="17.82" fill="#39568c"/><rect x="230.50" width="2.44" height="17.82" fill="#38598c"/><rect x="232.64" width="2.44" height="17.82" fill="#375b8d"/><rect x="234.78" width="2.44" height="17.82" fill="#355e8d"/><rect x="236.92" width="2.44" height="17.82" fill="#34618d"/><rect x="239.06" width="2.44" height="17.82" fill="#32648e"/><rect x="241.20" width="2.44" height="17.82" fill="#31668e"/><rect x="243.34" width="2.44" height="17.82" fill="#31688e"/><rect x="245.48" width="2.44" height="17.82" fill="#30698e"/><rect x="247.62" width="2.44" height="17.82" fill="#2f6b8e"/><rect x="249.76" width="2.44" height="17.82" fill="#2e6e8e"/><rect x="251.90" width="2.44" height="17.82" fill="#2e6f8e"/><rect x="254.04" width="2.44" height="17.82" fill="#2d708e"/><rect x="256.18" width="2.44" height="17.82" fill="#2d718e"/><rect x="258.32" width="2.44" height="17.82" fill="#2c718e"/><rect x="260.46" width="2.44" height="17.82" fill="#2d718e"/><rect x="262.60" width="2.44" height="17.82" fill="#2c738e"/><rect x="264.74" width="2.44" height="17.82" fill="#2a768e"/><rect x="266.88" width="2.44" height="17.82" fill="#2a788e"/><rect x="269.02" width="2.44" height="17.82" fill="#287d8e"/><rect x="271.16" width="2.44" height="17.82" fill="#287c8e"/><rect x="273.30" width="2.44" height="17.82" fill="#297b8e"/><rect x="275.44" width="2.44" height="17.82" fill="#277e8e"/><rect x="277.58" width="2.44" height="17.82" fill="#27808e"/><rect x="279.72" width="2.44" height="17.82" fill="#26818e"/><rect x="281.86" width="2.44" height="17.82" fill="#26828e"/><rect x="284.00" width="2.44" height="17.82" fill="#25838e"/><rect x="286.14" width="2.44" height="17.82" fill="#25858e"/><rect x="288.28" width="4.58" height="17.82" fill="#25848e"/><rect x="292.56" width="4.58" height="17.82" fill="#23888e"/><rect x="296.84" width="2.44" height="17.82" fill="#23898e"/><rect x="298.98" width="2.44" height="17.82" fill="#228b8d"/><rect x="301.12" width="2.44" height="17.82" fill="#228d8d"/><rect x="303.26" width="6.72" height="17.82" fill="#218f8d"/><rect x="309.68" width="2.44" height="17.82" fill="#21908d"/><rect x="311.82" width="2.44" height="17.82" fill="#218f8d"/><rect x="313.96" width="2.44" height="17.82" fill="#218e8d"/><rect x="316.10" width="2.44" height="17.82" fill="#20938c"/><rect x="318.24" width="4.58" height="17.82" fill="#20928c"/><rect x="322.52" width="2.44" height="17.82" fill="#1f948c"/><rect x="324.66" width="2.44" height="17.82" fill="#1f968b"/><rect x="326.80" width="2.44" height="17.82" fill="#1f998a"/><rect x="328.94" width="2.44" height="17.82" fill="#1f9a8a"/><rect x="331.08" width="2.44" height="17.82" fill="#1e9c89"/><rect x="333.22" width="2.44" height="17.82" fill="#1f9a8a"/><rect x="335.36" width="2.44" height="17.82" fill="#1e9d89"/><rect x="337.50" width="2.44" height="17.82" fill="#20a386"/><rect x="339.64" width="2.44" height="17.82" fill="#1fa287"/><rect x="341.78" width="2.44" height="17.82" fill="#1fa187"/><rect x="343.92" width="2.44" height="17.82" fill="#1fa287"/><rect x="346.06" width="2.44" height="17.82" fill="#1fa187"/><rect x="348.20" width="2.44" height="17.82" fill="#20a386"/><rect x="350.34" width="11.00" height="17.82" fill="#21a585"/><rect x="361.04" width="2.44" height="17.82" fill="#25ab82"/><rect x="363.18" width="2.44" height="17.82" fill="#26ad81"/><rect x="365.32" width="2.44" height="17.82" fill="#28ae80"/><rect x="367.46" width="2.44" height="17.82" fill="#2ab07f"/><rect x="369.60" width="2.44" height="17.82" fill="#25ac82"/><rect x="371.74" width="2.44" height="17.82" fill="#25ab82"/><rect x="373.88" width="2.44" height="17.82" fill="#25ac82"/><rect x="376.02" width="2.44" height="17.82" fill="#28ae80"/><rect x="378.16" width="2.44" height="17.82" fill="#2ab07f"/><rect x="380.30" width="2.44" height="17.82" fill="#29af7f"/><rect x="382.44" width="2.44" height="17.82" fill="#27ad81"/><rect x="384.58" width="2.44" height="17.82" fill="#29af7f"/><rect x="386.72" width="4.58" height="17.82" fill="#31b57b"/><rect x="391.00" width="2.44" height="17.82" fill="#2cb17e"/><rect x="393.14" width="2.44" height="17.82" fill="#2fb47c"/><rect x="395.28" width="2.44" height="17.82" fill="#38b977"/><rect x="397.42" width="2.44" height="17.82" fill="#37b878"/><rect x="399.56" width="4.58" height="17.82" fill="#31b57b"/><rect x="403.84" width="2.44" height="17.82" fill="#2ab07f"/><rect x="405.98" width="2.44" height="17.82" fill="#32b67a"/><rect x="408.12" width="2.44" height="17.82" fill="#3bbb75"/><rect x="410.26" width="2.44" height="17.82" fill="#38b977"/><rect x="412.40" width="2.44" height="17.82" fill="#35b779"/><rect x="414.54" width="2.44" height="17.82" fill="#38b977"/><rect x="416.68" width="2.44" height="17.82" fill="#3bbb75"/><rect x="418.82" width="2.44" height="17.82" fill="#3aba76"/><rect x="420.96" width="2.44" height="17.82" fill="#37b878"/><rect x="423.10" width="2.44" height="17.82" fill="#35b779"/><rect x="425.24" width="2.44" height="17.82" fill="#3dbc74"/><rect x="427.38" width="2.44" height="17.82" fill="#3fbc73"/><rect x="429.52" width="2.44" height="17.82" fill="#3aba76"/><rect x="431.66" width="2.44" height="17.82" fill="#3fbc73"/><rect x="433.80" width="2.44" height="17.82" fill="#3dbc74"/><rect x="435.94" width="2.44" height="17.82" fill="#3bbb75"/><rect x="438.08" width="2.44" height="17.82" fill="#40bd72"/><rect x="440.22" width="2.44" height="17.82" fill="#44bf70"/><rect x="442.36" width="2.44" height="17.82" fill="#42be71"/><rect x="444.50" width="2.44" height="17.82" fill="#46c06f"/><rect x="446.64" width="2.44" height="17.82" fill="#4ec36b"/><rect x="448.78" width="2.44" height="17.82" fill="#4cc26c"/><rect x="450.92" width="2.44" height="17.82" fill="#46c06f"/><rect x="453.06" width="2.44" height="17.82" fill="#40bd72"/><rect x="455.20" width="2.44" height="17.82" fill="#3bbb75"/><rect x="457.34" width="2.44" height="17.82" fill="#42be71"/><rect x="459.48" width="4.58" height="17.82" fill="#4ec36b"/><rect x="463.76" width="2.44" height="17.82" fill="#4ac16d"/><rect x="465.90" width="2.44" height="17.82" fill="#4cc26c"/><rect x="468.04" width="2.44" height="17.82" fill="#4ec36b"/><rect x="470.18" width="2.44" height="17.82" fill="#52c569"/><rect x="472.32" width="4.58" height="17.82" fill="#50c46a"/><rect x="476.60" width="2.44" height="17.82" fill="#4cc26c"/><rect x="478.74" width="2.44" height="17.82" fill="#4ac16d"/><rect x="480.88" width="2.44" height="17.82" fill="#52c569"/><rect x="483.02" width="2.44" height="17.82" fill="#50c46a"/><rect x="485.16" width="2.44" height="17.82" fill="#56c667"/><rect x="487.30" width="2.44" height="17.82" fill="#5cc863"/><rect x="489.44" width="2.44" height="17.82" fill="#50c46a"/><rect x="491.58" width="2.44" height="17.82" fill="#3dbc74"/><rect x="493.72" width="2.44" height="17.82" fill="#46c06f"/><rect x="495.86" width="2.44" height="17.82" fill="#50c46a"/><rect x="498.00" width="2.44" height="17.82" fill="#4ec36b"/><rect x="500.14" width="2.44" height="17.82" fill="#56c667"/><rect x="502.28" width="2.44" height="17.82" fill="#4ec36b"/><rect x="504.42" width="2.44" height="17.82" fill="#42be71"/><rect x="506.56" width="2.44" height="17.82" fill="#4ec36b"/><rect x="508.70" width="2.44" height="17.82" fill="#58c765"/><rect x="510.84" width="2.44" height="17.82" fill="#56c667"/><rect x="512.98" width="4.58" height="17.82" fill="#54c568"/><rect x="517.26" width="2.44" height="17.82" fill="#4ec36b"/><rect x="519.40" width="2.44" height="17.82" fill="#50c46a"/><rect x="521.54" width="2.44" height="17.82" fill="#52c569"/><rect x="523.68" width="2.44" height="17.82" fill="#4ac16d"/><rect x="525.82" width="2.44" height="17.82" fill="#52c569"/><rect x="527.96" width="4.58" height="17.82" fill="#5ec962"/><rect x="532.24" width="2.44" height="17.82" fill="#56c667"/><rect x="534.38" width="2.44" height="17.82" fill="#50c46a"/><rect x="536.52" width="4.58" height="17.82" fill="#52c569"/><rect x="540.80" width="2.44" height="17.82" fill="#5cc863"/><rect x="542.94" width="2.44" height="17.82" fill="#63cb5f"/><rect x="545.08" width="2.44" height="17.82" fill="#65cb5e"/><rect x="547.22" width="2.44" height="17.82" fill="#67cc5c"/><rect x="549.36" width="2.44" height="17.82" fill="#75d054"/><rect x="551.50" width="2.44" height="17.82" fill="#6ece58"/><rect x="553.64" width="2.44" height="17.82" fill="#60ca60"/><rect x="555.78" width="4.58" height="17.82" fill="#65cb5e"/><rect x="560.06" width="2.44" height="17.82" fill="#63cb5f"/><rect x="562.20" width="2.44" height="17.82" fill="#5cc863"/><rect x="564.34" width="2.44" height="17.82" fill="#65cb5e"/><rect x="566.48" width="2.44" height="17.82" fill="#69cd5b"/><rect x="568.62" width="4.58" height="17.82" fill="#67cc5c"/><rect x="572.90" width="2.44" height="17.82" fill="#6ece58"/><rect x="575.04" width="2.44" height="17.82" fill="#70cf57"/><rect x="577.18" width="2.44" height="17.82" fill="#5ec962"/><rect x="579.32" width="4.58" height="17.82" fill="#5ac864"/><rect x="583.60" width="2.44" height="17.82" fill="#4cc26c"/><rect x="585.74" width="2.44" height="17.82" fill="#56c667"/><rect x="587.88" width="2.44" height="17.82" fill="#70cf57"/><rect x="590.02" width="2.44" height="17.82" fill="#73d056"/><rect x="592.16" width="2.44" height="17.82" fill="#67cc5c"/><rect x="594.30" width="2.44" height="17.82" fill="#60ca60"/><rect x="596.44" width="2.44" height="17.82" fill="#67cc5c"/><rect x="598.58" width="2.44" height="17.82" fill="#75d054"/><rect x="600.72" width="2.44" height="17.82" fill="#77d153"/><rect x="602.86" width="2.44" height="17.82" fill="#6ece58"/>
</g>
<g transform="translate(0,34.05)">
<rect x="70.00" width="2.44" height="17.82" fill="#481c6e"/><rect x="72.14" width="2.44" height="17.82" fill="#471365"/><rect x="74.28" width="2.44" height="17.82" fill="#46085c"/><rect x="76.42" width="13.14" height="17.82" fill="#450457"/><rect x="89.26" width="4.58" height="17.82" fill="#440256"/><rect x="93.54" width="6.72" height="17.82" fill="#450457"/><rect x="99.96" width="8.86" height="17.82" fill="#450559"/><rect x="108.52" width="6.72" height="17.82" fill="#46075a"/><rect x="114.94" width="4.58" height="17.82" fill="#46085c"/><rect x="119.22" width="2.44" height="17.82" fill="#460a5d"/><rect x="121.36" width="2.44" height="17.82" fill="#460b5e"/><rect x="123.50" width="2.44" height="17.82" fill="#470e61"/><rect x="125.64" width="2.44" height="17.82" fill="#471063"/><rect x="127.78" width="4.58" height="17.82" fill="#471164"/><rect x="132.06" width="2.44" height="17.82" fill="#471063"/><rect x="134.20" width="2.44" height="17.82" fill="#470e61"/><rect x="136.34" width="2.44" height="17.82" fill="#470d60"/><rect x="138.48" width="2.44" height="17.82" fill="#460b5e"/><rect x="140.62" width="4.58" height="17.82" fill="#460a5d"/><rect x="144.90" width="4.58" height="17.82" fill="#46085c"/><rect x="149.18" width="4.58" height="17.82" fill="#460a5d"/><rect x="153.46" width="8.86" height="17.82" fill="#460b5e"/><rect x="162.02" width="4.58" height="17.82" fill="#470d60"/><rect x="166.30" width="6.72" height="17.82" fill="#470e61"/><rect x="172.72" width="6.72" height="17.82" fill="#471063"/><rect x="179.14" width="4.58" height="17.82" fill="#471164"/><rect x="183.42" width="4.58" height="17.82" fill="#471365"/><rect x="187.70" width="4.58" height="17.82" fill="#481467"/><rect x="191.98" width="6.72" height="17.82" fill="#481668"/><rect x="198.40" width="4.58" height="17.82" fill="#48186a"/><rect x="202.68" width="2.44" height="17.82" fill="#481a6c"/><rect x="204.82" width="2.44" height="17.82" fill="#481b6d"/><rect x="206.96" width="2.44" height="17.82" fill="#481d6f"/><rect x="209.10" width="2.44" height="17.82" fill="#481f70"/><rect x="211.24" width="2.44" height="17.82" fill="#482173"/><rect x="213.38" width="2.44" height="17.82" fill="#482374"/><rect x="215.52" width="2.44" height="17.82" fill="#482576"/><rect x="217.66" width="2.44" height="17.82" fill="#482878"/><rect x="219.80" width="4.58" height="17.82" fill="#472a7a"/><rect x="224.08" width="2.44" height="17.82" fill="#472d7b"/><rect x="226.22" width="4.58" height="17.82" fill="#472e7c"/><rect x="230.50" width="2.44" height="17.82" fill="#472f7d"/><rect x="232.64" width="2.44" height="17.82" fill="#46307e"/><rect x="234.78" width="2.44" height="17.82" fill="#46327e"/><rect x="236.92" width="2.44" height="17.82" fill="#46337f"/><rect x="239.06" width="4.58" height="17.82" fill="#463480"/><rect x="243.34" width="4.58" height="17.82" fill="#453581"/><rect x="247.62" width="2.44" height="17.82" fill="#453781"/><rect x="249.76" width="11.00" height="17.82" fill="#453882"/><rect x="260.46" width="2.44" height="17.82" fill="#453581"/><rect x="262.60" width="2.44" height="17.82" fill="#453781"/><rect x="264.74" width="4.58" height="17.82" fill="#453882"/><rect x="269.02" width="2.44" height="17.82" fill="#443a83"/><rect x="271.16" width="2.44" height="17.82" fill="#453882"/><rect x="273.30" width="4.58" height="17.82" fill="#453581"/><rect x="277.58" width="2.44" height="17.82" fill="#453781"/><rect x="279.72" width="2.44" height="17.82" fill="#453581"/><rect x="281.86" width="2.44" height="17.82" fill="#463480"/><rect x="284.00" width="2.44" height="17.82" fill="#453581"/><rect x="286.14" width="2.44" height="17.82" fill="#463480"/><rect x="288.28" width="6.72" height="17.82" fill="#46337f"/><rect x="294.70" width="11.00" height="17.82" fill="#46307e"/><rect x="305.40" width="2.44" height="17.82" fill="#472f7d"/><rect x="307.54" width="4.58" height="17.82" fill="#472e7c"/><rect x="311.82" width="2.44" height="17.82" fill="#472c7a"/><rect x="313.96" width="2.44" height="17.82" fill="#472a7a"/><rect x="316.10" width="2.44" height="17.82" fill="#472c7a"/><rect x="318.24" width="15.28" height="17.82" fill="#472a7a"/><rect x="333.22" width="2.44" height="17.82" fill="#482677"/><rect x="335.36" width="2.44" height="17.82" fill="#482878"/><rect x="337.50" width="2.44" height="17.82" fill="#472a7a"/><rect x="339.64" width="2.44" height="17.82" fill="#482878"/><rect x="341.78" width="2.44" height="17.82" fill="#482677"/><rect x="343.92" width="2.44" height="17.82" fill="#482576"/><rect x="346.06" width="2.44" height="17.82" fill="#482475"/><rect x="348.20" width="2.44" height="17.82" fill="#482576"/><rect x="350.34" width="2.44" height="17.82" fill="#482475"/><rect x="352.48" width="4.58" height="17.82" fill="#482374"/><rect x="356.76" width="2.44" height="17.82" fill="#482173"/><rect x="358.90" width="2.44" height="17.82" fill="#481f70"/><rect x="361.04" width="2.44" height="17.82" fill="#482173"/><rect x="363.18" width="2.44" height="17.82" fill="#482475"/><rect x="365.32" width="2.44" height="17.82" fill="#482374"/><rect x="367.46" width="2.44" height="17.82" fill="#482173"/><rect x="369.60" width="2.44" height="17.82" fill="#482071"/><rect x="371.74" width="6.72" height="17.82" fill="#481f70"/><rect x="378.16" width="2.44" height="17.82" fill="#481d6f"/><rect x="380.30" width="2.44" height="17.82" fill="#481f70"/><rect x="382.44" width="2.44" height="17.82" fill="#481c6e"/><rect x="384.58" width="2.44" height="17.82" fill="#481b6d"/><rect x="386.72" width="4.58" height="17.82" fill="#481d6f"/><rect x="391.00" width="2.44" height="17.82" fill="#481a6c"/><rect x="393.14" width="2.44" height="17.82" fill="#481b6d"/><rect x="395.28" width="2.44" height="17.82" fill="#481f70"/><rect x="397.42" width="2.44" height="17.82" fill="#481b6d"/><rect x="399.56" width="4.58" height="17.82" fill="#481a6c"/><rect x="403.84" width="2.44" height="17.82" fill="#481769"/><rect x="405.98" width="2.44" height="17.82" fill="#48186a"/><rect x="408.12" width="2.44" height="17.82" fill="#481a6c"/><rect x="410.26" width="6.72" height="17.82" fill="#48186a"/><rect x="416.68" width="4.58" height="17.82" fill="#481769"/><rect x="420.96" width="2.44" height="17.82" fill="#481668"/><rect x="423.10" width="2.44" height="17.82" fill="#471365"/><rect x="425.24" width="2.44" height="17.82" fill="#481467"/><rect x="427.38" width="6.72" height="17.82" fill="#481668"/><rect x="433.80" width="2.44" height="17.82" fill="#481467"/><rect x="435.94" width="2.44" height="17.82" fill="#471365"/><rect x="438.08" width="4.58" height="17.82" fill="#481467"/><rect x="442.36" width="4.58" height="17.82" fill="#471365"/><rect x="446.64" width="2.44" height="17.82" fill="#481467"/><rect x="448.78" width="2.44" height="17.82" fill="#481668"/><rect x="450.92" width="2.44" height="17.82" fill="#481467"/><rect x="453.06" width="2.44" height="17.82" fill="#471365"/><rect x="455.20" width="2.44" height="17.82" fill="#471164"/><rect x="457.34" width="2.44" height="17.82" fill="#471365"/><rect x="459.48" width="4.58" height="17.82" fill="#481467"/><rect x="463.76" width="2.44" height="17.82" fill="#471365"/><rect x="465.90" width="2.44" height="17.82" fill="#481467"/><rect x="468.04" width="2.44" height="17.82" fill="#471365"/><rect x="470.18" width="11.00" height="17.82" fill="#471164"/><rect x="480.88" width="2.44" height="17.82" fill="#481467"/><rect x="483.02" width="2.44" height="17.82" fill="#471365"/><rect x="485.16" width="2.44" height="17.82" fill="#481467"/><rect x="487.30" width="2.44" height="17.82" fill="#481668"/><rect x="489.44" width="2.44" height="17.82" fill="#471164"/><rect x="491.58" width="2.44" height="17.82" fill="#470d60"/><rect x="493.72" width="2.44" height="17.82" fill="#470e61"/><rect x="495.86" width="2.44" height="17.82" fill="#471063"/><rect x="498.00" width="2.44" height="17.82" fill="#470e61"/><rect x="500.14" width="2.44" height="17.82" fill="#471164"/><rect x="502.28" width="2.44" height="17.82" fill="#471063"/><rect x="504.42" width="2.44" height="17.82" fill="#470d60"/><rect x="506.56" width="2.44" height="17.82" fill="#470e61"/><rect x="508.70" width="4.58" height="17.82" fill="#471164"/><rect x="512.98" width="2.44" height="17.82" fill="#471063"/><rect x="515.12" width="4.58" height="17.82" fill="#470e61"/><rect x="519.40" width="4.58" height="17.82" fill="#471063"/><rect x="523.68" width="2.44" height="17.82" fill="#470d60"/><rect x="525.82" width="2.44" height="17.82" fill="#470e61"/><rect x="527.96" width="4.58" height="17.82" fill="#471164"/><rect x="532.24" width="2.44" height="17.82" fill="#471063"/><rect x="534.38" width="4.58" height="17.82" fill="#470e61"/><rect x="538.66" width="8.86" height="17.82" fill="#470d60"/><rect x="547.22" width="4.58" height="17.82" fill="#471063"/><rect x="551.50" width="2.44" height="17.82" fill="#470e61"/><rect x="553.64" width="2.44" height="17.82" fill="#470d60"/><rect x="555.78" width="4.58" height="17.82" fill="#470e61"/><rect x="560.06" width="2.44" height="17.82" fill="#470d60"/><rect x="562.20" width="2.44" height="17.82" fill="#460b5e"/><rect x="564.34" width="8.86" height="17.82" fill="#470e61"/><rect x="572.90" width="2.44" height="17.82" fill="#471063"/><rect x="575.04" width="2.44" height="17.82" fill="#470e61"/><rect x="577.18" width="2.44" height="17.82" fill="#460a5d"/><rect x="579.32" width="2.44" height="17.82" fill="#46085c"/><rect x="581.46" width="2.44" height="17.82" fill="#460b5e"/><rect x="583.60" width="2.44" height="17.82" fill="#46085c"/><rect x="585.74" width="2.44" height="17.82" fill="#460a5d"/><rect x="587.88" width="4.58" height="17.82" fill="#471063"/><rect x="592.16" width="4.58" height="17.82" fill="#470d60"/><rect x="596.44" width="4.58" height="17.82" fill="#471063"/><rect x="600.72" width="4.58" height="17.82" fill="#470e61"/>
</g>
</g>
<g stroke="#6a6a6a" stroke-opacity="0.45" stroke-width="0.7" stroke-dasharray="2.7 1.0" fill="none">
<line x1="71.50" y1="34.05" x2="71.50" y2="401.9"/>
<line x1="178.50" y1="34.05" x2="178.50" y2="401.9"/>
<line x1="285.50" y1="34.05" x2="285.50" y2="401.9"/>
<line x1="392.50" y1="34.05" x2="392.50" y2="401.9"/>
<line x1="499.50" y1="34.05" x2="499.50" y2="401.9"/>
<line x1="70.0" y1="393.50" x2="605.0" y2="393.50"/>
<line x1="70.0" y1="349.50" x2="605.0" y2="349.50"/>
<line x1="70.0" y1="305.50" x2="605.0" y2="305.50"/>
<line x1="70.0" y1="262.50" x2="605.0" y2="262.50"/>
<line x1="70.0" y1="218.50" x2="605.0" y2="218.50"/>
<line x1="70.0" y1="174.50" x2="605.0" y2="174.50"/>
<line x1="70.0" y1="130.50" x2="605.0" y2="130.50"/>
<line x1="70.0" y1="87.50" x2="605.0" y2="87.50"/>
<line x1="70.0" y1="43.50" x2="605.0" y2="43.50"/>
</g>
<g fill="#616161" font-size="13.89px" letter-spacing="-0.3">
<text x="71.46" y="423" text-anchor="middle">0</text>
<text x="177.96" y="423" text-anchor="middle">50</text>
<text x="284.96" y="423" text-anchor="middle">100</text>
<text x="391.96" y="423" text-anchor="middle">150</text>
<text x="498.96" y="423" text-anchor="middle">200</text>
<text x="59.5" y="399" text-anchor="end">0.0</text>
<text x="59.5" y="355" text-anchor="end">2.5</text>
<text x="59.5" y="311" text-anchor="end">5.0</text>
<text x="59.5" y="267" text-anchor="end">7.5</text>
<text x="59.5" y="224" text-anchor="end">10.0</text>
<text x="59.5" y="180" text-anchor="end">12.5</text>
<text x="59.5" y="136" text-anchor="end">15.0</text>
<text x="59.5" y="92" text-anchor="end">17.5</text>
<text x="59.5" y="49" text-anchor="end">20.0</text>
</g>
<g fill="#bbbbbb" font-size="13.89px">
<text x="337.50" y="441.8" text-anchor="middle">draw</text>
<text transform="translate(21,220.5) rotate(-90)" text-anchor="middle">leapfrog</text>
</g>
<defs><linearGradient id="cb" x1="0" y1="1" x2="0" y2="0">
<stop offset="0.0000" stop-color="#440154"/>
<stop offset="0.0156" stop-color="#46075a"/>
<stop offset="0.0312" stop-color="#470d60"/>
<stop offset="0.0469" stop-color="#471365"/>
<stop offset="0.0625" stop-color="#48186a"/>
<stop offset="0.0781" stop-color="#481d6f"/>
<stop offset="0.0938" stop-color="#482374"/>
<stop offset="0.1094" stop-color="#482878"/>
<stop offset="0.1250" stop-color="#472d7b"/>
<stop offset="0.1406" stop-color="#46327e"/>
<stop offset="0.1562" stop-color="#453781"/>
<stop offset="0.1719" stop-color="#443b84"/>
<stop offset="0.1875" stop-color="#424086"/>
<stop offset="0.2031" stop-color="#404588"/>
<stop offset="0.2188" stop-color="#3e4989"/>
<stop offset="0.2344" stop-color="#3d4e8a"/>
<stop offset="0.2500" stop-color="#3b528b"/>
<stop offset="0.2656" stop-color="#39568c"/>
<stop offset="0.2812" stop-color="#375b8d"/>
<stop offset="0.2969" stop-color="#355f8d"/>
<stop offset="0.3125" stop-color="#33638d"/>
<stop offset="0.3281" stop-color="#31678e"/>
<stop offset="0.3438" stop-color="#2f6b8e"/>
<stop offset="0.3594" stop-color="#2e6f8e"/>
<stop offset="0.3750" stop-color="#2c728e"/>
<stop offset="0.3906" stop-color="#2a768e"/>
<stop offset="0.4062" stop-color="#297a8e"/>
<stop offset="0.4219" stop-color="#277e8e"/>
<stop offset="0.4375" stop-color="#26828e"/>
<stop offset="0.4531" stop-color="#25858e"/>
<stop offset="0.4688" stop-color="#23898e"/>
<stop offset="0.4844" stop-color="#228d8d"/>
<stop offset="0.5000" stop-color="#21918c"/>
<stop offset="0.5156" stop-color="#1f948c"/>
<stop offset="0.5312" stop-color="#1f988b"/>
<stop offset="0.5469" stop-color="#1e9c89"/>
<stop offset="0.5625" stop-color="#1fa088"/>
<stop offset="0.5781" stop-color="#20a386"/>
<stop offset="0.5938" stop-color="#22a785"/>
<stop offset="0.6094" stop-color="#25ab82"/>
<stop offset="0.6250" stop-color="#28ae80"/>
<stop offset="0.6406" stop-color="#2db27d"/>
<stop offset="0.6562" stop-color="#32b67a"/>
<stop offset="0.6719" stop-color="#38b977"/>
<stop offset="0.6875" stop-color="#3fbc73"/>
<stop offset="0.7031" stop-color="#46c06f"/>
<stop offset="0.7188" stop-color="#4ec36b"/>
<stop offset="0.7344" stop-color="#56c667"/>
<stop offset="0.7500" stop-color="#5ec962"/>
<stop offset="0.7656" stop-color="#67cc5c"/>
<stop offset="0.7812" stop-color="#70cf57"/>
<stop offset="0.7969" stop-color="#7ad151"/>
<stop offset="0.8125" stop-color="#84d44b"/>
<stop offset="0.8281" stop-color="#8ed645"/>
<stop offset="0.8438" stop-color="#98d83e"/>
<stop offset="0.8594" stop-color="#a2da37"/>
<stop offset="0.8750" stop-color="#addc30"/>
<stop offset="0.8906" stop-color="#b8de29"/>
<stop offset="0.9062" stop-color="#c2df23"/>
<stop offset="0.9219" stop-color="#cde11d"/>
<stop offset="0.9375" stop-color="#d8e219"/>
<stop offset="0.9531" stop-color="#e2e418"/>
<stop offset="0.9688" stop-color="#ece51b"/>
<stop offset="0.9844" stop-color="#f6e620"/>
<stop offset="1.0000" stop-color="#fde725"/>
</linearGradient></defs>
<rect x="631.1" y="49.8" width="18.90" height="336.20" fill="url(#cb)"/>
<path d="M631.1 50.099999999999994L640.95 34.0L650.0 50.099999999999994Z" fill="#fde725"/>
<path d="M631.1 385.7L640.95 402.0L650.0 385.7Z" fill="#440154"/>
<g fill="#616161" font-size="13.89px" letter-spacing="-0.3">
<text x="660.2" y="388">0.04</text>
<text x="660.2" y="343">0.06</text>
<text x="660.2" y="298">0.08</text>
<text x="660.2" y="253">0.10</text>
<text x="660.2" y="208">0.12</text>
<text x="660.2" y="163">0.14</text>
<text x="660.2" y="118">0.16</text>
<text x="660.2" y="73">0.18</text>
</g>
<text transform="translate(705.2,220.6) rotate(-90)" text-anchor="middle" fill="#bbbbbb" font-size="13.89px">veps</text>
<text transform="translate(722.4,23.9) scale(1,1.10)" text-anchor="middle" fill="#616161" font-size="16.67px">train: pytorch</text>
<g stroke="#dfdfdf" stroke-width="0.7" stroke-dasharray="2.7 1.0" fill="none">
<line x1="798.50" y1="35.5" x2="798.50" y2="402.0"/>
<line x1="892.50" y1="35.5" x2="892.50" y2="402.0"/>
<line x1="987.50" y1="35.5" x2="987.50" y2="402.0"/>
<line x1="1081.50" y1="35.5" x2="1081.50" y2="402.0"/>
<line x1="1176.50" y1="35.5" x2="1176.50" y2="402.0"/>
<line x1="1270.50" y1="35.5" x2="1270.50" y2="402.0"/>
<line x1="774.6" y1="390.50" x2="1292.0" y2="390.50"/>
<line x1="774.6" y1="318.50" x2="1292.0" y2="318.50"/>
<line x1="774.6" y1="246.50" x2="1292.0" y2="246.50"/>
<line x1="774.6" y1="174.50" x2="1292.0" y2="174.50"/>
<line x1="774.6" y1="102.50" x2="1292.0" y2="102.50"/>
</g>
<g fill="#616161" font-size="13.89px" letter-spacing="-0.3">
<text x="798.30" y="423" text-anchor="middle">0</text>
<text x="892.20" y="423" text-anchor="middle">50</text>
<text x="986.60" y="423" text-anchor="middle">100</text>
<text x="1081.00" y="423" text-anchor="middle">150</text>
<text x="1175.40" y="423" text-anchor="middle">200</text>
<text x="1269.80" y="423" text-anchor="middle">250</text>
<text x="764.6" y="396" text-anchor="end">0.00</text>
<text x="764.6" y="324" text-anchor="end">0.05</text>
<text x="764.6" y="252" text-anchor="end">0.10</text>
<text x="764.6" y="180" text-anchor="end">0.15</text>
<text x="764.6" y="108" text-anchor="end">0.20</text>
</g>
<text x="1033.30" y="441.8" text-anchor="middle" fill="#bbbbbb" font-size="13.89px">draw</text>
<g fill="none" stroke="#3aafa9" stroke-linejoin="round">
<path d="M798.5 317.6L800.4 332.4L802.3 345.0L804.2 350.3L806.1 350.1L807.9 349.3L809.8 348.6L811.7 346.9L813.6 345.5L815.5 344.1L817.4 342.6L819.3 341.1L821.2 340.0L823.0 338.8L824.9 338.2L826.8 337.4L828.7 337.1L830.6 336.4L832.5 335.0L834.4 334.7L836.3 334.1L838.1 333.7L840.0 332.3L841.9 331.3L843.8 330.4L845.7 329.0L847.6 327.8L849.5 325.4L851.4 325.1L853.3 327.2L855.1 328.7L857.0 329.2L858.9 330.1L860.8 331.6L862.7 332.2L864.6 331.9L866.5 331.7L868.4 331.9L870.2 331.7L872.1 331.2L874.0 330.4L875.9 331.0L877.8 330.8L879.7 329.6L881.6 329.9L883.5 329.0L885.3 328.6L887.2 327.7L889.1 327.1L891.0 326.5L892.9 326.7L894.8 326.3L896.7 326.3L898.6 325.9L900.5 324.9L902.3 323.6L904.2 323.1L906.1 323.1L908.0 322.7L909.9 323.2L911.8 322.0L913.7 321.5L915.6 319.7L917.4 317.3L919.3 315.1L921.2 313.6L923.1 312.1L925.0 311.5L926.9 310.3L928.8 307.3L930.7 306.8L932.5 308.0L934.4 307.5L936.3 306.3L938.2 305.1L940.1 304.9L942.0 304.6L943.9 301.9L945.8 300.3L947.7 299.6L949.5 300.6L951.4 300.3L953.3 299.5L955.2 300.9L957.1 300.3L959.0 300.4L960.9 300.2L962.8 298.7L964.6 298.2L966.5 299.5L968.4 300.4L970.3 299.8L972.2 299.8L974.1 295.8L976.0 297.1L977.9 297.8L979.7 299.0L981.6 297.5L983.5 299.9L985.4 303.3L987.3 302.8L989.2 303.4L991.1 303.8L993.0 304.1L994.9 303.9L996.7 303.0L998.6 302.7L1000.5 303.2L1002.4 303.4L1004.3 305.3L1006.2 303.5L1008.1 306.1L1010.0 304.1L1011.8 306.3L1013.7 306.5L1015.6 307.1L1017.5 308.2L1019.4 307.1L1021.3 306.2L1023.2 306.8L1025.1 309.5L1026.9 309.0L1028.8 307.1L1030.7 309.3L1032.6 309.4L1034.5 308.5L1036.4 308.0L1038.3 310.2L1040.2 308.8L1042.1 310.4L1043.9 309.1L1045.8 310.0L1047.7 310.7L1049.6 309.0L1051.5 312.3L1053.4 311.4L1055.3 311.2L1057.2 308.3L1059.0 310.1L1060.9 313.2L1062.8 312.4L1064.7 313.8L1066.6 312.6L1068.5 311.3L1070.4 313.8L1072.3 314.2L1074.1 315.1L1076.0 315.7L1077.9 312.6L1079.8 312.0L1081.7 314.8L1083.6 313.0L1085.5 311.7L1087.4 314.1L1089.3 316.3L1091.1 316.8L1093.0 315.4L1094.9 314.0L1096.8 315.0L1098.7 316.8L1100.6 314.2L1102.5 315.8L1104.4 312.5L1106.2 313.3L1108.1 313.4L1110.0 317.7L1111.9 316.8L1113.8 316.8L1115.7 315.5L1117.6 317.8L1119.5 317.7L1121.3 316.5L1123.2 317.1L1125.1 317.3L1127.0 318.1L1128.9 318.0L1130.8 317.5L1132.7 316.1L1134.6 317.0L1136.5 316.5L1138.3 317.8L1140.2 318.9L1142.1 316.5L1144.0 319.2L1145.9 319.5L1147.8 317.6L1149.7 316.8L1151.6 316.7L1153.4 317.8L1155.3 318.0L1157.2 318.0L1159.1 317.4L1161.0 317.7L1162.9 317.2L1164.8 316.2L1166.7 318.2L1168.5 320.9L1170.4 321.0L1172.3 319.0L1174.2 319.1L1176.1 319.1L1178.0 319.9L1179.9 319.8L1181.8 322.9L1183.7 324.2L1185.5 321.3L1187.4 324.3L1189.3 321.3L1191.2 320.8L1193.1 321.2L1195.0 322.5L1196.9 322.1L1198.8 320.4L1200.6 321.8L1202.5 321.3L1204.4 321.7L1206.3 322.6L1208.2 323.0L1210.1 322.8L1212.0 322.2L1213.9 322.0L1215.7 323.4L1217.6 323.2L1219.5 322.7L1221.4 325.3L1223.3 324.6L1225.2 323.9L1227.1 322.3L1229.0 324.2L1230.9 323.2L1232.7 322.5L1234.6 322.6L1236.5 322.4L1238.4 321.5L1240.3 323.2L1242.2 323.2L1244.1 322.6L1246.0 324.8L1247.8 324.8L1249.7 323.6L1251.6 326.6L1253.5 326.5L1255.4 323.9L1257.3 323.9L1259.2 324.3L1261.1 326.2L1262.9 325.1L1264.8 325.3L1266.7 323.2L1268.6 325.2" stroke-width="0.95" stroke-opacity="0.66"/>
<path d="M798.5 317.6L800.4 321.4L802.3 324.1L804.2 325.5L806.1 325.3L807.9 324.2L809.8 323.4L811.7 323.3L813.6 322.0L815.5 321.3L817.4 320.3L819.3 319.3L821.2 318.7L823.0 317.5L824.9 316.5L826.8 317.0L828.7 316.1L830.6 316.3L832.5 315.0L834.4 314.5L836.3 314.3L838.1 313.6L840.0 313.0L841.9 312.4L843.8 310.6L845.7 309.2L847.6 309.1L849.5 307.1L851.4 307.2L853.3 307.2L855.1 308.3L857.0 309.0L858.9 309.7L860.8 310.0L862.7 309.9L864.6 309.5L866.5 309.0L868.4 308.8L870.2 307.7L872.1 307.3L874.0 306.5L875.9 306.3L877.8 306.1L879.7 305.1L881.6 304.0L883.5 303.2L885.3 302.6L887.2 300.6L889.1 299.0L891.0 298.9L892.9 298.2L894.8 298.2L896.7 297.7L898.6 296.6L900.5 296.1L902.3 295.4L904.2 293.9L906.1 292.7L908.0 293.3L909.9 292.5L911.8 291.2L913.7 290.1L915.6 287.9L917.4 285.1L919.3 283.6L921.2 279.5L923.1 276.9L925.0 274.0L926.9 268.6L928.8 266.3L930.7 259.3L932.5 253.9L934.4 252.1L936.3 248.1L938.2 245.0L940.1 244.1L942.0 239.1L943.9 241.2L945.8 235.4L947.7 234.0L949.5 231.7L951.4 234.8L953.3 224.5L955.2 228.8L957.1 226.1L959.0 225.3L960.9 226.2L962.8 228.6L964.6 226.1L966.5 226.4L968.4 225.2L970.3 221.9L972.2 218.5L974.1 212.5L976.0 219.1L977.9 218.4L979.7 220.5L981.6 210.0L983.5 209.6L985.4 211.6L987.3 206.2L989.2 206.9L991.1 208.1L993.0 209.3L994.9 206.4L996.7 209.1L998.6 210.7L1000.5 206.1L1002.4 204.9L1004.3 204.2L1006.2 198.4L1008.1 202.1L1010.0 200.7L1011.8 201.0L1013.7 200.9L1015.6 200.5L1017.5 204.2L1019.4 206.9L1021.3 200.7L1023.2 196.5L1025.1 195.0L1026.9 197.4L1028.8 194.7L1030.7 196.3L1032.6 197.2L1034.5 191.6L1036.4 186.7L1038.3 190.1L1040.2 188.7L1042.1 186.1L1043.9 187.0L1045.8 187.5L1047.7 192.6L1049.6 185.7L1051.5 180.4L1053.4 182.5L1055.3 182.7L1057.2 178.9L1059.0 178.8L1060.9 176.6L1062.8 175.6L1064.7 179.9L1066.6 175.6L1068.5 175.3L1070.4 178.2L1072.3 172.2L1074.1 170.2L1076.0 177.6L1077.9 169.6L1079.8 160.3L1081.7 173.1L1083.6 169.3L1085.5 165.4L1087.4 171.4L1089.3 174.0L1091.1 168.5L1093.0 176.9L1094.9 169.7L1096.8 161.9L1098.7 162.0L1100.6 160.2L1102.5 151.4L1104.4 161.2L1106.2 160.5L1108.1 155.8L1110.0 158.4L1111.9 158.5L1113.8 152.8L1115.7 163.2L1117.6 154.1L1119.5 154.6L1121.3 158.8L1123.2 157.1L1125.1 152.3L1127.0 149.4L1128.9 145.4L1130.8 142.5L1132.7 137.7L1134.6 140.2L1136.5 140.4L1138.3 149.1L1140.2 149.5L1142.1 142.8L1144.0 144.3L1145.9 141.9L1147.8 142.5L1149.7 146.4L1151.6 141.7L1153.4 146.2L1155.3 145.8L1157.2 143.0L1159.1 145.2L1161.0 142.2L1162.9 145.3L1164.8 133.5L1166.7 138.1L1168.5 141.2L1170.4 148.6L1172.3 139.6L1174.2 137.5L1176.1 146.2L1178.0 136.4L1179.9 136.1L1181.8 138.5L1183.7 134.1L1185.5 135.1L1187.4 131.1L1189.3 132.2L1191.2 130.2L1193.1 131.4L1195.0 130.2L1196.9 132.0L1198.8 135.2L1200.6 133.4L1202.5 133.4L1204.4 134.6L1206.3 141.1L1208.2 134.3L1210.1 134.6L1212.0 130.7L1213.9 127.7L1215.7 121.6L1217.6 115.9L1219.5 106.9L1221.4 103.3L1223.3 101.7L1225.2 99.4L1227.1 103.8L1229.0 102.7L1230.9 101.6L1232.7 100.6L1234.6 101.3L1236.5 103.7L1238.4 100.9L1240.3 99.7L1242.2 96.2L1244.1 89.8L1246.0 95.5L1247.8 98.1L1249.7 103.4L1251.6 94.4L1253.5 100.4L1255.4 80.9L1257.3 82.6L1259.2 91.8L1261.1 93.9L1262.9 101.2L1264.8 107.4L1266.7 105.9L1268.6 102.7" stroke-width="0.95" stroke-opacity="0.66"/>
<path d="M798.5 317.6L800.4 321.1L802.3 324.5L804.2 325.9L806.1 326.4L807.9 325.6L809.8 325.3L811.7 324.5L813.6 323.4L815.5 322.4L817.4 321.4L819.3 320.6L821.2 320.0L823.0 319.8L824.9 319.0L826.8 318.7L828.7 318.3L830.6 317.7L832.5 316.5L834.4 316.2L836.3 315.5L838.1 315.1L840.0 314.4L841.9 313.5L843.8 312.3L845.7 311.2L847.6 310.1L849.5 309.4L851.4 309.1L853.3 309.4L855.1 309.5L857.0 309.6L858.9 310.4L860.8 311.1L862.7 310.9L864.6 311.2L866.5 310.8L868.4 310.9L870.2 309.9L872.1 309.3L874.0 308.8L875.9 307.8L877.8 307.9L879.7 307.1L881.6 305.6L883.5 304.9L885.3 304.1L887.2 302.6L889.1 300.9L891.0 301.2L892.9 300.9L894.8 300.7L896.7 300.1L898.6 299.5L900.5 298.9L902.3 297.4L904.2 295.8L906.1 294.5L908.0 293.9L909.9 293.3L911.8 292.8L913.7 292.0L915.6 292.0L917.4 288.8L919.3 286.6L921.2 283.8L923.1 281.4L925.0 280.7L926.9 278.6L928.8 275.2L930.7 276.0L932.5 272.2L934.4 268.5L936.3 266.6L938.2 264.2L940.1 263.1L942.0 259.3L943.9 258.5L945.8 253.5L947.7 251.2L949.5 250.1L951.4 247.0L953.3 248.4L955.2 246.7L957.1 243.5L959.0 240.3L960.9 243.1L962.8 240.9L964.6 240.3L966.5 240.9L968.4 241.9L970.3 239.2L972.2 235.2L974.1 231.2L976.0 231.4L977.9 231.4L979.7 226.1L981.6 222.5L983.5 222.9L985.4 223.0L987.3 223.1L989.2 221.8L991.1 220.9L993.0 217.6L994.9 215.6L996.7 214.4L998.6 214.1L1000.5 212.7L1002.4 212.1L1004.3 208.2L1006.2 207.8L1008.1 207.9L1010.0 210.7L1011.8 212.2L1013.7 210.4L1015.6 209.6L1017.5 206.3L1019.4 203.2L1021.3 200.9L1023.2 200.5L1025.1 203.2L1026.9 197.7L1028.8 197.0L1030.7 198.1L1032.6 189.1L1034.5 186.5L1036.4 188.5L1038.3 188.7L1040.2 190.4L1042.1 192.2L1043.9 192.1L1045.8 196.0L1047.7 195.2L1049.6 191.1L1051.5 192.8L1053.4 190.4L1055.3 185.9L1057.2 176.6L1059.0 178.3L1060.9 177.4L1062.8 182.6L1064.7 181.9L1066.6 183.8L1068.5 177.1L1070.4 175.8L1072.3 176.9L1074.1 178.5L1076.0 171.9L1077.9 170.5L1079.8 169.0L1081.7 171.3L1083.6 175.1L1085.5 173.4L1087.4 177.6L1089.3 174.9L1091.1 170.7L1093.0 173.9L1094.9 170.8L1096.8 167.8L1098.7 163.3L1100.6 168.5L1102.5 165.1L1104.4 160.7L1106.2 162.1L1108.1 162.5L1110.0 160.6L1111.9 158.0L1113.8 160.3L1115.7 161.8L1117.6 157.8L1119.5 156.6L1121.3 154.0L1123.2 154.2L1125.1 157.8L1127.0 153.4L1128.9 153.9L1130.8 153.4L1132.7 146.1L1134.6 149.9L1136.5 146.8L1138.3 151.3L1140.2 154.9L1142.1 146.9L1144.0 151.0L1145.9 148.9L1147.8 149.5L1149.7 146.7L1151.6 145.2L1153.4 146.3L1155.3 143.2L1157.2 140.5L1159.1 138.3L1161.0 142.5L1162.9 139.9L1164.8 138.0L1166.7 140.1L1168.5 137.7L1170.4 150.2L1172.3 142.4L1174.2 138.7L1176.1 142.9L1178.0 139.8L1179.9 143.0L1181.8 142.2L1183.7 138.0L1185.5 135.8L1187.4 138.9L1189.3 135.7L1191.2 129.9L1193.1 135.4L1195.0 137.1L1196.9 138.5L1198.8 143.0L1200.6 140.5L1202.5 137.2L1204.4 136.3L1206.3 143.3L1208.2 136.3L1210.1 136.5L1212.0 129.7L1213.9 125.5L1215.7 126.3L1217.6 121.7L1219.5 112.0L1221.4 111.4L1223.3 116.6L1225.2 113.6L1227.1 114.6L1229.0 116.7L1230.9 120.4L1232.7 120.9L1234.6 116.2L1236.5 110.4L1238.4 116.6L1240.3 112.0L1242.2 110.9L1244.1 114.7L1246.0 118.2L1247.8 121.3L1249.7 119.8L1251.6 119.1L1253.5 120.6L1255.4 111.0L1257.3 110.4L1259.2 117.3L1261.1 115.1L1262.9 105.4L1264.8 109.0L1266.7 115.1L1268.6 117.4" stroke-width="0.95" stroke-opacity="0.66"/>
<path d="M798.5 317.6L800.4 322.5L802.3 326.9L804.2 328.3L806.1 328.1L807.9 328.3L809.8 327.6L811.7 326.7L813.6 325.8L815.5 324.9L817.4 324.6L819.3 323.7L821.2 322.9L823.0 322.1L824.9 321.4L826.8 321.1L828.7 320.8L830.6 320.6L832.5 319.5L834.4 319.2L836.3 318.5L838.1 317.8L840.0 317.4L841.9 316.4L843.8 315.0L845.7 313.7L847.6 312.9L849.5 310.6L851.4 310.1L853.3 311.0L855.1 310.8L857.0 312.0L858.9 313.0L860.8 313.7L862.7 314.1L864.6 314.3L866.5 313.6L868.4 313.4L870.2 313.0L872.1 312.6L874.0 311.6L875.9 310.8L877.8 310.8L879.7 309.3L881.6 308.5L883.5 308.2L885.3 306.9L887.2 306.0L889.1 305.4L891.0 304.6L892.9 303.5L894.8 303.4L896.7 301.9L898.6 302.0L900.5 301.3L902.3 300.6L904.2 299.1L906.1 297.8L908.0 297.4L909.9 298.1L911.8 295.8L913.7 294.9L915.6 295.1L917.4 292.5L919.3 290.7L921.2 287.2L923.1 287.0L925.0 285.2L926.9 281.9L928.8 280.4L930.7 278.7L932.5 276.1L934.4 274.2L936.3 272.9L938.2 271.1L940.1 268.4L942.0 269.9L943.9 268.5L945.8 267.7L947.7 266.0L949.5 261.7L951.4 256.7L953.3 260.4L955.2 259.4L957.1 257.7L959.0 256.9L960.9 254.1L962.8 256.3L964.6 254.2L966.5 252.9L968.4 252.2L970.3 248.0L972.2 246.2L974.1 242.1L976.0 244.4L977.9 246.4L979.7 246.0L981.6 237.4L983.5 236.4L985.4 240.6L987.3 239.2L989.2 237.2L991.1 240.7L993.0 237.5L994.9 234.2L996.7 233.8L998.6 236.8L1000.5 236.9L1002.4 235.4L1004.3 234.4L1006.2 233.0L1008.1 232.8L1010.0 232.2L1011.8 231.5L1013.7 233.9L1015.6 228.2L1017.5 229.5L1019.4 225.1L1021.3 229.9L1023.2 228.7L1025.1 224.7L1026.9 223.0L1028.8 219.6L1030.7 221.8L1032.6 215.3L1034.5 210.8L1036.4 211.9L1038.3 220.5L1040.2 215.2L1042.1 211.4L1043.9 212.3L1045.8 217.5L1047.7 213.2L1049.6 212.6L1051.5 211.8L1053.4 213.8L1055.3 205.7L1057.2 204.2L1059.0 203.6L1060.9 208.0L1062.8 206.5L1064.7 204.8L1066.6 205.2L1068.5 210.6L1070.4 205.8L1072.3 203.5L1074.1 203.8L1076.0 205.5L1077.9 203.8L1079.8 196.2L1081.7 196.1L1083.6 201.0L1085.5 194.5L1087.4 193.0L1089.3 198.7L1091.1 192.0L1093.0 200.7L1094.9 200.2L1096.8 192.4L1098.7 191.3L1100.6 189.5L1102.5 187.3L1104.4 184.3L1106.2 185.0L1108.1 187.5L1110.0 187.6L1111.9 182.8L1113.8 181.0L1115.7 181.5L1117.6 183.5L1119.5 176.8L1121.3 177.2L1123.2 169.6L1125.1 166.2L1127.0 167.9L1128.9 170.4L1130.8 163.6L1132.7 165.5L1134.6 162.4L1136.5 164.8L1138.3 168.1L1140.2 169.8L1142.1 154.5L1144.0 153.4L1145.9 157.3L1147.8 149.6L1149.7 149.8L1151.6 147.5L1153.4 149.2L1155.3 144.9L1157.2 148.5L1159.1 152.3L1161.0 147.1L1162.9 143.9L1164.8 137.8L1166.7 143.4L1168.5 155.8L1170.4 156.1L1172.3 148.5L1174.2 142.7L1176.1 141.5L1178.0 143.7L1179.9 150.0L1181.8 158.0L1183.7 154.0L1185.5 146.6L1187.4 152.5L1189.3 148.8L1191.2 151.0L1193.1 163.4L1195.0 160.0L1196.9 148.9L1198.8 144.0L1200.6 149.0L1202.5 152.6L1204.4 149.0L1206.3 145.1L1208.2 159.3L1210.1 147.3L1212.0 150.2L1213.9 140.9L1215.7 133.6L1217.6 135.8L1219.5 126.0L1221.4 120.9L1223.3 121.3L1225.2 127.5L1227.1 134.8L1229.0 133.2L1230.9 134.3L1232.7 139.6L1234.6 133.3L1236.5 125.5L1238.4 130.0L1240.3 132.5L1242.2 127.5L1244.1 126.4L1246.0 127.9L1247.8 131.8L1249.7 129.5L1251.6 138.3L1253.5 138.0L1255.4 124.9L1257.3 122.7L1259.2 121.6L1261.1 127.8L1262.9 124.2L1264.8 113.6L1266.7 121.2L1268.6 123.4" stroke-width="0.95" stroke-opacity="0.66"/>
<path d="M798.5 317.6L800.4 323.1L802.3 327.8L804.2 330.1L806.1 329.9L807.9 329.4L809.8 328.8L811.7 328.3L813.6 327.8L815.5 326.9L817.4 325.8L819.3 324.8L821.2 324.5L823.0 323.5L824.9 323.3L826.8 322.7L828.7 322.5L830.6 321.7L832.5 320.6L834.4 320.1L836.3 319.9L838.1 319.1L840.0 318.7L841.9 317.1L843.8 316.1L845.7 314.8L847.6 313.5L849.5 312.1L851.4 311.4L853.3 312.6L855.1 312.7L857.0 313.5L858.9 314.4L860.8 315.1L862.7 315.7L864.6 315.5L866.5 315.2L868.4 314.8L870.2 314.3L872.1 313.6L874.0 313.4L875.9 312.5L877.8 312.7L879.7 311.5L881.6 310.2L883.5 309.1L885.3 308.4L887.2 308.3L889.1 307.3L891.0 306.0L892.9 305.7L894.8 304.5L896.7 303.1L898.6 303.5L900.5 302.8L902.3 301.6L904.2 300.5L906.1 299.1L908.0 299.0L909.9 298.5L911.8 297.2L913.7 296.0L915.6 294.5L917.4 293.2L919.3 291.2L921.2 289.6L923.1 288.6L925.0 286.3L926.9 283.4L928.8 281.0L930.7 277.8L932.5 277.1L934.4 275.1L936.3 273.1L938.2 272.1L940.1 271.4L942.0 268.2L943.9 267.1L945.8 263.8L947.7 263.2L949.5 262.6L951.4 259.4L953.3 258.1L955.2 256.3L957.1 257.0L959.0 254.5L960.9 255.2L962.8 251.1L964.6 250.6L966.5 250.1L968.4 249.1L970.3 245.9L972.2 245.6L974.1 244.1L976.0 241.7L977.9 245.0L979.7 243.5L981.6 238.3L983.5 238.8L985.4 239.8L987.3 239.5L989.2 235.9L991.1 235.9L993.0 236.2L994.9 234.5L996.7 233.2L998.6 234.9L1000.5 235.9L1002.4 233.0L1004.3 231.0L1006.2 231.6L1008.1 229.0L1010.0 233.1L1011.8 230.6L1013.7 232.1L1015.6 225.1L1017.5 225.8L1019.4 224.1L1021.3 223.4L1023.2 224.1L1025.1 219.0L1026.9 217.7L1028.8 220.2L1030.7 223.5L1032.6 217.2L1034.5 213.5L1036.4 214.6L1038.3 215.9L1040.2 211.7L1042.1 214.9L1043.9 213.7L1045.8 211.7L1047.7 215.7L1049.6 211.3L1051.5 212.7L1053.4 209.7L1055.3 205.8L1057.2 205.0L1059.0 199.2L1060.9 205.5L1062.8 204.2L1064.7 207.7L1066.6 203.8L1068.5 200.4L1070.4 204.7L1072.3 201.8L1074.1 202.0L1076.0 203.1L1077.9 198.3L1079.8 200.0L1081.7 197.6L1083.6 195.1L1085.5 188.5L1087.4 189.7L1089.3 197.2L1091.1 195.4L1093.0 196.9L1094.9 195.8L1096.8 189.8L1098.7 191.3L1100.6 192.6L1102.5 186.9L1104.4 184.5L1106.2 182.0L1108.1 186.9L1110.0 187.3L1111.9 185.0L1113.8 178.2L1115.7 180.8L1117.6 180.2L1119.5 180.1L1121.3 180.5L1123.2 181.6L1125.1 178.3L1127.0 184.9L1128.9 182.1L1130.8 181.0L1132.7 179.1L1134.6 179.4L1136.5 178.2L1138.3 181.3L1140.2 174.1L1142.1 173.4L1144.0 176.6L1145.9 175.2L1147.8 175.0L1149.7 172.2L1151.6 173.9L1153.4 176.1L1155.3 177.1L1157.2 176.3L1159.1 172.4L1161.0 169.0L1162.9 174.3L1164.8 171.2L1166.7 169.4L1168.5 174.3L1170.4 175.4L1172.3 171.5L1174.2 169.4L1176.1 168.1L1178.0 165.5L1179.9 169.4L1181.8 171.2L1183.7 169.5L1185.5 168.0L1187.4 165.8L1189.3 167.8L1191.2 172.5L1193.1 169.6L1195.0 169.4L1196.9 171.1L1198.8 173.2L1200.6 169.8L1202.5 172.3L1204.4 168.1L1206.3 172.8L1208.2 168.4L1210.1 169.4L1212.0 161.1L1213.9 153.2L1215.7 148.9L1217.6 149.5L1219.5 153.1L1221.4 147.0L1223.3 153.7L1225.2 153.7L1227.1 150.3L1229.0 149.7L1230.9 155.9L1232.7 153.9L1234.6 148.2L1236.5 145.5L1238.4 143.6L1240.3 149.4L1242.2 147.7L1244.1 146.6L1246.0 151.7L1247.8 147.3L1249.7 153.7L1251.6 154.2L1253.5 152.2L1255.4 150.5L1257.3 149.4L1259.2 150.7L1261.1 150.1L1262.9 147.4L1264.8 145.9L1266.7 145.9L1268.6 150.0" stroke-width="0.95" stroke-opacity="0.66"/>
<path d="M798.5 317.6L800.4 324.0L802.3 328.9L804.2 331.6L806.1 331.2L807.9 330.7L809.8 329.9L811.7 329.2L813.6 328.4L815.5 327.5L817.4 326.7L819.3 325.7L821.2 324.9L823.0 324.1L824.9 323.8L826.8 323.2L828.7 322.7L830.6 322.3L832.5 321.5L834.4 320.9L836.3 320.7L838.1 320.0L840.0 319.2L841.9 318.2L843.8 317.1L845.7 316.0L847.6 314.6L849.5 312.7L851.4 312.1L853.3 313.4L855.1 314.1L857.0 315.1L858.9 315.7L860.8 316.9L862.7 317.1L864.6 317.2L866.5 316.8L868.4 316.3L870.2 316.0L872.1 315.2L874.0 314.6L875.9 313.8L877.8 313.7L879.7 312.2L881.6 311.6L883.5 310.7L885.3 309.7L887.2 309.0L889.1 308.1L891.0 307.3L892.9 307.3L894.8 306.4L896.7 305.1L898.6 305.0L900.5 304.7L902.3 304.1L904.2 303.4L906.1 302.4L908.0 301.5L909.9 300.6L911.8 299.6L913.7 298.0L915.6 296.8L917.4 296.2L919.3 293.9L921.2 291.8L923.1 290.6L925.0 290.1L926.9 286.8L928.8 284.3L930.7 282.5L932.5 281.1L934.4 277.2L936.3 276.3L938.2 274.8L940.1 273.8L942.0 272.5L943.9 271.3L945.8 269.5L947.7 268.6L949.5 267.3L951.4 265.8L953.3 263.4L955.2 262.2L957.1 259.4L959.0 259.2L960.9 259.3L962.8 256.6L964.6 255.5L966.5 254.9L968.4 253.4L970.3 251.2L972.2 251.5L974.1 249.4L976.0 249.2L977.9 249.4L979.7 247.6L981.6 244.9L983.5 245.5L985.4 244.8L987.3 243.6L989.2 240.9L991.1 241.9L993.0 242.2L994.9 241.7L996.7 238.9L998.6 237.6L1000.5 237.5L1002.4 236.2L1004.3 235.7L1006.2 234.3L1008.1 233.6L1010.0 233.1L1011.8 235.0L1013.7 233.7L1015.6 231.4L1017.5 231.5L1019.4 230.5L1021.3 229.6L1023.2 228.7L1025.1 228.3L1026.9 226.2L1028.8 226.5L1030.7 225.8L1032.6 222.8L1034.5 220.1L1036.4 221.0L1038.3 222.2L1040.2 221.2L1042.1 220.1L1043.9 219.0L1045.8 217.0L1047.7 215.4L1049.6 216.5L1051.5 215.2L1053.4 215.8L1055.3 214.1L1057.2 211.7L1059.0 210.4L1060.9 209.8L1062.8 210.0L1064.7 208.8L1066.6 206.0L1068.5 204.3L1070.4 202.7L1072.3 201.8L1074.1 201.2L1076.0 203.6L1077.9 200.8L1079.8 199.9L1081.7 199.3L1083.6 199.9L1085.5 198.0L1087.4 199.8L1089.3 201.0L1091.1 199.5L1093.0 199.4L1094.9 196.1L1096.8 193.6L1098.7 194.2L1100.6 193.6L1102.5 194.0L1104.4 191.3L1106.2 191.9L1108.1 194.5L1110.0 194.5L1111.9 192.4L1113.8 191.2L1115.7 191.3L1117.6 191.1L1119.5 187.3L1121.3 186.3L1123.2 188.8L1125.1 187.4L1127.0 186.7L1128.9 186.7L1130.8 184.7L1132.7 183.7L1134.6 184.7L1136.5 186.3L1138.3 188.6L1140.2 185.2L1142.1 183.9L1144.0 183.3L1145.9 182.0L1147.8 182.6L1149.7 183.7L1151.6 182.5L1153.4 182.1L1155.3 180.4L1157.2 181.4L1159.1 185.4L1161.0 178.9L1162.9 180.6L1164.8 179.7L1166.7 180.4L1168.5 180.6L1170.4 184.1L1172.3 179.7L1174.2 180.1L1176.1 179.9L1178.0 177.5L1179.9 179.9L1181.8 185.2L1183.7 182.4L1185.5 180.5L1187.4 179.9L1189.3 178.3L1191.2 180.2L1193.1 178.8L1195.0 179.7L1196.9 179.3L1198.8 181.4L1200.6 179.7L1202.5 176.2L1204.4 179.5L1206.3 177.7L1208.2 179.5L1210.1 178.8L1212.0 176.1L1213.9 173.3L1215.7 170.8L1217.6 165.8L1219.5 160.7L1221.4 161.5L1223.3 164.2L1225.2 164.6L1227.1 162.8L1229.0 164.7L1230.9 167.9L1232.7 164.2L1234.6 168.2L1236.5 163.7L1238.4 162.5L1240.3 162.9L1242.2 163.7L1244.1 163.1L1246.0 165.2L1247.8 163.7L1249.7 164.7L1251.6 165.6L1253.5 162.9L1255.4 160.5L1257.3 160.9L1259.2 162.6L1261.1 163.3L1262.9 163.2L1264.8 161.4L1266.7 162.1L1268.6 159.8" stroke-width="0.95" stroke-opacity="0.66"/>
<path d="M798.5 317.6L800.4 323.8L802.3 329.6L804.2 332.1L806.1 331.9L807.9 331.4L809.8 330.7L811.7 330.0L813.6 329.2L815.5 328.4L817.4 327.5L819.3 326.4L821.2 325.7L823.0 325.2L824.9 324.4L826.8 323.9L828.7 323.8L830.6 323.1L832.5 322.4L834.4 321.5L836.3 321.3L838.1 320.4L840.0 319.8L841.9 318.9L843.8 317.8L845.7 316.8L847.6 315.3L849.5 313.2L851.4 312.7L853.3 313.9L855.1 314.9L857.0 315.9L858.9 316.5L860.8 317.0L862.7 317.4L864.6 317.5L866.5 317.1L868.4 316.9L870.2 316.5L872.1 316.1L874.0 315.1L875.9 314.8L877.8 314.3L879.7 313.3L881.6 313.0L883.5 312.3L885.3 311.6L887.2 310.6L889.1 309.9L891.0 309.1L892.9 308.4L894.8 308.0L896.7 307.3L898.6 306.6L900.5 305.9L902.3 305.3L904.2 304.7L906.1 303.5L908.0 302.4L909.9 302.1L911.8 301.1L913.7 299.9L915.6 298.7L917.4 297.5L919.3 296.1L921.2 294.0L923.1 292.6L925.0 290.8L926.9 288.3L928.8 286.0L930.7 282.8L932.5 281.8L934.4 279.3L936.3 277.7L938.2 275.5L940.1 275.5L942.0 274.1L943.9 273.4L945.8 271.5L947.7 270.7L949.5 269.0L951.4 268.1L953.3 267.3L955.2 265.4L957.1 263.9L959.0 263.1L960.9 262.6L962.8 259.9L964.6 258.8L966.5 259.6L968.4 258.1L970.3 253.7L972.2 253.8L974.1 250.5L976.0 251.0L977.9 250.4L979.7 249.7L981.6 246.2L983.5 247.9L985.4 246.3L987.3 245.5L989.2 243.7L991.1 244.5L993.0 245.5L994.9 243.3L996.7 242.0L998.6 242.3L1000.5 242.7L1002.4 240.4L1004.3 238.6L1006.2 236.7L1008.1 237.4L1010.0 237.5L1011.8 236.1L1013.7 235.6L1015.6 236.1L1017.5 233.4L1019.4 232.8L1021.3 230.8L1023.2 230.3L1025.1 229.4L1026.9 229.0L1028.8 225.8L1030.7 229.1L1032.6 228.4L1034.5 226.5L1036.4 226.2L1038.3 224.9L1040.2 224.0L1042.1 224.8L1043.9 223.1L1045.8 220.6L1047.7 221.1L1049.6 218.9L1051.5 218.8L1053.4 219.0L1055.3 216.3L1057.2 216.5L1059.0 214.0L1060.9 215.7L1062.8 214.6L1064.7 213.2L1066.6 212.4L1068.5 209.9L1070.4 210.9L1072.3 209.2L1074.1 210.7L1076.0 209.9L1077.9 207.5L1079.8 205.3L1081.7 205.4L1083.6 203.1L1085.5 200.9L1087.4 202.3L1089.3 201.6L1091.1 201.6L1093.0 203.0L1094.9 200.0L1096.8 197.3L1098.7 197.8L1100.6 199.0L1102.5 198.3L1104.4 198.7L1106.2 197.2L1108.1 197.3L1110.0 194.9L1111.9 194.4L1113.8 194.5L1115.7 194.9L1117.6 194.6L1119.5 193.0L1121.3 194.8L1123.2 195.5L1125.1 192.6L1127.0 191.9L1128.9 193.4L1130.8 193.5L1132.7 190.0L1134.6 192.8L1136.5 193.2L1138.3 193.0L1140.2 192.3L1142.1 190.6L1144.0 190.2L1145.9 192.4L1147.8 191.6L1149.7 192.3L1151.6 188.0L1153.4 186.7L1155.3 187.2L1157.2 186.1L1159.1 190.3L1161.0 188.2L1162.9 187.1L1164.8 185.9L1166.7 185.8L1168.5 188.7L1170.4 189.6L1172.3 187.6L1174.2 185.7L1176.1 186.9L1178.0 185.5L1179.9 184.2L1181.8 187.5L1183.7 187.4L1185.5 187.7L1187.4 187.9L1189.3 185.5L1191.2 185.0L1193.1 184.6L1195.0 184.0L1196.9 187.6L1198.8 186.6L1200.6 184.6L1202.5 184.1L1204.4 184.4L1206.3 185.0L1208.2 187.0L1210.1 182.7L1212.0 182.8L1213.9 178.2L1215.7 173.3L1217.6 172.8L1219.5 172.4L1221.4 169.3L1223.3 170.2L1225.2 169.8L1227.1 169.4L1229.0 173.8L1230.9 173.0L1232.7 171.4L1234.6 168.2L1236.5 166.4L1238.4 169.9L1240.3 171.5L1242.2 170.1L1244.1 171.0L1246.0 171.1L1247.8 173.9L1249.7 171.2L1251.6 172.5L1253.5 170.2L1255.4 169.7L1257.3 167.9L1259.2 170.6L1261.1 169.4L1262.9 168.5L1264.8 166.5L1266.7 167.2L1268.6 167.9" stroke-width="0.95" stroke-opacity="0.66"/>
<path d="M798.5 317.6L800.4 325.6L802.3 332.6L804.2 335.7L806.1 335.3L807.9 334.9L809.8 334.2L811.7 333.5L813.6 332.4L815.5 331.2L817.4 330.5L819.3 329.5L821.2 328.5L823.0 327.9L824.9 327.1L826.8 326.4L828.7 326.1L830.6 325.6L832.5 324.8L834.4 324.2L836.3 323.6L838.1 323.1L840.0 322.2L841.9 321.6L843.8 320.5L845.7 319.3L847.6 317.7L849.5 316.2L851.4 315.8L853.3 316.6L855.1 317.3L857.0 318.1L858.9 318.7L860.8 319.5L862.7 319.6L864.6 319.8L866.5 319.5L868.4 319.2L870.2 318.9L872.1 318.0L874.0 317.2L875.9 317.1L877.8 316.6L879.7 315.9L881.6 315.0L883.5 314.4L885.3 313.9L887.2 312.9L889.1 312.1L891.0 311.6L892.9 310.6L894.8 310.1L896.7 309.2L898.6 309.0L900.5 308.5L902.3 307.2L904.2 306.5L906.1 305.9L908.0 304.9L909.9 304.8L911.8 303.3L913.7 302.1L915.6 301.3L917.4 299.1L919.3 297.8L921.2 296.2L923.1 295.0L925.0 293.5L926.9 291.5L928.8 289.3L930.7 286.8L932.5 285.7L934.4 284.2L936.3 282.1L938.2 281.9L940.1 280.0L942.0 279.2L943.9 277.9L945.8 275.5L947.7 274.3L949.5 274.0L951.4 273.3L953.3 271.1L955.2 269.7L957.1 268.2L959.0 268.1L960.9 266.6L962.8 265.8L964.6 264.4L966.5 264.7L968.4 262.5L970.3 261.0L972.2 260.1L974.1 259.7L976.0 258.8L977.9 258.5L979.7 259.4L981.6 255.7L983.5 255.0L985.4 254.2L987.3 252.0L989.2 252.4L991.1 250.3L993.0 249.9L994.9 250.9L996.7 250.4L998.6 251.5L1000.5 249.8L1002.4 247.6L1004.3 246.9L1006.2 245.8L1008.1 247.5L1010.0 247.0L1011.8 245.3L1013.7 247.9L1015.6 244.5L1017.5 242.6L1019.4 242.5L1021.3 242.1L1023.2 239.8L1025.1 239.9L1026.9 240.1L1028.8 239.5L1030.7 240.2L1032.6 238.7L1034.5 235.5L1036.4 234.9L1038.3 235.0L1040.2 234.8L1042.1 234.6L1043.9 233.5L1045.8 233.6L1047.7 232.3L1049.6 232.5L1051.5 231.9L1053.4 231.2L1055.3 230.4L1057.2 227.7L1059.0 226.6L1060.9 228.3L1062.8 228.9L1064.7 229.0L1066.6 229.0L1068.5 227.5L1070.4 227.4L1072.3 226.2L1074.1 226.0L1076.0 223.8L1077.9 221.4L1079.8 224.5L1081.7 226.2L1083.6 224.1L1085.5 220.0L1087.4 221.9L1089.3 222.8L1091.1 220.3L1093.0 220.8L1094.9 219.8L1096.8 218.4L1098.7 216.3L1100.6 216.5L1102.5 215.1L1104.4 213.9L1106.2 214.6L1108.1 214.0L1110.0 213.2L1111.9 213.7L1113.8 211.8L1115.7 208.5L1117.6 207.2L1119.5 211.5L1121.3 211.6L1123.2 211.3L1125.1 208.8L1127.0 208.9L1128.9 207.2L1130.8 205.3L1132.7 205.4L1134.6 205.2L1136.5 204.9L1138.3 207.8L1140.2 206.8L1142.1 204.8L1144.0 204.6L1145.9 204.1L1147.8 203.0L1149.7 202.0L1151.6 201.2L1153.4 198.0L1155.3 200.5L1157.2 200.7L1159.1 198.3L1161.0 197.6L1162.9 197.0L1164.8 196.6L1166.7 196.4L1168.5 198.4L1170.4 200.7L1172.3 199.8L1174.2 198.7L1176.1 199.8L1178.0 198.8L1179.9 196.1L1181.8 195.7L1183.7 195.7L1185.5 193.5L1187.4 193.1L1189.3 192.8L1191.2 193.7L1193.1 194.5L1195.0 195.1L1196.9 194.1L1198.8 197.5L1200.6 194.7L1202.5 194.0L1204.4 193.4L1206.3 193.2L1208.2 193.1L1210.1 191.4L1212.0 189.3L1213.9 186.1L1215.7 181.3L1217.6 180.2L1219.5 178.5L1221.4 176.9L1223.3 176.3L1225.2 178.0L1227.1 178.0L1229.0 179.0L1230.9 179.2L1232.7 178.3L1234.6 178.3L1236.5 176.4L1238.4 174.8L1240.3 175.7L1242.2 174.7L1244.1 172.6L1246.0 177.0L1247.8 177.3L1249.7 176.6L1251.6 178.6L1253.5 180.5L1255.4 177.3L1257.3 176.4L1259.2 178.2L1261.1 179.4L1262.9 175.7L1264.8 173.2L1266.7 174.1L1268.6 174.0" stroke-width="0.95" stroke-opacity="0.66"/>
<path d="M798.5 317.6L800.4 327.8L802.3 336.8L804.2 340.5L806.1 340.6L807.9 339.8L809.8 338.9L811.7 338.2L813.6 337.2L815.5 335.9L817.4 334.8L819.3 333.7L821.2 332.7L823.0 332.2L824.9 331.4L826.8 330.7L828.7 330.1L830.6 329.6L832.5 328.7L834.4 328.2L836.3 327.5L838.1 326.9L840.0 325.9L841.9 325.2L843.8 324.1L845.7 322.4L847.6 320.7L849.5 318.9L851.4 318.7L853.3 319.7L855.1 320.7L857.0 321.7L858.9 322.7L860.8 323.7L862.7 324.1L864.6 324.1L866.5 324.1L868.4 323.6L870.2 323.3L872.1 322.8L874.0 321.9L875.9 321.8L877.8 321.2L879.7 320.1L881.6 319.6L883.5 319.0L885.3 318.3L887.2 317.6L889.1 316.4L891.0 315.9L892.9 315.5L894.8 315.0L896.7 314.2L898.6 313.7L900.5 312.9L902.3 312.0L904.2 311.3L906.1 310.9L908.0 309.9L909.9 309.4L911.8 308.5L913.7 307.5L915.6 306.5L917.4 304.9L919.3 303.7L921.2 302.4L923.1 301.7L925.0 299.8L926.9 298.3L928.8 296.9L930.7 294.6L932.5 293.0L934.4 292.1L936.3 290.1L938.2 288.4L940.1 286.4L942.0 285.9L943.9 285.1L945.8 283.9L947.7 282.7L949.5 281.5L951.4 279.4L953.3 278.3L955.2 278.0L957.1 277.7L959.0 275.8L960.9 276.2L962.8 274.1L964.6 272.6L966.5 272.1L968.4 271.2L970.3 271.0L972.2 268.7L974.1 267.8L976.0 268.3L977.9 268.1L979.7 265.9L981.6 263.5L983.5 265.0L985.4 262.4L987.3 261.5L989.2 260.1L991.1 260.5L993.0 260.7L994.9 259.2L996.7 257.7L998.6 258.4L1000.5 256.9L1002.4 257.4L1004.3 255.3L1006.2 255.0L1008.1 254.2L1010.0 254.2L1011.8 254.6L1013.7 253.3L1015.6 250.8L1017.5 251.5L1019.4 249.9L1021.3 249.6L1023.2 250.3L1025.1 249.7L1026.9 248.7L1028.8 245.7L1030.7 246.9L1032.6 245.7L1034.5 244.1L1036.4 243.8L1038.3 244.8L1040.2 241.3L1042.1 242.0L1043.9 240.3L1045.8 240.6L1047.7 240.4L1049.6 238.2L1051.5 239.1L1053.4 238.3L1055.3 237.5L1057.2 234.1L1059.0 235.2L1060.9 233.7L1062.8 234.7L1064.7 233.7L1066.6 233.7L1068.5 232.1L1070.4 233.1L1072.3 232.7L1074.1 232.1L1076.0 231.9L1077.9 228.3L1079.8 229.1L1081.7 229.5L1083.6 227.4L1085.5 226.9L1087.4 225.2L1089.3 227.1L1091.1 225.7L1093.0 226.6L1094.9 227.0L1096.8 225.2L1098.7 221.9L1100.6 222.3L1102.5 220.4L1104.4 220.4L1106.2 219.1L1108.1 219.8L1110.0 218.5L1111.9 217.3L1113.8 217.1L1115.7 216.2L1117.6 216.0L1119.5 216.2L1121.3 216.0L1123.2 213.4L1125.1 213.4L1127.0 213.8L1128.9 214.7L1130.8 211.9L1132.7 212.5L1134.6 210.8L1136.5 211.5L1138.3 211.2L1140.2 209.5L1142.1 209.4L1144.0 205.5L1145.9 207.1L1147.8 207.3L1149.7 204.9L1151.6 206.5L1153.4 207.2L1155.3 207.3L1157.2 205.4L1159.1 205.9L1161.0 206.5L1162.9 205.7L1164.8 202.2L1166.7 197.5L1168.5 201.7L1170.4 202.6L1172.3 201.5L1174.2 199.4L1176.1 199.1L1178.0 198.8L1179.9 195.5L1181.8 199.2L1183.7 196.5L1185.5 197.8L1187.4 198.3L1189.3 196.5L1191.2 195.4L1193.1 199.9L1195.0 199.3L1196.9 199.4L1198.8 200.3L1200.6 196.1L1202.5 196.0L1204.4 195.4L1206.3 196.0L1208.2 197.4L1210.1 193.9L1212.0 192.1L1213.9 190.2L1215.7 184.6L1217.6 182.9L1219.5 182.3L1221.4 179.6L1223.3 179.8L1225.2 182.0L1227.1 177.0L1229.0 180.7L1230.9 180.5L1232.7 180.2L1234.6 179.2L1236.5 180.5L1238.4 178.1L1240.3 178.7L1242.2 176.5L1244.1 175.0L1246.0 178.9L1247.8 178.9L1249.7 181.4L1251.6 182.0L1253.5 180.2L1255.4 177.6L1257.3 175.7L1259.2 177.2L1261.1 176.7L1262.9 175.8L1264.8 175.6L1266.7 178.3L1268.6 174.2" stroke-width="0.95" stroke-opacity="0.66"/>
<path d="M798.5 317.6L800.4 329.3L802.3 339.8L804.2 344.2L806.1 344.0L807.9 343.3L809.8 342.7L811.7 341.6L813.6 340.4L815.5 339.1L817.4 337.8L819.3 336.7L821.2 335.6L823.0 334.9L824.9 334.4L826.8 333.8L828.7 333.2L830.6 332.6L832.5 331.9L834.4 331.1L836.3 330.5L838.1 329.9L840.0 328.9L841.9 328.0L843.8 326.7L845.7 325.6L847.6 324.1L849.5 322.4L851.4 322.0L853.3 322.8L855.1 323.7L857.0 324.5L858.9 325.6L860.8 326.7L862.7 327.0L864.6 326.9L866.5 327.0L868.4 326.6L870.2 326.2L872.1 325.6L874.0 324.9L875.9 324.5L877.8 323.8L879.7 323.2L881.6 322.5L883.5 321.9L885.3 321.5L887.2 320.4L889.1 319.9L891.0 319.0L892.9 318.5L894.8 318.2L896.7 317.4L898.6 316.7L900.5 316.3L902.3 315.4L904.2 314.1L906.1 313.7L908.0 312.8L909.9 312.0L911.8 311.0L913.7 310.1L915.6 309.4L917.4 307.8L919.3 306.0L921.2 304.6L923.1 304.0L925.0 302.9L926.9 301.4L928.8 298.9L930.7 297.8L932.5 297.2L934.4 295.8L936.3 294.5L938.2 292.4L940.1 291.4L942.0 290.4L943.9 288.3L945.8 287.6L947.7 286.1L949.5 285.4L951.4 283.8L953.3 283.7L955.2 282.6L957.1 279.6L959.0 279.8L960.9 278.8L962.8 279.1L964.6 277.9L966.5 278.0L968.4 276.4L970.3 274.9L972.2 273.1L974.1 271.7L976.0 270.2L977.9 271.7L979.7 269.8L981.6 269.0L983.5 267.0L985.4 267.4L987.3 266.6L989.2 267.2L991.1 265.7L993.0 264.3L994.9 265.3L996.7 263.5L998.6 262.5L1000.5 262.3L1002.4 261.6L1004.3 260.3L1006.2 261.6L1008.1 260.0L1010.0 259.6L1011.8 259.2L1013.7 259.3L1015.6 256.9L1017.5 256.1L1019.4 256.5L1021.3 255.8L1023.2 254.3L1025.1 253.5L1026.9 248.9L1028.8 251.0L1030.7 249.6L1032.6 248.4L1034.5 247.2L1036.4 247.8L1038.3 247.2L1040.2 248.0L1042.1 248.5L1043.9 247.5L1045.8 246.9L1047.7 247.9L1049.6 248.2L1051.5 247.2L1053.4 247.9L1055.3 244.4L1057.2 244.4L1059.0 240.5L1060.9 241.1L1062.8 242.8L1064.7 242.0L1066.6 241.5L1068.5 242.2L1070.4 240.1L1072.3 241.3L1074.1 242.7L1076.0 241.1L1077.9 239.7L1079.8 239.8L1081.7 239.5L1083.6 238.9L1085.5 238.3L1087.4 237.9L1089.3 238.7L1091.1 235.7L1093.0 238.4L1094.9 238.5L1096.8 236.8L1098.7 236.2L1100.6 236.8L1102.5 235.3L1104.4 233.9L1106.2 234.7L1108.1 235.1L1110.0 233.9L1111.9 234.1L1113.8 232.0L1115.7 233.1L1117.6 232.9L1119.5 234.4L1121.3 232.5L1123.2 230.7L1125.1 230.5L1127.0 233.5L1128.9 232.3L1130.8 229.6L1132.7 228.2L1134.6 229.9L1136.5 228.5L1138.3 230.6L1140.2 229.3L1142.1 225.6L1144.0 226.8L1145.9 225.9L1147.8 226.6L1149.7 225.1L1151.6 226.0L1153.4 226.6L1155.3 227.3L1157.2 227.6L1159.1 225.6L1161.0 224.4L1162.9 223.5L1164.8 224.2L1166.7 221.9L1168.5 223.5L1170.4 225.7L1172.3 224.8L1174.2 222.6L1176.1 222.4L1178.0 220.3L1179.9 223.3L1181.8 225.9L1183.7 222.0L1185.5 221.4L1187.4 221.1L1189.3 220.5L1191.2 219.2L1193.1 223.5L1195.0 222.9L1196.9 223.3L1198.8 223.5L1200.6 222.7L1202.5 221.7L1204.4 219.9L1206.3 219.5L1208.2 219.3L1210.1 215.8L1212.0 217.9L1213.9 215.6L1215.7 216.2L1217.6 217.0L1219.5 214.9L1221.4 210.6L1223.3 213.1L1225.2 215.2L1227.1 211.3L1229.0 213.6L1230.9 213.5L1232.7 210.8L1234.6 210.1L1236.5 208.7L1238.4 212.9L1240.3 210.4L1242.2 208.4L1244.1 210.6L1246.0 210.7L1247.8 212.8L1249.7 211.1L1251.6 214.1L1253.5 214.4L1255.4 211.5L1257.3 209.7L1259.2 212.3L1261.1 214.0L1262.9 212.8L1264.8 210.3L1266.7 210.9L1268.6 211.0" stroke-width="0.95" stroke-opacity="0.66"/>
<path d="M798.5 317.6L800.4 324.5L802.3 330.3L804.2 333.1L806.1 332.8L807.9 332.2L809.8 331.6L811.7 330.8L813.6 330.0L815.5 329.0L817.4 328.2L819.3 327.0L821.2 326.1L823.0 325.4L824.9 324.9L826.8 324.6L828.7 324.2L830.6 323.6L832.5 322.8L834.4 322.2L836.3 321.9L838.1 320.9L840.0 320.2L841.9 319.3L843.8 318.3L845.7 317.3L847.6 316.0L849.5 314.4L851.4 314.0L853.3 315.0L855.1 315.5L857.0 316.0L858.9 317.0L860.8 317.5L862.7 318.0L864.6 317.9L866.5 317.8L868.4 317.3L870.2 317.0L872.1 316.3L874.0 315.9L875.9 315.3L877.8 314.6L879.7 313.7L881.6 312.9L883.5 312.3L885.3 311.3L887.2 310.6L889.1 309.8L891.0 308.9L892.9 308.7L894.8 307.7L896.7 307.0L898.6 305.8L900.5 305.9L902.3 305.4L904.2 304.7L906.1 303.3L908.0 303.5L909.9 302.8L911.8 301.7L913.7 300.6L915.6 299.4L917.4 298.0L919.3 296.8L921.2 295.3L923.1 292.9L925.0 291.1L926.9 289.5L928.8 287.2L930.7 284.6L932.5 283.2L934.4 281.5L936.3 280.6L938.2 279.3L940.1 278.6L942.0 276.8L943.9 275.2L945.8 274.7L947.7 273.6L949.5 272.4L951.4 270.8L953.3 269.6L955.2 268.4L957.1 267.2L959.0 265.7L960.9 264.6L962.8 263.6L964.6 262.4L966.5 261.4L968.4 260.0L970.3 259.3L972.2 258.8L974.1 256.6L976.0 255.5L977.9 256.1L979.7 253.9L981.6 253.3L983.5 253.6L985.4 253.8L987.3 251.2L989.2 251.8L991.1 250.2L993.0 249.3L994.9 249.2L996.7 247.8L998.6 247.3L1000.5 246.2L1002.4 245.1L1004.3 242.8L1006.2 243.5L1008.1 242.5L1010.0 241.7L1011.8 242.3L1013.7 242.8L1015.6 239.7L1017.5 240.7L1019.4 239.8L1021.3 239.3L1023.2 239.4L1025.1 236.8L1026.9 236.8L1028.8 236.2L1030.7 237.7L1032.6 238.7L1034.5 235.5L1036.4 234.7L1038.3 236.1L1040.2 234.3L1042.1 233.2L1043.9 232.3L1045.8 232.6L1047.7 230.1L1049.6 231.9L1051.5 231.4L1053.4 231.8L1055.3 230.4L1057.2 229.6L1059.0 227.4L1060.9 228.0L1062.8 227.5L1064.7 225.5L1066.6 223.7L1068.5 223.8L1070.4 224.0L1072.3 225.8L1074.1 225.3L1076.0 226.0L1077.9 222.5L1079.8 221.3L1081.7 220.1L1083.6 218.3L1085.5 216.8L1087.4 219.1L1089.3 217.4L1091.1 214.7L1093.0 217.4L1094.9 216.6L1096.8 215.2L1098.7 214.1L1100.6 216.9L1102.5 216.6L1104.4 214.3L1106.2 213.5L1108.1 212.5L1110.0 211.9L1111.9 210.4L1113.8 208.4L1115.7 211.9L1117.6 208.4L1119.5 208.0L1121.3 207.0L1123.2 207.2L1125.1 204.3L1127.0 206.6L1128.9 207.9L1130.8 204.7L1132.7 204.7L1134.6 204.9L1136.5 205.3L1138.3 203.7L1140.2 201.0L1142.1 202.4L1144.0 201.2L1145.9 203.7L1147.8 201.8L1149.7 201.9L1151.6 203.8L1153.4 200.7L1155.3 201.4L1157.2 200.5L1159.1 201.2L1161.0 199.9L1162.9 198.6L1164.8 196.8L1166.7 195.2L1168.5 195.7L1170.4 195.9L1172.3 195.0L1174.2 195.8L1176.1 197.2L1178.0 195.8L1179.9 196.8L1181.8 197.5L1183.7 194.9L1185.5 192.9L1187.4 193.1L1189.3 194.0L1191.2 193.1L1193.1 193.5L1195.0 194.0L1196.9 193.4L1198.8 195.5L1200.6 193.5L1202.5 193.5L1204.4 192.6L1206.3 192.4L1208.2 194.3L1210.1 192.0L1212.0 193.0L1213.9 188.5L1215.7 182.9L1217.6 183.3L1219.5 181.1L1221.4 180.5L1223.3 181.1L1225.2 182.4L1227.1 179.6L1229.0 178.1L1230.9 179.0L1232.7 181.0L1234.6 178.9L1236.5 178.1L1238.4 176.5L1240.3 179.0L1242.2 177.6L1244.1 178.9L1246.0 179.6L1247.8 182.1L1249.7 179.9L1251.6 182.5L1253.5 179.7L1255.4 173.4L1257.3 175.3L1259.2 178.7L1261.1 178.0L1262.9 175.9L1264.8 174.5L1266.7 177.2L1268.6 178.4" stroke-width="1.65" stroke-opacity="1.0"/>
</g>
<path d="M1306.6 50.9C1306.6 53.2 1306.6 60.5 1306.7 65.0C1306.7 69.5 1306.5 73.1 1307.0 77.6C1307.5 82.1 1308.4 87.0 1309.7 92.2C1311.0 97.4 1313.2 104.2 1314.9 108.9C1316.6 113.6 1318.1 116.9 1320.1 120.4C1322.1 123.9 1324.4 126.5 1327.0 130.0C1329.6 133.5 1333.0 137.5 1335.8 141.5C1338.6 145.5 1341.3 150.3 1344.1 154.0C1346.9 157.7 1349.4 160.6 1352.5 163.4C1355.6 166.2 1359.8 168.2 1362.9 170.7C1366.0 173.2 1369.3 175.4 1371.3 178.5C1373.3 181.6 1374.9 185.8 1375.1 189.5C1375.3 193.2 1373.1 197.0 1372.3 201.0C1371.5 205.0 1370.8 210.1 1370.5 213.6C1370.2 217.1 1371.0 219.4 1370.8 222.0C1370.6 224.6 1370.6 226.4 1369.6 229.4C1368.6 232.4 1367.2 235.8 1365.0 239.8C1362.8 243.8 1359.3 249.0 1356.7 253.4C1354.1 257.8 1351.1 262.2 1349.4 266.0C1347.7 269.8 1346.6 273.2 1346.6 276.0C1346.6 278.8 1347.7 280.6 1349.4 282.7C1351.1 284.8 1353.1 286.9 1356.7 288.9C1360.3 290.9 1366.1 292.9 1371.3 294.8C1376.5 296.7 1382.1 298.3 1388.0 300.0C1393.9 301.7 1401.6 303.6 1406.8 305.2C1412.0 306.8 1416.0 308.5 1419.3 309.8C1422.6 311.1 1425.0 312.0 1426.6 313.1C1428.2 314.2 1428.7 315.5 1428.7 316.7C1428.7 317.9 1428.2 319.1 1426.6 320.4C1425.0 321.6 1424.0 322.6 1419.3 324.2C1414.6 325.8 1405.4 328.1 1398.4 329.8C1391.5 331.5 1384.5 332.8 1377.6 334.4C1370.6 336.0 1363.7 337.4 1356.7 339.2C1349.7 340.9 1341.7 343.0 1335.8 344.9C1329.9 346.8 1325.0 348.8 1321.2 350.7C1317.4 352.6 1315.0 354.1 1312.8 356.0C1310.6 357.9 1309.2 359.8 1308.2 362.2C1307.2 364.6 1307.0 366.7 1306.7 370.6C1306.4 374.5 1306.6 383.1 1306.6 385.6Z" fill="#3aafa9" fill-opacity="0.23" stroke="none"/><path d="M1306.6 50.9C1306.6 53.2 1306.6 60.5 1306.7 65.0C1306.7 69.5 1306.5 73.1 1307.0 77.6C1307.5 82.1 1308.4 87.0 1309.7 92.2C1311.0 97.4 1313.2 104.2 1314.9 108.9C1316.6 113.6 1318.1 116.9 1320.1 120.4C1322.1 123.9 1324.4 126.5 1327.0 130.0C1329.6 133.5 1333.0 137.5 1335.8 141.5C1338.6 145.5 1341.3 150.3 1344.1 154.0C1346.9 157.7 1349.4 160.6 1352.5 163.4C1355.6 166.2 1359.8 168.2 1362.9 170.7C1366.0 173.2 1369.3 175.4 1371.3 178.5C1373.3 181.6 1374.9 185.8 1375.1 189.5C1375.3 193.2 1373.1 197.0 1372.3 201.0C1371.5 205.0 1370.8 210.1 1370.5 213.6C1370.2 217.1 1371.0 219.4 1370.8 222.0C1370.6 224.6 1370.6 226.4 1369.6 229.4C1368.6 232.4 1367.2 235.8 1365.0 239.8C1362.8 243.8 1359.3 249.0 1356.7 253.4C1354.1 257.8 1351.1 262.2 1349.4 266.0C1347.7 269.8 1346.6 273.2 1346.6 276.0C1346.6 278.8 1347.7 280.6 1349.4 282.7C1351.1 284.8 1353.1 286.9 1356.7 288.9C1360.3 290.9 1366.1 292.9 1371.3 294.8C1376.5 296.7 1382.1 298.3 1388.0 300.0C1393.9 301.7 1401.6 303.6 1406.8 305.2C1412.0 306.8 1416.0 308.5 1419.3 309.8C1422.6 311.1 1425.0 312.0 1426.6 313.1C1428.2 314.2 1428.7 315.5 1428.7 316.7C1428.7 317.9 1428.2 319.1 1426.6 320.4C1425.0 321.6 1424.0 322.6 1419.3 324.2C1414.6 325.8 1405.4 328.1 1398.4 329.8C1391.5 331.5 1384.5 332.8 1377.6 334.4C1370.6 336.0 1363.7 337.4 1356.7 339.2C1349.7 340.9 1341.7 343.0 1335.8 344.9C1329.9 346.8 1325.0 348.8 1321.2 350.7C1317.4 352.6 1315.0 354.1 1312.8 356.0C1310.6 357.9 1309.2 359.8 1308.2 362.2C1307.2 364.6 1307.0 366.7 1306.7 370.6C1306.4 374.5 1306.6 383.1 1306.6 385.6Z" fill="none" stroke="#3aafa9" stroke-width="1.35" stroke-linejoin="round"/>
</svg>
</body></html>
